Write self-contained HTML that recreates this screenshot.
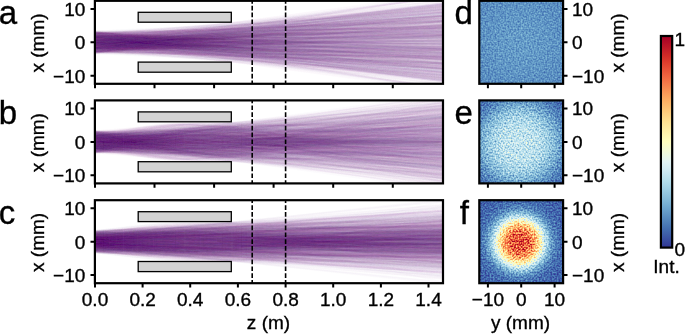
<!DOCTYPE html>
<html lang="en"><head><meta charset="utf-8"><title>Figure</title>
<style>html,body{margin:0;padding:0;background:#fff}body{width:685px;height:334px;overflow:hidden}svg{display:block}text{font-family:"Liberation Sans", sans-serif;fill:#000;stroke:#000;stroke-width:.35px}.r path{fill:none;stroke-opacity:0.0197;stroke-width:1.6}.r path:nth-child(5n+1){stroke:#663399}.r path:nth-child(5n+2){stroke:#993399}.r path:nth-child(5n+3){stroke:#996699}.r path:nth-child(5n+4){stroke:#993399}.r path:nth-child(5n+5){stroke:#666699}</style></head><body>
<svg width="685" height="334" viewBox="0 0 685 334">
<rect width="685" height="334" fill="#fff"/>
<defs>
<linearGradient id="cb" x1="0" y1="0" x2="0" y2="1"><stop offset="0.0000" stop-color="rgb(165,0,38)"/><stop offset="0.0312" stop-color="rgb(179,13,38)"/><stop offset="0.0625" stop-color="rgb(194,28,39)"/><stop offset="0.0938" stop-color="rgb(210,43,39)"/><stop offset="0.1250" stop-color="rgb(221,61,45)"/><stop offset="0.1562" stop-color="rgb(230,80,54)"/><stop offset="0.1875" stop-color="rgb(239,99,63)"/><stop offset="0.2188" stop-color="rgb(245,119,72)"/><stop offset="0.2500" stop-color="rgb(248,140,81)"/><stop offset="0.2812" stop-color="rgb(251,160,91)"/><stop offset="0.3125" stop-color="rgb(253,179,102)"/><stop offset="0.3438" stop-color="rgb(253,195,116)"/><stop offset="0.3750" stop-color="rgb(254,210,131)"/><stop offset="0.4062" stop-color="rgb(254,225,146)"/><stop offset="0.4375" stop-color="rgb(254,235,161)"/><stop offset="0.4688" stop-color="rgb(255,245,175)"/><stop offset="0.5000" stop-color="rgb(255,254,190)"/><stop offset="0.5312" stop-color="rgb(246,251,208)"/><stop offset="0.5625" stop-color="rgb(236,248,226)"/><stop offset="0.5938" stop-color="rgb(226,244,244)"/><stop offset="0.6250" stop-color="rgb(212,237,244)"/><stop offset="0.6562" stop-color="rgb(195,229,240)"/><stop offset="0.6875" stop-color="rgb(178,221,235)"/><stop offset="0.7188" stop-color="rgb(161,209,229)"/><stop offset="0.7500" stop-color="rgb(144,195,221)"/><stop offset="0.7812" stop-color="rgb(127,182,214)"/><stop offset="0.8125" stop-color="rgb(110,166,206)"/><stop offset="0.8438" stop-color="rgb(96,149,196)"/><stop offset="0.8750" stop-color="rgb(81,131,187)"/><stop offset="0.9062" stop-color="rgb(68,113,178)"/><stop offset="0.9375" stop-color="rgb(62,94,168)"/><stop offset="0.9688" stop-color="rgb(55,74,159)"/><stop offset="1.0000" stop-color="rgb(49,54,149)"/></linearGradient>
<radialGradient id="g0" gradientUnits="userSpaceOnUse" cx="521.2" cy="42.3" r="66.7"><stop offset="0.000" stop-color="rgb(43,43,43)"/><stop offset="0.025" stop-color="rgb(43,43,43)"/><stop offset="0.050" stop-color="rgb(43,43,43)"/><stop offset="0.075" stop-color="rgb(43,43,43)"/><stop offset="0.100" stop-color="rgb(43,43,43)"/><stop offset="0.125" stop-color="rgb(43,43,43)"/><stop offset="0.150" stop-color="rgb(43,43,43)"/><stop offset="0.175" stop-color="rgb(43,43,43)"/><stop offset="0.200" stop-color="rgb(43,43,43)"/><stop offset="0.225" stop-color="rgb(42,42,42)"/><stop offset="0.250" stop-color="rgb(42,42,42)"/><stop offset="0.275" stop-color="rgb(42,42,42)"/><stop offset="0.300" stop-color="rgb(42,42,42)"/><stop offset="0.325" stop-color="rgb(42,42,42)"/><stop offset="0.350" stop-color="rgb(41,41,41)"/><stop offset="0.375" stop-color="rgb(41,41,41)"/><stop offset="0.400" stop-color="rgb(41,41,41)"/><stop offset="0.425" stop-color="rgb(41,41,41)"/><stop offset="0.450" stop-color="rgb(40,40,40)"/><stop offset="0.475" stop-color="rgb(40,40,40)"/><stop offset="0.500" stop-color="rgb(40,40,40)"/><stop offset="0.525" stop-color="rgb(39,39,39)"/><stop offset="0.550" stop-color="rgb(39,39,39)"/><stop offset="0.575" stop-color="rgb(39,39,39)"/><stop offset="0.600" stop-color="rgb(38,38,38)"/><stop offset="0.625" stop-color="rgb(38,38,38)"/><stop offset="0.650" stop-color="rgb(38,38,38)"/><stop offset="0.675" stop-color="rgb(38,38,38)"/><stop offset="0.700" stop-color="rgb(37,37,37)"/><stop offset="0.725" stop-color="rgb(37,37,37)"/><stop offset="0.750" stop-color="rgb(37,37,37)"/><stop offset="0.775" stop-color="rgb(36,36,36)"/><stop offset="0.800" stop-color="rgb(36,36,36)"/><stop offset="0.825" stop-color="rgb(36,36,36)"/><stop offset="0.850" stop-color="rgb(36,36,36)"/><stop offset="0.875" stop-color="rgb(35,35,35)"/><stop offset="0.900" stop-color="rgb(35,35,35)"/><stop offset="0.925" stop-color="rgb(35,35,35)"/><stop offset="0.950" stop-color="rgb(35,35,35)"/><stop offset="0.975" stop-color="rgb(34,34,34)"/><stop offset="1.000" stop-color="rgb(34,34,34)"/></radialGradient>
<filter id="h0" x="0" y="0" width="1" height="1" color-interpolation-filters="sRGB"><feTurbulence type="fractalNoise" baseFrequency="0.61" numOctaves="1" seed="3" result="n"/><feColorMatrix in="n" type="matrix" values="1 0 0 0 0  1 0 0 0 0  1 0 0 0 0  0 0 0 0 1" result="n0"/><feGaussianBlur in="n0" stdDeviation="0.5" result="n1"/><feComposite in="SourceGraphic" in2="n1" operator="arithmetic" k1="0.550" k2="0.725" k3="0.170" k4="-0.085" result="m"/><feComponentTransfer in="m"><feFuncR type="table" tableValues="0.192 0.217 0.241 0.266 0.318 0.375 0.433 0.497 0.565 0.633 0.699 0.764 0.830 0.888 0.926 0.964 1.000 0.999 0.997 0.996 0.995 0.994 0.993 0.985 0.973 0.962 0.939 0.903 0.868 0.824 0.762 0.701 0.647"/><feFuncG type="table" tableValues="0.212 0.289 0.367 0.444 0.515 0.584 0.653 0.712 0.766 0.821 0.865 0.897 0.929 0.957 0.971 0.986 0.998 0.959 0.921 0.883 0.825 0.763 0.702 0.627 0.547 0.467 0.390 0.315 0.240 0.170 0.111 0.052 0.000"/><feFuncB type="table" tableValues="0.584 0.622 0.661 0.699 0.735 0.771 0.806 0.838 0.868 0.897 0.922 0.940 0.959 0.955 0.885 0.815 0.745 0.688 0.630 0.572 0.514 0.456 0.398 0.355 0.318 0.281 0.246 0.211 0.177 0.153 0.151 0.150 0.149"/></feComponentTransfer></filter>
<radialGradient id="g1" gradientUnits="userSpaceOnUse" cx="519.5" cy="143.6" r="66.7"><stop offset="0.000" stop-color="rgb(87,87,87)"/><stop offset="0.025" stop-color="rgb(87,87,87)"/><stop offset="0.050" stop-color="rgb(87,87,87)"/><stop offset="0.075" stop-color="rgb(87,87,87)"/><stop offset="0.100" stop-color="rgb(87,87,87)"/><stop offset="0.125" stop-color="rgb(86,86,86)"/><stop offset="0.150" stop-color="rgb(86,86,86)"/><stop offset="0.175" stop-color="rgb(86,86,86)"/><stop offset="0.200" stop-color="rgb(85,85,85)"/><stop offset="0.225" stop-color="rgb(85,85,85)"/><stop offset="0.250" stop-color="rgb(84,84,84)"/><stop offset="0.275" stop-color="rgb(83,83,83)"/><stop offset="0.300" stop-color="rgb(82,82,82)"/><stop offset="0.325" stop-color="rgb(80,80,80)"/><stop offset="0.350" stop-color="rgb(78,78,78)"/><stop offset="0.375" stop-color="rgb(76,76,76)"/><stop offset="0.400" stop-color="rgb(74,74,74)"/><stop offset="0.425" stop-color="rgb(71,71,71)"/><stop offset="0.450" stop-color="rgb(68,68,68)"/><stop offset="0.475" stop-color="rgb(65,65,65)"/><stop offset="0.500" stop-color="rgb(62,62,62)"/><stop offset="0.525" stop-color="rgb(58,58,58)"/><stop offset="0.550" stop-color="rgb(55,55,55)"/><stop offset="0.575" stop-color="rgb(51,51,51)"/><stop offset="0.600" stop-color="rgb(47,47,47)"/><stop offset="0.625" stop-color="rgb(44,44,44)"/><stop offset="0.650" stop-color="rgb(40,40,40)"/><stop offset="0.675" stop-color="rgb(37,37,37)"/><stop offset="0.700" stop-color="rgb(34,34,34)"/><stop offset="0.725" stop-color="rgb(31,31,31)"/><stop offset="0.750" stop-color="rgb(29,29,29)"/><stop offset="0.775" stop-color="rgb(27,27,27)"/><stop offset="0.800" stop-color="rgb(25,25,25)"/><stop offset="0.825" stop-color="rgb(23,23,23)"/><stop offset="0.850" stop-color="rgb(22,22,22)"/><stop offset="0.875" stop-color="rgb(21,21,21)"/><stop offset="0.900" stop-color="rgb(20,20,20)"/><stop offset="0.925" stop-color="rgb(19,19,19)"/><stop offset="0.950" stop-color="rgb(19,19,19)"/><stop offset="0.975" stop-color="rgb(19,19,19)"/><stop offset="1.000" stop-color="rgb(18,18,18)"/></radialGradient>
<filter id="h1" x="0" y="0" width="1" height="1" color-interpolation-filters="sRGB"><feTurbulence type="fractalNoise" baseFrequency="0.61" numOctaves="1" seed="7" result="n"/><feColorMatrix in="n" type="matrix" values="1 0 0 0 0  1 0 0 0 0  1 0 0 0 0  0 0 0 0 1" result="n0"/><feGaussianBlur in="n0" stdDeviation="0.5" result="n1"/><feComposite in="SourceGraphic" in2="n1" operator="arithmetic" k1="0.825" k2="0.587" k3="0.255" k4="-0.128" result="m"/><feComponentTransfer in="m"><feFuncR type="table" tableValues="0.192 0.217 0.241 0.266 0.318 0.375 0.433 0.497 0.565 0.633 0.699 0.764 0.830 0.888 0.926 0.964 1.000 0.999 0.997 0.996 0.995 0.994 0.993 0.985 0.973 0.962 0.939 0.903 0.868 0.824 0.762 0.701 0.647"/><feFuncG type="table" tableValues="0.212 0.289 0.367 0.444 0.515 0.584 0.653 0.712 0.766 0.821 0.865 0.897 0.929 0.957 0.971 0.986 0.998 0.959 0.921 0.883 0.825 0.763 0.702 0.627 0.547 0.467 0.390 0.315 0.240 0.170 0.111 0.052 0.000"/><feFuncB type="table" tableValues="0.584 0.622 0.661 0.699 0.735 0.771 0.806 0.838 0.868 0.897 0.922 0.940 0.959 0.955 0.885 0.815 0.745 0.688 0.630 0.572 0.514 0.456 0.398 0.355 0.318 0.281 0.246 0.211 0.177 0.153 0.151 0.150 0.149"/></feComponentTransfer></filter>
<radialGradient id="g2" gradientUnits="userSpaceOnUse" cx="519.5" cy="242.4" r="66.7"><stop offset="0.000" stop-color="rgb(215,215,215)"/><stop offset="0.025" stop-color="rgb(215,215,215)"/><stop offset="0.050" stop-color="rgb(215,215,215)"/><stop offset="0.075" stop-color="rgb(214,214,214)"/><stop offset="0.100" stop-color="rgb(212,212,212)"/><stop offset="0.125" stop-color="rgb(209,209,209)"/><stop offset="0.150" stop-color="rgb(205,205,205)"/><stop offset="0.175" stop-color="rgb(198,198,198)"/><stop offset="0.200" stop-color="rgb(190,190,190)"/><stop offset="0.225" stop-color="rgb(180,180,180)"/><stop offset="0.250" stop-color="rgb(169,169,169)"/><stop offset="0.275" stop-color="rgb(156,156,156)"/><stop offset="0.300" stop-color="rgb(142,142,142)"/><stop offset="0.325" stop-color="rgb(126,126,126)"/><stop offset="0.350" stop-color="rgb(111,111,111)"/><stop offset="0.375" stop-color="rgb(96,96,96)"/><stop offset="0.400" stop-color="rgb(82,82,82)"/><stop offset="0.425" stop-color="rgb(69,69,69)"/><stop offset="0.450" stop-color="rgb(58,58,58)"/><stop offset="0.475" stop-color="rgb(48,48,48)"/><stop offset="0.500" stop-color="rgb(40,40,40)"/><stop offset="0.525" stop-color="rgb(34,34,34)"/><stop offset="0.550" stop-color="rgb(30,30,30)"/><stop offset="0.575" stop-color="rgb(26,26,26)"/><stop offset="0.600" stop-color="rgb(24,24,24)"/><stop offset="0.625" stop-color="rgb(22,22,22)"/><stop offset="0.650" stop-color="rgb(21,21,21)"/><stop offset="0.675" stop-color="rgb(20,20,20)"/><stop offset="0.700" stop-color="rgb(19,19,19)"/><stop offset="0.725" stop-color="rgb(19,19,19)"/><stop offset="0.750" stop-color="rgb(18,18,18)"/><stop offset="0.775" stop-color="rgb(18,18,18)"/><stop offset="0.800" stop-color="rgb(17,17,17)"/><stop offset="0.825" stop-color="rgb(17,17,17)"/><stop offset="0.850" stop-color="rgb(17,17,17)"/><stop offset="0.875" stop-color="rgb(17,17,17)"/><stop offset="0.900" stop-color="rgb(16,16,16)"/><stop offset="0.925" stop-color="rgb(16,16,16)"/><stop offset="0.950" stop-color="rgb(16,16,16)"/><stop offset="0.975" stop-color="rgb(16,16,16)"/><stop offset="1.000" stop-color="rgb(15,15,15)"/></radialGradient>
<filter id="h2" x="0" y="0" width="1" height="1" color-interpolation-filters="sRGB"><feTurbulence type="fractalNoise" baseFrequency="0.61" numOctaves="1" seed="11" result="n"/><feColorMatrix in="n" type="matrix" values="1 0 0 0 0  1 0 0 0 0  1 0 0 0 0  0 0 0 0 1" result="n0"/><feGaussianBlur in="n0" stdDeviation="0.5" result="n1"/><feComposite in="SourceGraphic" in2="n1" operator="arithmetic" k1="0.770" k2="0.615" k3="0.238" k4="-0.119" result="m"/><feComponentTransfer in="m"><feFuncR type="table" tableValues="0.192 0.217 0.241 0.266 0.318 0.375 0.433 0.497 0.565 0.633 0.699 0.764 0.830 0.888 0.926 0.964 1.000 0.999 0.997 0.996 0.995 0.994 0.993 0.985 0.973 0.962 0.939 0.903 0.868 0.824 0.762 0.701 0.647"/><feFuncG type="table" tableValues="0.212 0.289 0.367 0.444 0.515 0.584 0.653 0.712 0.766 0.821 0.865 0.897 0.929 0.957 0.971 0.986 0.998 0.959 0.921 0.883 0.825 0.763 0.702 0.627 0.547 0.467 0.390 0.315 0.240 0.170 0.111 0.052 0.000"/><feFuncB type="table" tableValues="0.584 0.622 0.661 0.699 0.735 0.771 0.806 0.838 0.868 0.897 0.922 0.940 0.959 0.955 0.885 0.815 0.745 0.688 0.630 0.572 0.514 0.456 0.398 0.355 0.318 0.281 0.246 0.211 0.177 0.153 0.151 0.150 0.149"/></feComponentTransfer></filter>
<clipPath id="c0"><rect x="94.9" y="0.8" width="348.1" height="83"/></clipPath>
<clipPath id="c1"><rect x="94.9" y="100.4" width="348.1" height="83"/></clipPath>
<clipPath id="c2"><rect x="94.9" y="200.2" width="348.1" height="83"/></clipPath>
</defs>
<g clip-path="url(#c0)"><g class="r" id="r0">
<path d="M95,42L445.2,56.2"/>
<path d="M95,38.2L445.2,4.4"/>
<path d="M95,42.2L445.2,60.4"/>
<path d="M95,48.8L445.2,45.1"/>
<path d="M95,45.1L445.2,21"/>
<path d="M95,47L445.2,2.7"/>
<path d="M95,37L445.2,54.5"/>
<path d="M95,45.4L445.2,45.3"/>
<path d="M95,41.4L445.2,34.4"/>
<path d="M95,46L445.2,60.5"/>
<path d="M95,42.9L445.2,74.1"/>
<path d="M95,49.5L445.2,29.2"/>
<path d="M95,47.6L445.2,7.8"/>
<path d="M95,41.8L445.2,36.4"/>
<path d="M95,46.3L445.2,56"/>
<path d="M95,52.8L445.2,15.2"/>
<path d="M95,33.4L445.2,31.9"/>
<path d="M95,41.4L445.2,70.7"/>
<path d="M95,38.2L445.2,48.9"/>
<path d="M95,43.2L445.2,41"/>
<path d="M95,45.9L445.2,44.1"/>
<path d="M95,40.3L445.2,23.8"/>
<path d="M95,38.8L445.2,66.2"/>
<path d="M95,50.9L445.2,56.3"/>
<path d="M95,50.7L445.2,35.4"/>
<path d="M95,39.7L445.2,15.6"/>
<path d="M95,51.3L445.2,64.9"/>
<path d="M95,44.9L445.2,57.5"/>
<path d="M95,37.3L445.2,42.3"/>
<path d="M95,39.6L445.2,43.9"/>
<path d="M95,35.9L445.2,54.2"/>
<path d="M95,33.2L445.2,65.8"/>
<path d="M95,50.6L445.2,16.3"/>
<path d="M95,32.7L445.2,53"/>
<path d="M95,46.9L445.2,25.1"/>
<path d="M95,34.4L445.2,72.3"/>
<path d="M95,43.8L445.2,63.5"/>
<path d="M95,35.9L445.2,48.8"/>
<path d="M95,38.3L445.2,28.4"/>
<path d="M95,41.8L445.2,8.5"/>
<path d="M95,43.3L445.2,4.1"/>
<path d="M95,40L445.2,59.1"/>
<path d="M95,41.5L445.2,29.2"/>
<path d="M95,46.3L445.2,15.2"/>
<path d="M95,43.2L445.2,34.9"/>
<path d="M95,32.8L445.2,68.7"/>
<path d="M95,49.3L445.2,40.6"/>
<path d="M95,35.5L445.2,49.3"/>
<path d="M95,40.8L445.2,56.6"/>
<path d="M95,34.9L445.2,22.7"/>
<path d="M95,31.6L445.2,68.1"/>
<path d="M95,39.4L445.2,79.7"/>
<path d="M95,36.8L445.2,53.4"/>
<path d="M95,36.6L445.2,26.2"/>
<path d="M95,37L445.2,7.3"/>
<path d="M95,36.8L445.2,44.5"/>
<path d="M95,36.7L445.2,58.6"/>
<path d="M95,47.9L445.2,46"/>
<path d="M95,45.2L445.2,61.5"/>
<path d="M95,37.1L445.2,0.8"/>
<path d="M95,33.8L445.2,77.6"/>
<path d="M95,47.6L445.2,50.1"/>
<path d="M95,38.8L445.2,77.3"/>
<path d="M95,41.2L445.2,7.5"/>
<path d="M95,38.6L445.2,37"/>
<path d="M95,47.2L445.2,33.5"/>
<path d="M95,32.4L445.2,48.9"/>
<path d="M95,37.7L445.2,47.7"/>
<path d="M95,39.2L445.2,34.3"/>
<path d="M95,42.3L445.2,52.8"/>
<path d="M95,48.6L445.2,4.5"/>
<path d="M95,37L445.2,33.5"/>
<path d="M95,39.7L445.2,18.9"/>
<path d="M95,43.1L445.2,15.5"/>
<path d="M95,45.2L445.2,23.6"/>
<path d="M95,36.2L445.2,88.5"/>
<path d="M95,47L445.2,11.9"/>
<path d="M95,48.8L445.2,21.1"/>
<path d="M95,39.8L445.2,49.3"/>
<path d="M95,48.8L445.2,21.8"/>
<path d="M95,41.2L445.2,57.3"/>
<path d="M95,34.2L445.2,79.5"/>
<path d="M95,42.8L445.2,58.1"/>
<path d="M95,32.8L445.2,68.9"/>
<path d="M95,37.2L445.2,75"/>
<path d="M95,38.9L445.2,56.3"/>
<path d="M95,33.8L445.2,36.6"/>
<path d="M95,40.4L445.2,33.7"/>
<path d="M95,33.8L445.2,53.2"/>
<path d="M95,40.7L445.2,55.1"/>
<path d="M95,36L445.2,82.3"/>
<path d="M95,42.2L445.2,3.2"/>
<path d="M95,35.1L445.2,50.2"/>
<path d="M95,42.9L445.2,66.1"/>
<path d="M95,49.6L445.2,26.9"/>
<path d="M95,37.5L445.2,80.5"/>
<path d="M95,32.3L445.2,59.9"/>
<path d="M95,34L445.2,26.5"/>
<path d="M95,41.9L445.2,6.3"/>
<path d="M95,40.1L445.2,22.1"/>
<path d="M95,48.3L445.2,46"/>
<path d="M95,35.9L445.2,44"/>
<path d="M95,39.6L445.2,56.2"/>
<path d="M95,33.7L445.2,48.7"/>
<path d="M95,38.4L445.2,2.7"/>
<path d="M95,45.5L445.2,22.6"/>
<path d="M95,46.2L445.2,32.6"/>
<path d="M95,40.3L445.2,23.6"/>
<path d="M95,33.1L445.2,69"/>
<path d="M95,41.1L445.2,38.6"/>
<path d="M95,44L445.2,25.2"/>
<path d="M95,42.3L445.2,50.4"/>
<path d="M95,34.4L445.2,20.3"/>
<path d="M95,35.5L445.2,34.6"/>
<path d="M95,40L445.2,43.2"/>
<path d="M95,46.3L445.2,12.3"/>
<path d="M95,35L445.2,58.8"/>
<path d="M95,44.2L445.2,74.7"/>
<path d="M95,39.6L445.2,12.6"/>
<path d="M95,52.1L445.2,72.1"/>
<path d="M95,38.7L445.2,30.1"/>
<path d="M95,32.2L445.2,55.5"/>
<path d="M95,45.4L445.2,56.9"/>
<path d="M95,39.1L445.2,8.1"/>
<path d="M95,40.3L445.2,29.9"/>
<path d="M95,41.6L445.2,29.1"/>
<path d="M95,39.4L445.2,59.6"/>
<path d="M95,51.7L445.2,64.7"/>
<path d="M95,44.8L445.2,17.8"/>
<path d="M95,41.5L445.2,19.6"/>
<path d="M95,51.1L445.2,15.6"/>
<path d="M95,50.9L445.2,37.6"/>
<path d="M95,42.9L445.2,77.9"/>
<path d="M95,44.3L445.2,48.9"/>
<path d="M95,40.9L445.2,56.7"/>
<path d="M95,52.1L445.2,14"/>
<path d="M95,49.1L445.2,62.8"/>
<path d="M95,45.4L445.2,18.7"/>
<path d="M95,51.4L445.2,5.2"/>
<path d="M95,33.6L445.2,21.5"/>
<path d="M95,33.7L445.2,13.9"/>
<path d="M95,43L445.2,74.4"/>
<path d="M95,39.1L445.2,36.3"/>
<path d="M95,45.2L445.2,60.1"/>
<path d="M95,46.8L445.2,13.8"/>
<path d="M95,51.7L445.2,9.9"/>
<path d="M95,42.2L445.2,33.9"/>
<path d="M95,48.9L445.2,31.9"/>
<path d="M95,41.9L445.2,34.7"/>
<path d="M95,35.1L445.2,48.1"/>
<path d="M95,51.1L445.2,64.3"/>
<path d="M95,43.1L445.2,55.9"/>
<path d="M95,37.8L445.2,67"/>
<path d="M95,49L445.2,28"/>
<path d="M95,48.6L445.2,32"/>
<path d="M95,43L445.2,41.2"/>
<path d="M95,33.9L445.2,81.5"/>
<path d="M95,48.5L445.2,16.7"/>
<path d="M95,47.8L445.2,21"/>
<path d="M95,37.8L445.2,41.2"/>
<path d="M95,45L445.2,35"/>
<path d="M95,53.4L445.2,56.1"/>
<path d="M95,37.5L445.2,17.5"/>
<path d="M95,52.1L445.2,17.8"/>
<path d="M95,42.5L445.2,27.9"/>
<path d="M95,45.1L445.2,8.4"/>
<path d="M95,47.2L445.2,59.7"/>
<path d="M95,31.9L445.2,62.5"/>
<path d="M95,38.3L445.2,43.2"/>
<path d="M95,48.9L445.2,9.5"/>
<path d="M95,44.6L445.2,-3.5"/>
<path d="M95,42.8L445.2,29.4"/>
<path d="M95,38.2L445.2,69.2"/>
<path d="M95,43.3L445.2,36"/>
<path d="M95,35.2L445.2,75.7"/>
<path d="M95,34.8L445.2,27.3"/>
<path d="M95,49.6L445.2,11.3"/>
<path d="M95,44.8L445.2,51.7"/>
<path d="M95,37L445.2,31.4"/>
<path d="M95,40.6L445.2,75.8"/>
<path d="M95,36.6L445.2,51.8"/>
<path d="M95,52.2L445.2,37.1"/>
<path d="M95,43.2L445.2,6.3"/>
<path d="M95,48L445.2,69.3"/>
<path d="M95,48L445.2,24.5"/>
<path d="M95,40.2L445.2,11.3"/>
<path d="M95,42.4L445.2,78.2"/>
<path d="M95,42.7L445.2,26.2"/>
<path d="M95,44.3L445.2,52.8"/>
<path d="M95,48.6L445.2,57.8"/>
<path d="M95,41.4L445.2,41.7"/>
<path d="M95,37.4L445.2,33.9"/>
<path d="M95,43.3L445.2,20.1"/>
<path d="M95,35.1L445.2,31.9"/>
<path d="M95,44.4L445.2,56.7"/>
<path d="M95,45.3L445.2,4.2"/>
<path d="M95,52L445.2,39.1"/>
<path d="M95,36.6L445.2,46.4"/>
<path d="M95,33.7L445.2,62.9"/>
<path d="M95,34.8L445.2,65.6"/>
<path d="M95,34.8L445.2,48.3"/>
<path d="M95,34.7L445.2,3.8"/>
<path d="M95,37.4L445.2,44.3"/>
<path d="M95,43.9L445.2,54.4"/>
<path d="M95,37.8L445.2,36.7"/>
<path d="M95,33.5L445.2,72"/>
<path d="M95,36.7L445.2,9.4"/>
<path d="M95,49.8L445.2,18.2"/>
<path d="M95,49.7L445.2,25.3"/>
<path d="M95,48.1L445.2,17.1"/>
<path d="M95,40L445.2,89.2"/>
<path d="M95,42.9L445.2,0.6"/>
<path d="M95,34.7L445.2,46.1"/>
<path d="M95,48.9L445.2,32.9"/>
<path d="M95,45L445.2,31.4"/>
<path d="M95,37.3L445.2,63"/>
<path d="M95,43.2L445.2,82.6"/>
<path d="M95,44.8L445.2,78"/>
<path d="M95,49.4L445.2,16.9"/>
<path d="M95,42.4L445.2,5.5"/>
<path d="M95,48.2L445.2,15.1"/>
<path d="M95,39.8L445.2,47.4"/>
<path d="M95,41.6L445.2,16.6"/>
<path d="M95,37L445.2,25.4"/>
<path d="M95,38.4L445.2,49.3"/>
<path d="M95,50.7L445.2,8.4"/>
<path d="M95,38.6L445.2,37.2"/>
<path d="M95,53.5L445.2,28.9"/>
<path d="M95,46L445.2,54.5"/>
<path d="M95,37L445.2,72.2"/>
<path d="M95,51.5L445.2,25.3"/>
<path d="M95,36.3L445.2,18.2"/>
<path d="M95,45.2L445.2,56.6"/>
<path d="M95,39L445.2,80.8"/>
<path d="M95,39.6L445.2,38.4"/>
<path d="M95,48.7L445.2,31.8"/>
<path d="M95,39.7L445.2,63.9"/>
<path d="M95,37.4L445.2,78"/>
<path d="M95,49.4L445.2,39.4"/>
<path d="M95,37.7L445.2,58.5"/>
<path d="M95,48.3L445.2,3.1"/>
<path d="M95,39.3L445.2,45.7"/>
<path d="M95,49.9L445.2,43.2"/>
<path d="M95,50.7L445.2,65.3"/>
<path d="M95,36.1L445.2,37.1"/>
<path d="M95,35.8L445.2,3.2"/>
<path d="M95,38.5L445.2,74.9"/>
<path d="M95,53.3L445.2,32.6"/>
<path d="M95,42.4L445.2,60.8"/>
<path d="M95,42.3L445.2,56.4"/>
<path d="M95,40.6L445.2,22.2"/>
<path d="M95,42.3L445.2,40.6"/>
<path d="M95,31.9L445.2,77.2"/>
<path d="M95,34.2L445.2,69.3"/>
<path d="M95,44.8L445.2,30"/>
<path d="M95,39.5L445.2,78.3"/>
<path d="M95,32L445.2,54.4"/>
<path d="M95,36.9L445.2,60.3"/>
<path d="M95,32.6L445.2,66.5"/>
<path d="M95,37.7L445.2,26.1"/>
<path d="M95,40.9L445.2,19.9"/>
<path d="M95,36.6L445.2,75.5"/>
<path d="M95,46.4L445.2,58.8"/>
<path d="M95,49L445.2,41.6"/>
<path d="M95,41.3L445.2,46.8"/>
<path d="M95,46.3L445.2,16.7"/>
<path d="M95,46.7L445.2,37.7"/>
<path d="M95,51.8L445.2,62"/>
<path d="M95,39L445.2,41.3"/>
<path d="M95,31.2L445.2,13.6"/>
<path d="M95,36.6L445.2,9.5"/>
<path d="M95,37.3L445.2,27.6"/>
<path d="M95,49.9L445.2,63.5"/>
<path d="M95,39.6L445.2,27.7"/>
<path d="M95,42.6L445.2,41.8"/>
<path d="M95,50.9L445.2,64.7"/>
<path d="M95,49.5L445.2,27.2"/>
<path d="M95,42.3L445.2,35.9"/>
<path d="M95,40.8L445.2,15.5"/>
<path d="M95,51L445.2,74.5"/>
<path d="M95,45L445.2,20.6"/>
<path d="M95,35L445.2,15.9"/>
<path d="M95,40.9L445.2,42.3"/>
<path d="M95,36.2L445.2,32.6"/>
<path d="M95,45.3L445.2,34.7"/>
<path d="M95,36.4L445.2,77.7"/>
<path d="M95,43.2L445.2,8.9"/>
<path d="M95,32.1L445.2,71.6"/>
<path d="M95,35.6L445.2,16.1"/>
<path d="M95,48.3L445.2,4.7"/>
<path d="M95,34.4L445.2,90.3"/>
<path d="M95,43.9L445.2,59.8"/>
<path d="M95,43.5L445.2,55.4"/>
<path d="M95,41.2L445.2,57.1"/>
<path d="M95,48.3L445.2,47.9"/>
<path d="M95,44.7L445.2,56"/>
<path d="M95,46.8L445.2,49.4"/>
<path d="M95,50.5L445.2,48.2"/>
<path d="M95,40.8L445.2,48.6"/>
<path d="M95,42.9L445.2,-4.4"/>
<path d="M95,37.8L445.2,77.1"/>
<path d="M95,33.6L445.2,57.4"/>
<path d="M95,40.6L445.2,65.4"/>
<path d="M95,40.5L445.2,71.9"/>
<path d="M95,40.9L445.2,72.5"/>
<path d="M95,46.1L445.2,31.2"/>
<path d="M95,32.5L445.2,62.9"/>
<path d="M95,32.3L445.2,23.3"/>
<path d="M95,39.3L445.2,18.2"/>
<path d="M95,42.4L445.2,75.7"/>
<path d="M95,48.2L445.2,-4.2"/>
<path d="M95,49.9L445.2,37.9"/>
<path d="M95,43.9L445.2,58.8"/>
<path d="M95,31.5L445.2,26.7"/>
<path d="M95,46.1L445.2,19.3"/>
<path d="M95,49.3L445.2,46.5"/>
<path d="M95,35.4L445.2,50.8"/>
<path d="M95,36.8L445.2,22.8"/>
<path d="M95,45.1L445.2,12.9"/>
<path d="M95,53.2L445.2,68.1"/>
<path d="M95,32.7L445.2,48.7"/>
<path d="M95,38.9L445.2,17"/>
<path d="M95,49L445.2,14.4"/>
<path d="M95,38.1L445.2,49.8"/>
<path d="M95,40.9L445.2,31.4"/>
<path d="M95,44.3L445.2,9.7"/>
<path d="M95,40.6L445.2,34.9"/>
<path d="M95,48.4L445.2,39.8"/>
<path d="M95,48L445.2,75.2"/>
<path d="M95,43.2L445.2,54.2"/>
<path d="M95,46.2L445.2,27.3"/>
<path d="M95,45.2L445.2,24.2"/>
<path d="M95,40.6L445.2,70.7"/>
<path d="M95,36.4L445.2,18.6"/>
<path d="M95,44.4L445.2,13.6"/>
<path d="M95,50.9L445.2,58"/>
<path d="M95,49.2L445.2,49"/>
<path d="M95,33L445.2,49.4"/>
<path d="M95,47.3L445.2,5.8"/>
<path d="M95,43.1L445.2,50.9"/>
<path d="M95,47.6L445.2,40.9"/>
<path d="M95,48.4L445.2,53.8"/>
<path d="M95,39.6L445.2,5"/>
<path d="M95,42.6L445.2,88"/>
<path d="M95,47L445.2,14.5"/>
<path d="M95,40.7L445.2,54.9"/>
<path d="M95,51.5L445.2,67.3"/>
<path d="M95,34.1L445.2,74.7"/>
<path d="M95,40.2L445.2,73.1"/>
<path d="M95,32.7L445.2,28.2"/>
<path d="M95,40.5L445.2,52.6"/>
<path d="M95,41.9L445.2,78.1"/>
<path d="M95,39.3L445.2,45.2"/>
<path d="M95,37.4L445.2,73.9"/>
<path d="M95,41.3L445.2,25.8"/>
<path d="M95,36.8L445.2,19.9"/>
<path d="M95,44.6L445.2,25.1"/>
<path d="M95,34.8L445.2,26.6"/>
<path d="M95,49L445.2,5.9"/>
<path d="M95,42L445.2,28.1"/>
<path d="M95,44.9L445.2,24.6"/>
<path d="M95,42L445.2,47.1"/>
<path d="M95,31.7L445.2,67.6"/>
<path d="M95,45.6L445.2,26.4"/>
<path d="M95,44.3L445.2,66"/>
<path d="M95,33.8L445.2,49"/>
<path d="M95,40.5L445.2,72.8"/>
<path d="M95,47.8L445.2,15.2"/>
<path d="M95,37.4L445.2,68.4"/>
<path d="M95,48.4L445.2,-3.2"/>
<path d="M95,43L445.2,40.5"/>
<path d="M95,50.3L445.2,63.5"/>
<path d="M95,43.8L445.2,54.8"/>
<path d="M95,34.2L445.2,34.4"/>
<path d="M95,37.6L445.2,46.8"/>
<path d="M95,40.4L445.2,4.5"/>
<path d="M95,43.5L445.2,12"/>
<path d="M95,52.7L445.2,49.9"/>
<path d="M95,50.5L445.2,62.9"/>
<path d="M95,43.5L445.2,78.1"/>
<path d="M95,33.8L445.2,41.7"/>
<path d="M95,48.5L445.2,58.8"/>
<path d="M95,43.9L445.2,15.5"/>
<path d="M95,41.3L445.2,54"/>
<path d="M95,38.8L445.2,59.7"/>
<path d="M95,41.2L445.2,72.4"/>
<path d="M95,51.3L445.2,62.9"/>
<path d="M95,39.7L445.2,70.9"/>
<path d="M95,42.1L445.2,3.2"/>
<path d="M95,38L445.2,81.2"/>
<path d="M95,43.5L445.2,34"/>
<path d="M95,48.4L445.2,38.2"/>
<path d="M95,49.1L445.2,68.8"/>
<path d="M95,51.8L445.2,19.6"/>
<path d="M95,47.8L445.2,50.9"/>
<path d="M95,45.2L445.2,49"/>
<path d="M95,43.3L445.2,73"/>
<path d="M95,38.3L445.2,34.1"/>
<path d="M95,51.2L445.2,60"/>
<path d="M95,33.5L445.2,52.2"/>
<path d="M95,42.9L445.2,59.7"/>
<path d="M95,33.9L445.2,11.5"/>
<path d="M95,45.6L445.2,57.5"/>
<path d="M95,44.5L445.2,80.2"/>
<path d="M95,40L445.2,38.2"/>
<path d="M95,40.3L445.2,12.3"/>
<path d="M95,50.4L445.2,50.6"/>
<path d="M95,39.9L445.2,4.7"/>
<path d="M95,45.4L445.2,14.6"/>
<path d="M95,44.3L445.2,70.6"/>
<path d="M95,40L445.2,46.9"/>
<path d="M95,45.7L445.2,41"/>
<path d="M95,34.2L445.2,11.4"/>
<path d="M95,36.4L445.2,25.9"/>
<path d="M95,52.6L445.2,3.8"/>
<path d="M95,48.8L445.2,42.5"/>
<path d="M95,42L445.2,5.4"/>
<path d="M95,41.4L445.2,68.9"/>
<path d="M95,49.2L445.2,-3"/>
<path d="M95,35.8L445.2,15.8"/>
<path d="M95,36.4L445.2,73.8"/>
<path d="M95,37.2L445.2,17.9"/>
<path d="M95,50.1L445.2,44.7"/>
<path d="M95,38.4L445.2,44.5"/>
<path d="M95,46.1L445.2,63.8"/>
<path d="M95,43.2L445.2,34.7"/>
<path d="M95,49.5L445.2,11.2"/>
<path d="M95,47.6L445.2,14.6"/>
<path d="M95,33.8L445.2,56.2"/>
<path d="M95,47.8L445.2,41.9"/>
<path d="M95,32.9L445.2,27.5"/>
<path d="M95,41.3L445.2,54.9"/>
<path d="M95,37.3L445.2,42"/>
<path d="M95,47.9L445.2,7"/>
<path d="M95,40.1L445.2,40.9"/>
<path d="M95,35.9L445.2,44.8"/>
<path d="M95,35.3L445.2,19.7"/>
<path d="M95,47.2L445.2,20.8"/>
<path d="M95,39.9L445.2,61.2"/>
<path d="M95,34.7L445.2,30.5"/>
<path d="M95,34.1L445.2,81.8"/>
<path d="M95,41.8L445.2,42.2"/>
<path d="M95,39.3L445.2,39.6"/>
<path d="M95,37.5L445.2,44.3"/>
<path d="M95,51.2L445.2,34.9"/>
<path d="M95,36.3L445.2,18.2"/>
<path d="M95,46.9L445.2,14.6"/>
<path d="M95,41.6L445.2,79.5"/>
<path d="M95,42.6L445.2,60.2"/>
<path d="M95,35.2L445.2,78.9"/>
<path d="M95,50.6L445.2,26.8"/>
<path d="M95,51.9L445.2,27.8"/>
<path d="M95,38.5L445.2,73.2"/>
<path d="M95,37.3L445.2,8.3"/>
<path d="M95,38.5L445.2,62.2"/>
<path d="M95,37.3L445.2,48.7"/>
<path d="M95,36.1L445.2,74.5"/>
<path d="M95,53L445.2,51.1"/>
<path d="M95,44.5L445.2,43.8"/>
<path d="M95,34.4L445.2,54.4"/>
<path d="M95,36.7L445.2,9.8"/>
<path d="M95,46L445.2,75"/>
<path d="M95,49.9L445.2,63.5"/>
<path d="M95,35.6L445.2,48.1"/>
<path d="M95,50L445.2,16"/>
<path d="M95,47.9L445.2,38.6"/>
<path d="M95,43.5L445.2,80"/>
<path d="M95,41.1L445.2,47.5"/>
<path d="M95,48.6L445.2,45.6"/>
<path d="M95,38.7L445.2,72.5"/>
<path d="M95,40.3L445.2,15.2"/>
<path d="M95,37.1L445.2,57.7"/>
<path d="M95,43.3L445.2,40.5"/>
<path d="M95,47.8L445.2,3.9"/>
<path d="M95,41.2L445.2,67.9"/>
<path d="M95,34.4L445.2,20.8"/>
<path d="M95,47.9L445.2,60.2"/>
<path d="M95,46.3L445.2,46.9"/>
<path d="M95,37.7L445.2,33.8"/>
<path d="M95,43.7L445.2,48.6"/>
<path d="M95,37.6L445.2,33.6"/>
<path d="M95,50.9L445.2,77.4"/>
<path d="M95,42L445.2,86.4"/>
<path d="M95,40.3L445.2,-4.7"/>
<path d="M95,49.8L445.2,52.2"/>
<path d="M95,43.3L445.2,7.3"/>
<path d="M95,33L445.2,9.3"/>
<path d="M95,34.3L445.2,78.4"/>
<path d="M95,37.8L445.2,82.9"/>
<path d="M95,48.9L445.2,76.3"/>
<path d="M95,45L445.2,13.3"/>
<path d="M95,38L445.2,27.7"/>
<path d="M95,47.1L445.2,34.2"/>
<path d="M95,41L445.2,62.3"/>
<path d="M95,43.1L445.2,43.6"/>
<path d="M95,43L445.2,35.5"/>
<path d="M95,46.8L445.2,55"/>
<path d="M95,40.6L445.2,58.8"/>
<path d="M95,51.1L445.2,25.7"/>
<path d="M95,42.5L445.2,68.4"/>
<path d="M95,37.8L445.2,15.7"/>
<path d="M95,39.9L445.2,33.9"/>
<path d="M95,47.3L445.2,20.5"/>
<path d="M95,33L445.2,48.8"/>
<path d="M95,48.8L445.2,13.9"/>
<path d="M95,47L445.2,35.3"/>
<path d="M95,37.7L445.2,5.9"/>
<path d="M95,41.2L445.2,20.5"/>
<path d="M95,48L445.2,63.3"/>
<path d="M95,32.6L445.2,47.6"/>
<path d="M95,32.1L445.2,37.6"/>
<path d="M95,32.9L445.2,26.8"/>
<path d="M95,48.4L445.2,26.3"/>
<path d="M95,49.8L445.2,66.5"/>
<path d="M95,34.7L445.2,33.2"/>
<path d="M95,34L445.2,63.1"/>
<path d="M95,34.8L445.2,39.2"/>
<path d="M95,41.3L445.2,-0.1"/>
<path d="M95,39.2L445.2,11.5"/>
<path d="M95,33.8L445.2,40.8"/>
<path d="M95,40.8L445.2,31"/>
<path d="M95,37.8L445.2,57.6"/>
<path d="M95,52L445.2,23.9"/>
<path d="M95,43L445.2,68.4"/>
<path d="M95,42.6L445.2,21.1"/>
<path d="M95,33.6L445.2,72"/>
<path d="M95,45.7L445.2,86.6"/>
<path d="M95,34.7L445.2,33.3"/>
<path d="M95,42.1L445.2,76.1"/>
<path d="M95,39.8L445.2,25.6"/>
<path d="M95,44.3L445.2,63.9"/>
<path d="M95,36.6L445.2,62.5"/>
<path d="M95,50.2L445.2,78.6"/>
<path d="M95,36.9L445.2,29.7"/>
<path d="M95,43.6L445.2,64.1"/>
<path d="M95,38.8L445.2,12.5"/>
<path d="M95,37.4L445.2,31.3"/>
<path d="M95,48.7L445.2,36.9"/>
<path d="M95,52.1L445.2,-4.8"/>
<path d="M95,42.8L445.2,22.4"/>
<path d="M95,47.3L445.2,66.5"/>
<path d="M95,53.1L445.2,55.9"/>
<path d="M95,45L445.2,23.2"/>
<path d="M95,46.6L445.2,39.1"/>
<path d="M95,53.1L445.2,52.1"/>
<path d="M95,40.9L445.2,35.6"/>
<path d="M95,36.4L445.2,30.2"/>
<path d="M95,48L445.2,31.9"/>
<path d="M95,33.2L445.2,28.1"/>
<path d="M95,44.2L445.2,28.2"/>
<path d="M95,36.7L445.2,49.6"/>
<path d="M95,44.7L445.2,-3.5"/>
<path d="M95,44L445.2,74.2"/>
<path d="M95,47.6L445.2,64.3"/>
<path d="M95,41.2L445.2,75.1"/>
<path d="M95,39.3L445.2,37.9"/>
<path d="M95,51.7L445.2,51.2"/>
<path d="M95,52.7L445.2,27.3"/>
<path d="M95,35.6L445.2,52.9"/>
<path d="M95,47.8L445.2,24.1"/>
<path d="M95,32.5L445.2,60.3"/>
<path d="M95,47.6L445.2,20.6"/>
<path d="M95,46.6L445.2,-3"/>
<path d="M95,40.5L445.2,46.7"/>
<path d="M95,41.6L445.2,35.2"/>
<path d="M95,47.3L445.2,54"/>
<path d="M95,44.1L445.2,53.4"/>
<path d="M95,42.2L445.2,50.1"/>
<path d="M95,39.4L445.2,57.2"/>
<path d="M95,48.3L445.2,29.7"/>
<path d="M95,35.2L445.2,67.6"/>
<path d="M95,38.6L445.2,63.2"/>
<path d="M95,44.8L445.2,-0.2"/>
<path d="M95,45.2L445.2,64.4"/>
<path d="M95,48.8L445.2,57.5"/>
<path d="M95,44.6L445.2,17.9"/>
<path d="M95,43L445.2,91.1"/>
<path d="M95,43.7L445.2,10.3"/>
<path d="M95,45.4L445.2,21.2"/>
<path d="M95,49.5L445.2,12.7"/>
<path d="M95,46.6L445.2,13.8"/>
<path d="M95,48.6L445.2,21.1"/>
<path d="M95,45.3L445.2,46.9"/>
<path d="M95,49.1L445.2,75.7"/>
<path d="M95,44.9L445.2,53.9"/>
<path d="M95,46.3L445.2,32.6"/>
<path d="M95,37.8L445.2,76.8"/>
<path d="M95,50.1L445.2,49.8"/>
<path d="M95,32.9L445.2,53.1"/>
<path d="M95,39.9L445.2,20"/>
<path d="M95,42.8L445.2,51.5"/>
<path d="M95,41.3L445.2,30.8"/>
<path d="M95,33.6L445.2,41.1"/>
<path d="M95,38.3L445.2,5.7"/>
<path d="M95,45.5L445.2,80.4"/>
<path d="M95,42.5L445.2,21.1"/>
<path d="M95,42.1L445.2,47.7"/>
<path d="M95,44.2L445.2,24.5"/>
<path d="M95,39.3L445.2,8.2"/>
<path d="M95,47.3L445.2,52.4"/>
<path d="M95,43L445.2,39.9"/>
<path d="M95,46.7L445.2,68.8"/>
<path d="M95,37.9L445.2,17.6"/>
<path d="M95,51.8L445.2,29"/>
<path d="M95,35.8L445.2,68.8"/>
<path d="M95,48.4L445.2,14.9"/>
<path d="M95,34.5L445.2,49.5"/>
<path d="M95,48.9L445.2,62.7"/>
<path d="M95,44.2L445.2,49"/>
<path d="M95,43.3L445.2,20.6"/>
<path d="M95,36.7L445.2,26.4"/>
<path d="M95,33L445.2,28.7"/>
<path d="M95,32L445.2,62.2"/>
<path d="M95,38.1L445.2,88.2"/>
<path d="M95,34.8L445.2,38.4"/>
<path d="M95,47.7L445.2,33.2"/>
<path d="M95,34.7L445.2,53.6"/>
<path d="M95,51.7L445.2,62"/>
<path d="M95,44.2L445.2,84.1"/>
<path d="M95,36.1L445.2,52.8"/>
<path d="M95,32.6L445.2,16.6"/>
<path d="M95,50.1L445.2,25.4"/>
<path d="M95,38.4L445.2,79.3"/>
<path d="M95,45.3L445.2,26.6"/>
<path d="M95,39.9L445.2,55"/>
<path d="M95,39L445.2,19.4"/>
<path d="M95,44.4L445.2,18.2"/>
<path d="M95,37.8L445.2,64.2"/>
<path d="M95,44.7L445.2,37.4"/>
<path d="M95,47.1L445.2,38.9"/>
<path d="M95,39.5L445.2,80.3"/>
<path d="M95,42.8L445.2,18.1"/>
<path d="M95,48.2L445.2,44.4"/>
<path d="M95,46.1L445.2,24.9"/>
<path d="M95,32.8L445.2,34"/>
<path d="M95,38L445.2,11.4"/>
<path d="M95,32L445.2,76.6"/>
<path d="M95,39.8L445.2,6.4"/>
<path d="M95,43.5L445.2,11.9"/>
<path d="M95,48.1L445.2,60.4"/>
<path d="M95,46.7L445.2,52.5"/>
<path d="M95,51.8L445.2,42.8"/>
<path d="M95,41.1L445.2,53.2"/>
<path d="M95,37.9L445.2,63.2"/>
<path d="M95,48.8L445.2,5.9"/>
<path d="M95,40.2L445.2,35.2"/>
<path d="M95,31.4L445.2,71"/>
<path d="M95,51.9L445.2,31.7"/>
<path d="M95,48.1L445.2,11.6"/>
<path d="M95,43.1L445.2,47.1"/>
<path d="M95,36.6L445.2,44.8"/>
</g><use href="#r0" transform="translate(0,84.6) scale(1,-1)"/></g>
<g clip-path="url(#c1)"><g class="r" id="r1">
<path d="M95,138.2L137.8,142.5C153.5,144.1 169.2,145.6 184.9,147.1S216.3,150 231.9,151.3L445.2,168.4"/>
<path d="M95,133.5L137.8,130.8C153.5,129.8 169.2,129.1 184.9,128.8S216.3,128.6 231.9,129.1L445.2,135.5"/>
<path d="M95,149.1L137.8,149.1C153.5,149.1 169.2,149.1 184.9,149.1S216.3,149 231.9,148.9L445.2,147.8"/>
<path d="M95,147.8L137.8,150.8C153.5,151.9 169.2,152.6 184.9,152.8S216.3,152.8 231.9,152.1L445.2,142.6"/>
<path d="M95,148.1L137.8,151.9C153.5,153.3 169.2,154.6 184.9,156S216.3,158.7 231.9,160.1L445.2,178.5"/>
<path d="M95,138L137.8,135.8C153.5,135 169.2,134.3 184.9,133.6S216.3,132.1 231.9,131.4L445.2,122.3"/>
<path d="M95,143.7L137.8,132.5C153.5,128.5 169.2,125.6 184.9,125S216.3,125.9 231.9,129.1L445.2,173.3"/>
<path d="M95,136L137.8,141.4C153.5,143.4 169.2,145.4 184.9,147.4S216.3,151.2 231.9,153.1L445.2,178.1"/>
<path d="M95,149.5L137.8,151.7C153.5,152.4 169.2,153.2 184.9,153.9S216.3,155.4 231.9,156.1L445.2,165.7"/>
<path d="M95,145.6L137.8,147.4C153.5,148.1 169.2,148.1 184.9,147.6S216.3,145.9 231.9,144.5L445.2,124.9"/>
<path d="M95,138.1L137.8,144.8C153.5,147.2 169.2,149.5 184.9,151.4S216.3,154.8 231.9,155.7L445.2,167.8"/>
<path d="M95,135.7L137.8,128.4C153.5,125.7 169.2,124.3 184.9,124.5S216.3,126.5 231.9,129.5L445.2,170.2"/>
<path d="M95,138.4L137.8,144.8C153.5,147.1 169.2,149.4 184.9,151.6S216.3,155.9 231.9,157.8L445.2,183.8"/>
<path d="M95,133.9L137.8,135.3C153.5,135.9 169.2,136.8 184.9,138S216.3,140.6 231.9,142L445.2,161.2"/>
<path d="M95,145L137.8,145C153.5,144.9 169.2,144.9 184.9,144.8S216.3,144.8 231.9,144.7L445.2,144"/>
<path d="M95,145.1L137.8,148.4C153.5,149.7 169.2,150.8 184.9,151.8S216.3,153.8 231.9,154.6L445.2,165.1"/>
<path d="M95,144.6L137.8,138.8C153.5,136.6 169.2,134.8 184.9,133.7S216.3,132.2 231.9,132.6L445.2,138.7"/>
<path d="M95,140.7L137.8,142.7C153.5,143.5 169.2,144.2 184.9,144.9S216.3,146.2 231.9,146.7L445.2,154.3"/>
<path d="M95,134.6L137.8,132.4C153.5,131.6 169.2,132 184.9,133.4S216.3,137.3 231.9,140L445.2,177"/>
<path d="M95,147.9L137.8,153.3C153.5,155.3 169.2,156.5 184.9,156.8S216.3,156.3 231.9,154.8L445.2,133.6"/>
<path d="M95,135.8L137.8,142.9C153.5,145.5 169.2,148.1 184.9,150.6S216.3,155.5 231.9,157.7L445.2,188.4"/>
<path d="M95,131.2L137.8,131.9C153.5,132.1 169.2,132.9 184.9,134.1S216.3,137 231.9,138.9L445.2,163.8"/>
<path d="M95,131L137.8,132.7C153.5,133.3 169.2,134.3 184.9,135.5S216.3,138.1 231.9,139.6L445.2,160.3"/>
<path d="M95,146.6L137.8,151.4C153.5,153.2 169.2,154.9 184.9,156.5S216.3,159.5 231.9,160.8L445.2,178.4"/>
<path d="M95,147.6L137.8,145.9C153.5,145.3 169.2,144.4 184.9,143.5S216.3,141.4 231.9,140.4L445.2,127.1"/>
<path d="M95,146.7L137.8,146.2C153.5,146 169.2,145.7 184.9,145.4S216.3,144.8 231.9,144.4L445.2,139.4"/>
<path d="M95,143.3L137.8,147.5C153.5,149 169.2,150.5 184.9,152S216.3,154.9 231.9,156.2L445.2,174.9"/>
<path d="M95,134.9L137.8,130.7C153.5,129.1 169.2,128.4 184.9,128.7S216.3,130.3 231.9,132.3L445.2,159.8"/>
<path d="M95,143.7L137.8,147.2C153.5,148.5 169.2,149.8 184.9,150.9S216.3,153.1 231.9,154.1L445.2,167"/>
<path d="M95,145.7L137.8,134.4C153.5,130.2 169.2,126.7 184.9,124.7S216.3,122.1 231.9,123.2L445.2,137.2"/>
<path d="M95,131.5L137.8,132.8C153.5,133.3 169.2,133.8 184.9,134.3S216.3,135.3 231.9,135.8L445.2,142.6"/>
<path d="M95,146.1L137.8,144.5C153.5,143.9 169.2,143 184.9,142.1S216.3,140.2 231.9,139.5L445.2,130.6"/>
<path d="M95,140.6L137.8,141.7C153.5,142.1 169.2,142.5 184.9,142.9S216.3,143.7 231.9,144.1L445.2,149.1"/>
<path d="M95,144.9L137.8,137.5C153.5,134.8 169.2,132.3 184.9,130.1S216.3,126.1 231.9,124.8L445.2,107"/>
<path d="M95,140.8L137.8,144.8C153.5,146.3 169.2,147.5 184.9,148.3S216.3,149.4 231.9,149.2L445.2,146.6"/>
<path d="M95,141.8L137.8,141.9C153.5,141.9 169.2,141.9 184.9,141.9S216.3,142 231.9,142L445.2,142.3"/>
<path d="M95,144.1L137.8,144.8C153.5,145 169.2,145 184.9,144.7S216.3,143.8 231.9,143.1L445.2,133.7"/>
<path d="M95,144.1L137.8,148.7C153.5,150.5 169.2,152 184.9,153.2S216.3,155.3 231.9,155.8L445.2,162.7"/>
<path d="M95,137.2L137.8,141C153.5,142.3 169.2,143.7 184.9,145.1S216.3,147.7 231.9,148.9L445.2,165.7"/>
<path d="M95,136.7L137.8,137.2C153.5,137.4 169.2,138 184.9,139S216.3,141.2 231.9,142.4L445.2,158.6"/>
<path d="M95,147.9L137.8,149.8C153.5,150.5 169.2,150.6 184.9,149.9S216.3,147.9 231.9,146.2L445.2,123.1"/>
<path d="M95,134.1L137.8,137.3C153.5,138.5 169.2,140.1 184.9,141.8S216.3,145.2 231.9,146.4L445.2,162.8"/>
<path d="M95,139.6L137.8,143.1C153.5,144.4 169.2,145.6 184.9,146.8S216.3,149.1 231.9,150.2L445.2,164"/>
<path d="M95,143.3L137.8,139.2C153.5,137.6 169.2,136.3 184.9,135.5S216.3,134.5 231.9,134.8L445.2,139.1"/>
<path d="M95,139.6L137.8,138.1C153.5,137.5 169.2,137.2 184.9,137.3S216.3,137.7 231.9,138.4L445.2,147.5"/>
<path d="M95,147.3L137.8,143.9C153.5,142.6 169.2,141.4 184.9,140.1S216.3,137.7 231.9,136.5L445.2,120.6"/>
<path d="M95,147.6L137.8,153.6C153.5,155.8 169.2,156.5 184.9,155.6S216.3,152 231.9,148.6L445.2,101.6"/>
<path d="M95,138.2L137.8,136.1C153.5,135.3 169.2,135.3 184.9,136.1S216.3,138.5 231.9,140.3L445.2,164.7"/>
<path d="M95,142.9L137.8,138.3C153.5,136.7 169.2,135 184.9,133.3S216.3,130.1 231.9,128.5L445.2,106.9"/>
<path d="M95,140.7L137.8,142.1C153.5,142.6 169.2,143.1 184.9,143.4S216.3,143.9 231.9,143.9L445.2,143.7"/>
<path d="M95,140.5L137.8,139.5C153.5,139.2 169.2,138.8 184.9,138.5S216.3,137.8 231.9,137.5L445.2,133.5"/>
<path d="M95,138.6L137.8,138.9C153.5,139 169.2,139.2 184.9,139.5S216.3,140.1 231.9,140.5L445.2,146.2"/>
<path d="M95,134.3L137.8,138.9C153.5,140.6 169.2,142.4 184.9,144.2S216.3,147.5 231.9,148.7L445.2,165.7"/>
<path d="M95,140.4L137.8,130.8C153.5,127.2 169.2,124.7 184.9,123.8S216.3,123.6 231.9,125.7L445.2,155.1"/>
<path d="M95,140.7L137.8,145.2C153.5,146.9 169.2,148.1 184.9,148.5S216.3,148.5 231.9,147.4L445.2,132.1"/>
<path d="M95,144.7L137.8,137.7C153.5,135.2 169.2,132.7 184.9,130.3S216.3,125.6 231.9,123.4L445.2,93.9"/>
<path d="M95,134.2L137.8,134.8C153.5,135 169.2,135.3 184.9,135.6S216.3,136.4 231.9,136.8L445.2,142.8"/>
<path d="M95,142.7L137.8,144.7C153.5,145.4 169.2,146.1 184.9,146.8S216.3,148.3 231.9,148.9L445.2,158.3"/>
<path d="M95,149.8L137.8,153C153.5,154.1 169.2,154.1 184.9,153S216.3,149.5 231.9,146.6L445.2,108.1"/>
<path d="M95,140L137.8,139.3C153.5,139.1 169.2,139 184.9,138.9S216.3,139 231.9,139.3L445.2,142.2"/>
<path d="M95,144.1L137.8,141C153.5,139.9 169.2,138.8 184.9,137.8S216.3,135.9 231.9,135.2L445.2,125.5"/>
<path d="M95,142.3L137.8,131.2C153.5,127.1 169.2,124.3 184.9,123.4S216.3,123.7 231.9,126.6L445.2,165.3"/>
<path d="M95,139.3L137.8,137.7C153.5,137.1 169.2,136.5 184.9,135.9S216.3,134.7 231.9,134.1L445.2,126.3"/>
<path d="M95,146.8L137.8,143.4C153.5,142.1 169.2,140.8 184.9,139.5S216.3,137.2 231.9,136.4L445.2,125.7"/>
<path d="M95,142.9L137.8,144.1C153.5,144.5 169.2,144.8 184.9,145.1S216.3,145.4 231.9,145.3L445.2,144.5"/>
<path d="M95,140.7L137.8,145.6C153.5,147.4 169.2,148.7 184.9,149S216.3,148.7 231.9,147.3L445.2,128.9"/>
<path d="M95,132.1L137.8,135.8C153.5,137.2 169.2,139.1 184.9,141.1S216.3,145.2 231.9,146.8L445.2,168.9"/>
<path d="M95,137.2L137.8,139.1C153.5,139.8 169.2,140.6 184.9,141.3S216.3,142.9 231.9,143.7L445.2,153.8"/>
<path d="M95,144.1L137.8,146.2C153.5,147 169.2,147.6 184.9,147.9S216.3,148.3 231.9,148L445.2,145.1"/>
<path d="M95,149L137.8,141.1C153.5,138.3 169.2,135.4 184.9,133S216.3,128.6 231.9,127.3L445.2,109.3"/>
<path d="M95,144.5L137.8,147.4C153.5,148.5 169.2,149 184.9,148.8S216.3,147.8 231.9,146.4L445.2,128.1"/>
<path d="M95,133.7L137.8,131.3C153.5,130.5 169.2,130.9 184.9,132.4S216.3,136.6 231.9,139.5L445.2,179.3"/>
<path d="M95,135.3L137.8,134.6C153.5,134.3 169.2,134.6 184.9,135.3S216.3,137.2 231.9,138.6L445.2,158.2"/>
<path d="M95,141.1L137.8,151.1C153.5,154.7 169.2,157.2 184.9,157.9S216.3,157.3 231.9,154.5L445.2,116.7"/>
<path d="M95,133L137.8,134.4C153.5,134.9 169.2,135.4 184.9,135.9S216.3,137 231.9,137.5L445.2,144.8"/>
<path d="M95,135.6L137.8,133.9C153.5,133.2 169.2,133.3 184.9,134.1S216.3,136.4 231.9,138.2L445.2,162.9"/>
<path d="M95,140.4L137.8,143.9C153.5,145.2 169.2,146.4 184.9,147.5S216.3,149.5 231.9,150.2L445.2,159.6"/>
<path d="M95,141.7L137.8,137C153.5,135.3 169.2,134.3 184.9,134.4S216.3,135.5 231.9,137.2L445.2,160.8"/>
<path d="M95,146.9L137.8,147.2C153.5,147.3 169.2,147.1 184.9,146.6S216.3,145.2 231.9,144.3L445.2,131.1"/>
<path d="M95,145.4L137.8,149.5C153.5,151 169.2,152.4 184.9,153.6S216.3,155.9 231.9,156.7L445.2,168.3"/>
<path d="M95,138.5L137.8,139.1C153.5,139.2 169.2,139.7 184.9,140.3S216.3,141.6 231.9,142.3L445.2,151.7"/>
<path d="M95,148.9L137.8,144.5C153.5,142.8 169.2,141.2 184.9,139.6S216.3,136.3 231.9,134.8L445.2,113.7"/>
<path d="M95,138.8L137.8,141C153.5,141.8 169.2,142.7 184.9,143.4S216.3,144.7 231.9,145L445.2,148.5"/>
<path d="M95,142.9L137.8,143C153.5,143 169.2,143 184.9,143S216.3,142.9 231.9,142.9L445.2,142.6"/>
<path d="M95,133.9L137.8,133.3C153.5,133.1 169.2,133.3 184.9,134.1S216.3,136.1 231.9,137.6L445.2,158"/>
<path d="M95,148.7L137.8,147.8C153.5,147.5 169.2,147 184.9,146.3S216.3,144.8 231.9,143.9L445.2,131.8"/>
<path d="M95,147.3L137.8,151.9C153.5,153.5 169.2,154.8 184.9,155.4S216.3,156.1 231.9,155.5L445.2,147.8"/>
<path d="M95,146.5L137.8,144.9C153.5,144.3 169.2,143.6 184.9,142.9S216.3,141.6 231.9,140.9L445.2,131.8"/>
<path d="M95,151.4L137.8,147.1C153.5,145.6 169.2,143.9 184.9,142.3S216.3,139 231.9,137.4L445.2,115.7"/>
<path d="M95,150.8L137.8,149.9C153.5,149.5 169.2,149.1 184.9,148.6S216.3,147.6 231.9,147L445.2,139.1"/>
<path d="M95,138.3L137.8,135.7C153.5,134.7 169.2,133.8 184.9,132.9S216.3,131.1 231.9,130.3L445.2,118.8"/>
<path d="M95,138.9L137.8,139.3C153.5,139.5 169.2,139.6 184.9,139.8S216.3,140.1 231.9,140.3L445.2,142.9"/>
<path d="M95,149.9L137.8,144.9C153.5,143.1 169.2,141.1 184.9,139.3S216.3,135.8 231.9,134.7L445.2,119.2"/>
<path d="M95,133.7L137.8,132C153.5,131.4 169.2,130.8 184.9,130.3S216.3,129.4 231.9,129.1L445.2,124.9"/>
<path d="M95,141.9L137.8,135C153.5,132.5 169.2,130.6 184.9,129.7S216.3,128.9 231.9,130.1L445.2,145.5"/>
<path d="M95,145.7L137.8,148.4C153.5,149.4 169.2,150.4 184.9,151.4S216.3,153.4 231.9,154.4L445.2,167.5"/>
<path d="M95,144.9L137.8,152.8C153.5,155.7 169.2,157.7 184.9,158.3S216.3,158.1 231.9,156.1L445.2,129.3"/>
<path d="M95,152.6L137.8,156.2C153.5,157.6 169.2,157.6 184.9,156.2S216.3,152.2 231.9,148.9L445.2,103.7"/>
<path d="M95,136.2L137.8,136.6C153.5,136.8 169.2,137 184.9,137.3S216.3,137.9 231.9,138.4L445.2,144"/>
<path d="M95,141.6L137.8,145.4C153.5,146.8 169.2,148 184.9,149S216.3,150.8 231.9,151.3L445.2,157.4"/>
<path d="M95,146.6L137.8,141.3C153.5,139.3 169.2,137.4 184.9,135.4S216.3,131.6 231.9,129.6L445.2,103.6"/>
<path d="M95,144.4L137.8,139.6C153.5,137.9 169.2,136.2 184.9,134.6S216.3,131.5 231.9,130.2L445.2,112.5"/>
<path d="M95,137.4L137.8,137.5C153.5,137.6 169.2,138.2 184.9,139.2S216.3,141.4 231.9,142.6L445.2,158.9"/>
<path d="M95,134.2L137.8,142.4C153.5,145.4 169.2,148.4 184.9,151S216.3,156 231.9,157.6L445.2,180.7"/>
<path d="M95,135.9L137.8,133C153.5,131.9 169.2,130.8 184.9,129.7S216.3,127.6 231.9,126.5L445.2,112"/>
<path d="M95,146.7L137.8,138.2C153.5,135.1 169.2,132.4 184.9,130.9S216.3,129.1 231.9,130L445.2,143.3"/>
<path d="M95,150L137.8,154.8C153.5,156.5 169.2,157.5 184.9,157.5S216.3,156.5 231.9,154.7L445.2,130.8"/>
<path d="M95,132.1L137.8,138.1C153.5,140.3 169.2,142.5 184.9,144.7S216.3,149 231.9,151.2L445.2,180.2"/>
<path d="M95,139.5L137.8,143.4C153.5,144.8 169.2,146.2 184.9,147.6S216.3,150.5 231.9,151.9L445.2,170.9"/>
<path d="M95,148L137.8,152.1C153.5,153.6 169.2,155.1 184.9,156.4S216.3,158.9 231.9,159.9L445.2,173.7"/>
<path d="M95,143.6L137.8,147C153.5,148.2 169.2,148.9 184.9,148.9S216.3,148.2 231.9,147L445.2,130.6"/>
<path d="M95,150.5L137.8,147.6C153.5,146.6 169.2,145.5 184.9,144.4S216.3,142.1 231.9,141L445.2,125.9"/>
<path d="M95,137.4L137.8,139.6C153.5,140.4 169.2,141.2 184.9,142S216.3,143.7 231.9,144.5L445.2,155.4"/>
<path d="M95,148.2L137.8,146.5C153.5,145.9 169.2,145.1 184.9,144.3S216.3,142.5 231.9,141.6L445.2,129.3"/>
<path d="M95,141.4L137.8,141.8C153.5,142 169.2,142.2 184.9,142.3S216.3,142.6 231.9,142.8L445.2,144.7"/>
<path d="M95,137L137.8,129.5C153.5,126.7 169.2,125.1 184.9,124.9S216.3,125.9 231.9,128.4L445.2,161.6"/>
<path d="M95,141.8L137.8,140.7C153.5,140.4 169.2,140 184.9,139.6S216.3,138.9 231.9,138.6L445.2,134.3"/>
<path d="M95,145L137.8,141.9C153.5,140.7 169.2,139.6 184.9,138.5S216.3,136.3 231.9,135.3L445.2,121.7"/>
<path d="M95,135L137.8,135.1C153.5,135.2 169.2,135.3 184.9,135.4S216.3,135.5 231.9,135.6L445.2,137.1"/>
<path d="M95,149.3L137.8,138.7C153.5,134.8 169.2,131.1 184.9,128.3S216.3,123.3 231.9,122.3L445.2,109.5"/>
<path d="M95,146.4L137.8,153.5C153.5,156.1 169.2,158.1 184.9,159.3S216.3,160.8 231.9,160.2L445.2,152"/>
<path d="M95,141.3L137.8,141.5C153.5,141.6 169.2,141.8 184.9,141.9S216.3,142.1 231.9,142.2L445.2,143.5"/>
<path d="M95,134.8L137.8,133.9C153.5,133.6 169.2,133.3 184.9,133S216.3,132.5 231.9,132.3L445.2,129.4"/>
<path d="M95,132.4L137.8,134.8C153.5,135.6 169.2,136.7 184.9,138S216.3,140.6 231.9,142L445.2,160.6"/>
<path d="M95,147.5L137.8,142.3C153.5,140.4 169.2,138.5 184.9,136.6S216.3,132.8 231.9,130.9L445.2,105.4"/>
<path d="M95,151.4L137.8,142.6C153.5,139.4 169.2,136.1 184.9,133.2S216.3,127.6 231.9,125.5L445.2,96.9"/>
<path d="M95,139.8L137.8,144.6C153.5,146.4 169.2,148.1 184.9,149.8S216.3,153.1 231.9,154.6L445.2,175.2"/>
<path d="M95,134.4L137.8,132.4C153.5,131.7 169.2,131.1 184.9,130.7S216.3,129.8 231.9,129.6L445.2,126.3"/>
<path d="M95,144.1L137.8,145.3C153.5,145.7 169.2,145.8 184.9,145.6S216.3,144.7 231.9,144L445.2,133.3"/>
<path d="M95,141L137.8,140.6C153.5,140.5 169.2,140.4 184.9,140.2S216.3,140 231.9,139.9L445.2,138.3"/>
<path d="M95,136.5L137.8,135.7C153.5,135.4 169.2,135.6 184.9,136.2S216.3,137.7 231.9,138.9L445.2,154.9"/>
<path d="M95,139.6L137.8,141.5C153.5,142.2 169.2,142.9 184.9,143.5S216.3,144.6 231.9,144.9L445.2,148.6"/>
<path d="M95,139.5L137.8,133.4C153.5,131.2 169.2,129.3 184.9,128S216.3,126 231.9,126L445.2,125.7"/>
<path d="M95,133.6L137.8,139.2C153.5,141.2 169.2,143.4 184.9,145.4S216.3,149.3 231.9,150.7L445.2,169.9"/>
<path d="M95,144L137.8,146.5C153.5,147.4 169.2,148.2 184.9,149S216.3,150.6 231.9,151.3L445.2,160.5"/>
<path d="M95,149.5L137.8,145.5C153.5,144 169.2,142.5 184.9,141S216.3,138 231.9,136.6L445.2,116.5"/>
<path d="M95,131.2L137.8,134C153.5,135 169.2,136.8 184.9,138.9S216.3,143.5 231.9,145.5L445.2,173.3"/>
<path d="M95,144.6L137.8,139C153.5,136.9 169.2,135 184.9,133.3S216.3,130.4 231.9,129.5L445.2,117.9"/>
<path d="M95,148.3L137.8,152.1C153.5,153.5 169.2,153.6 184.9,152.6S216.3,149.3 231.9,146.4L445.2,108"/>
<path d="M95,143.3L137.8,141.4C153.5,140.7 169.2,140 184.9,139.4S216.3,138 231.9,137.4L445.2,128.6"/>
<path d="M95,138.2L137.8,137.1C153.5,136.8 169.2,137 184.9,137.7S216.3,139.7 231.9,141.1L445.2,159.7"/>
<path d="M95,145.3L137.8,140.3C153.5,138.4 169.2,136.8 184.9,136S216.3,135.1 231.9,135.8L445.2,146"/>
<path d="M95,140.7L137.8,144.2C153.5,145.5 169.2,146.8 184.9,148S216.3,150.4 231.9,151.5L445.2,165.8"/>
<path d="M95,147.6L137.8,141.9C153.5,139.9 169.2,137.8 184.9,136.1S216.3,133.1 231.9,132.4L445.2,122.9"/>
<path d="M95,145L137.8,144.3C153.5,144.1 169.2,143.8 184.9,143.6S216.3,143 231.9,142.7L445.2,138.9"/>
<path d="M95,145.3L137.8,148.5C153.5,149.7 169.2,150.8 184.9,151.9S216.3,153.9 231.9,154.9L445.2,167.1"/>
<path d="M95,133.8L137.8,127.4C153.5,125 169.2,123.7 184.9,123.8S216.3,125.1 231.9,127.5L445.2,160"/>
<path d="M95,145.9L137.8,140.9C153.5,139.1 169.2,137.3 184.9,135.6S216.3,132.1 231.9,130.5L445.2,108.1"/>
<path d="M95,142.3L137.8,144.9C153.5,145.8 169.2,146.6 184.9,147.1S216.3,147.9 231.9,147.9L445.2,147.6"/>
<path d="M95,145.9L137.8,139.5C153.5,137.2 169.2,134.9 184.9,132.7S216.3,128.5 231.9,126.7L445.2,101.6"/>
<path d="M95,135.1L137.8,138.3C153.5,139.5 169.2,140.7 184.9,141.9S216.3,144.2 231.9,145.4L445.2,161.4"/>
<path d="M95,144.3L137.8,137C153.5,134.3 169.2,131.9 184.9,130.2S216.3,127.2 231.9,126.9L445.2,122.2"/>
<path d="M95,150.7L137.8,152.9C153.5,153.8 169.2,153.6 184.9,152.4S216.3,149 231.9,146.4L445.2,110.7"/>
<path d="M95,150.1L137.8,144.6C153.5,142.6 169.2,140.6 184.9,138.6S216.3,134.6 231.9,132.7L445.2,107"/>
<path d="M95,133.2L137.8,141.4C153.5,144.4 169.2,147.5 184.9,149.9S216.3,154.3 231.9,155.2L445.2,167.8"/>
<path d="M95,140.5L137.8,142.6C153.5,143.3 169.2,144 184.9,144.5S216.3,145.2 231.9,145.2L445.2,144.5"/>
<path d="M95,143.8L137.8,143.3C153.5,143.2 169.2,143 184.9,142.8S216.3,142.4 231.9,142.2L445.2,139.4"/>
<path d="M95,137.6L137.8,144.6C153.5,147.2 169.2,149.5 184.9,150.9S216.3,152.8 231.9,152.4L445.2,145.8"/>
<path d="M95,139.4L137.8,139.8C153.5,139.9 169.2,140.1 184.9,140.4S216.3,141.1 231.9,141.5L445.2,147"/>
<path d="M95,149.5L137.8,155.5C153.5,157.7 169.2,158.9 184.9,159S216.3,158 231.9,155.9L445.2,128.1"/>
<path d="M95,144.7L137.8,149.5C153.5,151.2 169.2,152.3 184.9,152.6S216.3,152.3 231.9,151.1L445.2,133.6"/>
<path d="M95,148.2L137.8,150.4C153.5,151.2 169.2,151.9 184.9,152.6S216.3,154 231.9,154.6L445.2,162.9"/>
<path d="M95,139.7L137.8,131.7C153.5,128.8 169.2,127.2 184.9,127.3S216.3,129.4 231.9,132.5L445.2,175"/>
<path d="M95,140.7L137.8,141.8C153.5,142.2 169.2,142.6 184.9,143S216.3,143.7 231.9,143.9L445.2,147.3"/>
<path d="M95,135L137.8,136.7C153.5,137.3 169.2,138.5 184.9,139.9S216.3,142.9 231.9,144.3L445.2,162.8"/>
<path d="M95,142.1L137.8,152.1C153.5,155.7 169.2,158.4 184.9,159.3S216.3,159.5 231.9,157.2L445.2,126.4"/>
<path d="M95,139.1L137.8,134.3C153.5,132.5 169.2,130.8 184.9,129.2S216.3,126 231.9,124.6L445.2,104.9"/>
<path d="M95,152.2L137.8,141.8C153.5,137.9 169.2,134.1 184.9,131S216.3,125.5 231.9,124.3L445.2,107.6"/>
<path d="M95,138.9L137.8,138C153.5,137.7 169.2,137.5 184.9,137.2S216.3,136.8 231.9,136.6L445.2,134.6"/>
<path d="M95,138.9L137.8,136.5C153.5,135.6 169.2,134.7 184.9,133.8S216.3,132.1 231.9,131.2L445.2,119.5"/>
<path d="M95,140.4L137.8,135.6C153.5,133.8 169.2,132.6 184.9,132.3S216.3,132.7 231.9,134L445.2,152.4"/>
<path d="M95,134.3L137.8,137.9C153.5,139.2 169.2,140.6 184.9,142S216.3,144.7 231.9,146L445.2,164"/>
<path d="M95,142.3L137.8,142.3C153.5,142.3 169.2,142.3 184.9,142.3S216.3,142.2 231.9,142.2L445.2,141.7"/>
<path d="M95,135.9L137.8,141.7C153.5,143.8 169.2,145.9 184.9,148S216.3,152 231.9,153.7L445.2,178"/>
<path d="M95,143.7L137.8,139.5C153.5,137.9 169.2,136.7 184.9,136.2S216.3,136 231.9,136.9L445.2,149.1"/>
<path d="M95,137.7L137.8,136.6C153.5,136.3 169.2,136.3 184.9,136.7S216.3,137.8 231.9,138.9L445.2,152.7"/>
<path d="M95,137.3L137.8,134.7C153.5,133.8 169.2,133.6 184.9,134.2S216.3,136.3 231.9,138.1L445.2,163"/>
<path d="M95,144.2L137.8,143.6C153.5,143.4 169.2,143.2 184.9,142.9S216.3,142.4 231.9,142.2L445.2,138.7"/>
<path d="M95,148.3L137.8,146.1C153.5,145.3 169.2,144.5 184.9,143.6S216.3,142 231.9,141.1L445.2,129.7"/>
<path d="M95,135L137.8,141.1C153.5,143.4 169.2,145.7 184.9,147.4S216.3,150.4 231.9,150.8L445.2,156"/>
<path d="M95,148.1L137.8,148.3C153.5,148.3 169.2,147.5 184.9,146.2S216.3,142.8 231.9,141L445.2,116"/>
<path d="M95,133.4L137.8,134.7C153.5,135.2 169.2,135.7 184.9,136.3S216.3,137.6 231.9,138.4L445.2,148.4"/>
<path d="M95,151.3L137.8,153.3C153.5,154 169.2,154.7 184.9,155.3S216.3,156.5 231.9,157L445.2,163.7"/>
<path d="M95,142.3L137.8,136.7C153.5,134.7 169.2,133.2 184.9,132.6S216.3,132.3 231.9,133.5L445.2,149.7"/>
<path d="M95,143.8L137.8,134C153.5,130.4 169.2,127.9 184.9,127.2S216.3,127.9 231.9,130.6L445.2,167.9"/>
<path d="M95,145.9L137.8,145.7C153.5,145.6 169.2,145.5 184.9,145.3S216.3,145 231.9,144.7L445.2,141.6"/>
<path d="M95,151.4L137.8,148.4C153.5,147.3 169.2,146 184.9,144.5S216.3,141.5 231.9,140L445.2,119.7"/>
<path d="M95,147.9L137.8,154C153.5,156.2 169.2,157.8 184.9,158.4S216.3,158.8 231.9,157.7L445.2,142.3"/>
<path d="M95,148.9L137.8,147.7C153.5,147.2 169.2,146 184.9,144.5S216.3,141.1 231.9,139.6L445.2,118.4"/>
<path d="M95,131.7L137.8,130.8C153.5,130.4 169.2,130.2 184.9,130S216.3,129.7 231.9,129.7L445.2,129.8"/>
<path d="M95,143.2L137.8,136.2C153.5,133.6 169.2,131.2 184.9,129.2S216.3,125.7 231.9,124.6L445.2,110.8"/>
<path d="M95,144.8L137.8,136.4C153.5,133.4 169.2,130.7 184.9,129S216.3,126.6 231.9,127L445.2,132.3"/>
<path d="M95,139.5L137.8,129.9C153.5,126.4 169.2,124.5 184.9,125S216.3,128.1 231.9,132.2L445.2,187.6"/>
<path d="M95,146L137.8,140.4C153.5,138.4 169.2,136.5 184.9,135.4S216.3,133.8 231.9,134.3L445.2,140.4"/>
<path d="M95,148.5L137.8,150.1C153.5,150.8 169.2,150.4 184.9,149.3S216.3,146.1 231.9,143.9L445.2,113.5"/>
<path d="M95,136.9L137.8,135.6C153.5,135.2 169.2,135 184.9,135.1S216.3,135.6 231.9,136.2L445.2,144.6"/>
<path d="M95,144.7L137.8,143.7C153.5,143.3 169.2,142.9 184.9,142.5S216.3,141.6 231.9,141.2L445.2,135.6"/>
<path d="M95,147L137.8,143.4C153.5,142.1 169.2,140.7 184.9,139.4S216.3,136.8 231.9,135.6L445.2,119.2"/>
<path d="M95,142.3L137.8,142.4C153.5,142.4 169.2,142.5 184.9,142.4S216.3,142.4 231.9,142.3L445.2,141.5"/>
<path d="M95,138L137.8,133.8C153.5,132.3 169.2,131.1 184.9,130.5S216.3,129.7 231.9,130.2L445.2,135.9"/>
<path d="M95,137.3L137.8,142C153.5,143.8 169.2,145.5 184.9,147S216.3,150 231.9,151.1L445.2,166"/>
<path d="M95,138.3L137.8,145.5C153.5,148.1 169.2,150.5 184.9,152.4S216.3,155.6 231.9,156.1L445.2,163.5"/>
<path d="M95,142.3L137.8,143.3C153.5,143.6 169.2,143.8 184.9,143.9S216.3,143.8 231.9,143.5L445.2,139.4"/>
<path d="M95,142.5L137.8,138.2C153.5,136.7 169.2,135.3 184.9,134.3S216.3,132.6 231.9,132.5L445.2,130.2"/>
<path d="M95,141.5L137.8,143.5C153.5,144.2 169.2,144.9 184.9,145.5S216.3,146.8 231.9,147.3L445.2,154.4"/>
<path d="M95,151.2L137.8,148C153.5,146.9 169.2,145.7 184.9,144.4S216.3,141.9 231.9,140.6L445.2,123.4"/>
<path d="M95,140.9L137.8,148.2C153.5,150.9 169.2,152.8 184.9,153.1S216.3,152.4 231.9,150.2L445.2,120.2"/>
<path d="M95,138.6L137.8,138.5C153.5,138.5 169.2,138.5 184.9,138.5S216.3,138.4 231.9,138.4L445.2,138.4"/>
<path d="M95,132.9L137.8,130.9C153.5,130.2 169.2,129.5 184.9,128.8S216.3,127.5 231.9,126.8L445.2,117.8"/>
<path d="M95,134.4L137.8,135.7C153.5,136.1 169.2,136.6 184.9,137.1S216.3,138 231.9,138.5L445.2,144.9"/>
<path d="M95,140L137.8,136.2C153.5,134.8 169.2,133.9 184.9,133.6S216.3,133.9 231.9,134.9L445.2,149"/>
<path d="M95,137.3L137.8,141.9C153.5,143.5 169.2,145.2 184.9,146.5S216.3,148.8 231.9,149.3L445.2,155.3"/>
<path d="M95,136.9L137.8,132.7C153.5,131.2 169.2,129.8 184.9,128.5S216.3,126 231.9,124.9L445.2,110.9"/>
<path d="M95,152.1L137.8,154.5C153.5,155.3 169.2,156 184.9,156.5S216.3,157.4 231.9,157.5L445.2,159.3"/>
<path d="M95,149.4L137.8,140.3C153.5,136.9 169.2,133.8 184.9,132.1S216.3,130 231.9,131.1L445.2,146.7"/>
<path d="M95,136L137.8,128C153.5,125 169.2,123.5 184.9,124S216.3,126.7 231.9,130.2L445.2,178.3"/>
<path d="M95,136.8L137.8,132.5C153.5,130.9 169.2,130.1 184.9,130.3S216.3,131.5 231.9,133.3L445.2,157.8"/>
<path d="M95,151.5L137.8,149.3C153.5,148.4 169.2,147.5 184.9,146.6S216.3,144.6 231.9,143.5L445.2,129.1"/>
<path d="M95,145.4L137.8,143.5C153.5,142.9 169.2,142.2 184.9,141.5S216.3,140.1 231.9,139.5L445.2,130.3"/>
<path d="M95,149.3L137.8,152.5C153.5,153.7 169.2,154.2 184.9,154S216.3,153 231.9,151.5L445.2,131.6"/>
<path d="M95,148.2L137.8,149.3C153.5,149.7 169.2,150.1 184.9,150.4S216.3,150.9 231.9,151.1L445.2,153.4"/>
<path d="M95,139.6L137.8,136.5C153.5,135.3 169.2,134.6 184.9,134.4S216.3,134.5 231.9,135.3L445.2,146.4"/>
<path d="M95,137.8L137.8,142.1C153.5,143.7 169.2,145.3 184.9,146.9S216.3,150.1 231.9,151.7L445.2,173"/>
<path d="M95,144.3L137.8,153.6C153.5,156.9 169.2,158.9 184.9,158.9S216.3,156.8 231.9,153.3L445.2,106.4"/>
<path d="M95,148.8L137.8,150.3C153.5,150.9 169.2,151.4 184.9,151.9S216.3,153 231.9,153.5L445.2,160.6"/>
<path d="M95,134.2L137.8,141.2C153.5,143.8 169.2,146.4 184.9,148.4S216.3,152.1 231.9,152.7L445.2,161.9"/>
<path d="M95,145.9L137.8,150.6C153.5,152.3 169.2,153.1 184.9,152.8S216.3,151 231.9,148.7L445.2,118.7"/>
<path d="M95,142.9L137.8,137.4C153.5,135.4 169.2,133.4 184.9,131.5S216.3,127.7 231.9,126L445.2,102.5"/>
<path d="M95,144.2L137.8,137.5C153.5,135 169.2,133.2 184.9,132.5S216.3,132.4 231.9,134L445.2,155.8"/>
<path d="M95,151.8L137.8,143.1C153.5,139.9 169.2,136.5 184.9,134.1S216.3,130.3 231.9,130.3L445.2,130.3"/>
<path d="M95,152.2L137.8,153.7C153.5,154.2 169.2,154.6 184.9,154.8S216.3,154.9 231.9,154.6L445.2,151.4"/>
<path d="M95,136.1L137.8,129.3C153.5,126.8 169.2,125.4 184.9,125.3S216.3,126.6 231.9,129.1L445.2,162.1"/>
<path d="M95,148.7L137.8,140.5C153.5,137.5 169.2,134.5 184.9,132S216.3,127.4 231.9,125.9L445.2,106.3"/>
<path d="M95,152.7L137.8,155.9C153.5,157.1 169.2,158.1 184.9,159S216.3,160.7 231.9,161.3L445.2,169.7"/>
<path d="M95,145.6L137.8,150.7C153.5,152.5 169.2,153.9 184.9,154.8S216.3,155.8 231.9,155.4L445.2,150.2"/>
<path d="M95,139.5L137.8,141.6C153.5,142.4 169.2,143.2 184.9,143.8S216.3,144.9 231.9,145.1L445.2,148.1"/>
<path d="M95,132L137.8,133.2C153.5,133.6 169.2,134.8 184.9,136.4S216.3,140.3 231.9,142.4L445.2,171.3"/>
<path d="M95,148.4L137.8,149.5C153.5,149.8 169.2,149.3 184.9,148.1S216.3,144.9 231.9,142.8L445.2,114.6"/>
<path d="M95,136.3L137.8,137C153.5,137.3 169.2,138.2 184.9,139.4S216.3,142.2 231.9,143.6L445.2,161.9"/>
<path d="M95,134.6L137.8,132.4C153.5,131.7 169.2,130.9 184.9,130.4S216.3,129.3 231.9,129L445.2,124.4"/>
<path d="M95,137.5L137.8,138.9C153.5,139.4 169.2,139.9 184.9,140.5S216.3,141.7 231.9,142.3L445.2,150.3"/>
<path d="M95,141.7L137.8,148.4C153.5,150.8 169.2,153 184.9,154.9S216.3,158.1 231.9,158.9L445.2,170.6"/>
<path d="M95,149.2L137.8,150.9C153.5,151.6 169.2,152.2 184.9,152.8S216.3,154 231.9,154.5L445.2,161.6"/>
<path d="M95,151.4L137.8,146.3C153.5,144.5 169.2,142.6 184.9,140.8S216.3,137.1 231.9,135.3L445.2,110.3"/>
<path d="M95,147L137.8,142.4C153.5,140.8 169.2,139.1 184.9,137.5S216.3,134.2 231.9,132.6L445.2,110.4"/>
<path d="M95,141.6L137.8,136.1C153.5,134.1 169.2,132.4 184.9,131.4S216.3,129.9 231.9,130.1L445.2,133.5"/>
<path d="M95,135.4L137.8,131.4C153.5,129.9 169.2,129.6 184.9,130.7S216.3,134 231.9,136.9L445.2,176.5"/>
<path d="M95,142.8L137.8,145.3C153.5,146.2 169.2,147.1 184.9,147.9S216.3,149.5 231.9,150.2L445.2,159.7"/>
<path d="M95,142.3L137.8,140.3C153.5,139.6 169.2,138.9 184.9,138.2S216.3,136.8 231.9,136.1L445.2,127"/>
<path d="M95,144.4L137.8,143.5C153.5,143.2 169.2,142.8 184.9,142.5S216.3,141.8 231.9,141.4L445.2,136.5"/>
<path d="M95,137.1L137.8,136.1C153.5,135.7 169.2,135.3 184.9,134.9S216.3,134.2 231.9,133.8L445.2,128.7"/>
<path d="M95,136.6L137.8,133.1C153.5,131.9 169.2,131.4 184.9,131.9S216.3,133.9 231.9,135.9L445.2,163.5"/>
<path d="M95,132.2L137.8,130.1C153.5,129.4 169.2,129.6 184.9,130.8S216.3,134.1 231.9,136.6L445.2,171.5"/>
<path d="M95,136.1L137.8,132.2C153.5,130.7 169.2,129.9 184.9,130S216.3,130.9 231.9,132.4L445.2,152.8"/>
<path d="M95,148.9L137.8,144C153.5,142.3 169.2,140.5 184.9,138.7S216.3,135.3 231.9,133.9L445.2,114.7"/>
<path d="M95,139.5L137.8,138.2C153.5,137.7 169.2,137.3 184.9,136.8S216.3,136 231.9,135.7L445.2,131.2"/>
<path d="M95,149.3L137.8,145.6C153.5,144.2 169.2,142.8 184.9,141.3S216.3,138.5 231.9,137.2L445.2,118.8"/>
<path d="M95,138.6L137.8,134.3C153.5,132.7 169.2,131.9 184.9,132S216.3,133.1 231.9,134.9L445.2,158.3"/>
<path d="M95,135.5L137.8,138.8C153.5,140 169.2,141.5 184.9,142.9S216.3,145.7 231.9,146.5L445.2,157.2"/>
<path d="M95,143.4L137.8,143.1C153.5,143 169.2,142.9 184.9,142.8S216.3,142.5 231.9,142.4L445.2,140.6"/>
<path d="M95,146.5L137.8,149C153.5,149.9 169.2,150.3 184.9,150S216.3,148.7 231.9,147.3L445.2,128.2"/>
<path d="M95,141.5L137.8,136.7C153.5,135 169.2,133.5 184.9,132.5S216.3,131.1 231.9,131.1L445.2,132.1"/>
<path d="M95,138.7L137.8,140.6C153.5,141.3 169.2,142 184.9,142.6S216.3,144 231.9,144.7L445.2,154"/>
<path d="M95,141.9L137.8,145.9C153.5,147.3 169.2,148.5 184.9,149.1S216.3,150 231.9,149.7L445.2,145.1"/>
<path d="M95,151.7L137.8,141.8C153.5,138.2 169.2,134.5 184.9,131.5S216.3,125.9 231.9,124.4L445.2,103.1"/>
<path d="M95,135.4L137.8,137C153.5,137.6 169.2,138.5 184.9,139.6S216.3,141.9 231.9,143L445.2,158.6"/>
<path d="M95,138.9L137.8,139C153.5,139 169.2,139 184.9,139.1S216.3,139.2 231.9,139.3L445.2,140.1"/>
<path d="M95,144.7L137.8,142.2C153.5,141.3 169.2,140.4 184.9,139.5S216.3,137.7 231.9,136.8L445.2,124.7"/>
<path d="M95,151.9L137.8,154.7C153.5,155.7 169.2,156.7 184.9,157.7S216.3,159.7 231.9,160.7L445.2,173.6"/>
<path d="M95,143.8L137.8,140.1C153.5,138.7 169.2,137.5 184.9,136.8S216.3,135.9 231.9,136.2L445.2,140.1"/>
<path d="M95,135.4L137.8,133C153.5,132.2 169.2,131.3 184.9,130.5S216.3,128.8 231.9,128L445.2,116.9"/>
<path d="M95,137.3L137.8,142.4C153.5,144.3 169.2,146.1 184.9,147.9S216.3,151.4 231.9,153L445.2,174.5"/>
<path d="M95,139.1L137.8,140.5C153.5,141.1 169.2,141.6 184.9,142.2S216.3,143.2 231.9,143.8L445.2,150.9"/>
<path d="M95,143L137.8,144.5C153.5,145.1 169.2,145.7 184.9,146.2S216.3,147.3 231.9,147.8L445.2,154.6"/>
<path d="M95,146L137.8,139.3C153.5,136.8 169.2,134.4 184.9,132.5S216.3,128.9 231.9,127.8L445.2,113.7"/>
<path d="M95,146.6L137.8,151.6C153.5,153.5 169.2,154.6 184.9,154.9S216.3,154.5 231.9,153L445.2,133.7"/>
<path d="M95,142.1L137.8,140.3C153.5,139.6 169.2,138.9 184.9,138.3S216.3,137.1 231.9,136.5L445.2,128.7"/>
<path d="M95,133.2L137.8,141.1C153.5,143.9 169.2,146.8 184.9,149.5S216.3,154.5 231.9,156.3L445.2,181.7"/>
<path d="M95,138.5L137.8,135.8C153.5,134.9 169.2,134 184.9,133.2S216.3,131.8 231.9,131.3L445.2,124.4"/>
<path d="M95,135.5L137.8,135.1C153.5,134.9 169.2,134.9 184.9,134.8S216.3,134.8 231.9,134.9L445.2,136.3"/>
<path d="M95,138.1L137.8,131.8C153.5,129.5 169.2,128.1 184.9,128S216.3,129.2 231.9,131.4L445.2,161.3"/>
<path d="M95,149.6L137.8,144C153.5,142 169.2,139.9 184.9,137.9S216.3,133.8 231.9,131.8L445.2,104.7"/>
<path d="M95,134.3L137.8,137.6C153.5,138.8 169.2,140.3 184.9,141.9S216.3,145 231.9,146.2L445.2,162.5"/>
<path d="M95,137.6L137.8,130C153.5,127.2 169.2,125.5 184.9,125.2S216.3,126 231.9,128.3L445.2,159.2"/>
<path d="M95,142.6L137.8,142.1C153.5,141.9 169.2,141.7 184.9,141.4S216.3,141 231.9,140.8L445.2,138.1"/>
<path d="M95,147.3L137.8,145.5C153.5,144.8 169.2,144.1 184.9,143.4S216.3,141.9 231.9,141.2L445.2,131.5"/>
<path d="M95,139L137.8,133.5C153.5,131.5 169.2,130.6 184.9,131.1S216.3,133.4 231.9,136L445.2,171.8"/>
<path d="M95,136.7L137.8,144.2C153.5,146.9 169.2,149.3 184.9,150.5S216.3,151.8 231.9,150.6L445.2,134.8"/>
<path d="M95,138.7L137.8,135.1C153.5,133.9 169.2,132.6 184.9,131.4S216.3,128.9 231.9,127.8L445.2,112.2"/>
<path d="M95,147.8L137.8,150.1C153.5,150.9 169.2,151.8 184.9,152.6S216.3,154.2 231.9,155L445.2,165.9"/>
<path d="M95,137.2L137.8,129.9C153.5,127.2 169.2,126 184.9,126.7S216.3,130.1 231.9,133.8L445.2,183.6"/>
<path d="M95,146.8L137.8,144C153.5,142.9 169.2,141.9 184.9,140.9S216.3,138.8 231.9,137.8L445.2,123.8"/>
<path d="M95,141.5L137.8,143.5C153.5,144.2 169.2,144.9 184.9,145.5S216.3,146.6 231.9,146.9L445.2,151.2"/>
<path d="M95,131.7L137.8,129C153.5,128 169.2,127 184.9,126S216.3,124.1 231.9,123.1L445.2,110"/>
<path d="M95,139.1L137.8,136.9C153.5,136 169.2,135.2 184.9,134.5S216.3,133 231.9,132.2L445.2,122.5"/>
<path d="M95,145L137.8,135.8C153.5,132.4 169.2,129.7 184.9,128.5S216.3,127.5 231.9,129.1L445.2,151.4"/>
<path d="M95,141.7L137.8,134.2C153.5,131.4 169.2,129.5 184.9,129.1S216.3,129.7 231.9,131.9L445.2,161.7"/>
<path d="M95,133.9L137.8,128C153.5,125.8 169.2,124.6 184.9,124.6S216.3,125.9 231.9,128L445.2,157.6"/>
<path d="M95,135.7L137.8,138.6C153.5,139.6 169.2,140.7 184.9,141.8S216.3,144 231.9,145L445.2,159.5"/>
<path d="M95,140.5L137.8,140.2C153.5,140 169.2,140 184.9,140S216.3,140.3 231.9,140.5L445.2,143.9"/>
<path d="M95,134.8L137.8,134.4C153.5,134.3 169.2,134.2 184.9,134.1S216.3,134.1 231.9,134.2L445.2,135.1"/>
<path d="M95,139L137.8,135.1C153.5,133.7 169.2,132.4 184.9,131S216.3,128.4 231.9,127.1L445.2,109.9"/>
<path d="M95,136.2L137.8,137.4C153.5,137.8 169.2,138.5 184.9,139.4S216.3,141.4 231.9,142.4L445.2,156.4"/>
<path d="M95,138.7L137.8,139.4C153.5,139.6 169.2,140 184.9,140.5S216.3,141.6 231.9,142.2L445.2,149.8"/>
<path d="M95,135.2L137.8,143C153.5,145.9 169.2,148.7 184.9,150.8S216.3,154.3 231.9,154.7L445.2,160.7"/>
<path d="M95,146.2L137.8,139.8C153.5,137.5 169.2,135.2 184.9,133S216.3,128.8 231.9,127L445.2,102"/>
<path d="M95,131.7L137.8,135.7C153.5,137.1 169.2,139 184.9,141S216.3,145 231.9,146.7L445.2,169.6"/>
<path d="M95,141.7L137.8,145.7C153.5,147.2 169.2,148.3 184.9,148.7S216.3,148.9 231.9,148.1L445.2,136.5"/>
<path d="M95,137.8L137.8,139.6C153.5,140.3 169.2,141.1 184.9,141.9S216.3,143.5 231.9,144.2L445.2,153.4"/>
<path d="M95,147.5L137.8,144.5C153.5,143.4 169.2,142.2 184.9,141.1S216.3,138.8 231.9,137.8L445.2,124.6"/>
<path d="M95,149.3L137.8,141.7C153.5,138.9 169.2,136.1 184.9,133.6S216.3,128.7 231.9,126.8L445.2,101"/>
<path d="M95,146.1L137.8,138C153.5,135.1 169.2,132.3 184.9,130S216.3,125.8 231.9,124.6L445.2,109"/>
<path d="M95,152.4L137.8,144.7C153.5,141.9 169.2,138.9 184.9,136.3S216.3,131.3 231.9,129.8L445.2,108.8"/>
<path d="M95,143.4L137.8,137.7C153.5,135.6 169.2,133.5 184.9,131.6S216.3,127.8 231.9,126L445.2,102.7"/>
<path d="M95,140L137.8,141.2C153.5,141.7 169.2,142.2 184.9,142.6S216.3,143.4 231.9,143.7L445.2,146.7"/>
<path d="M95,132.6L137.8,139C153.5,141.3 169.2,143.8 184.9,146S216.3,150.4 231.9,152.1L445.2,175"/>
<path d="M95,137L137.8,140.6C153.5,142 169.2,143.3 184.9,144.6S216.3,147.3 231.9,148.6L445.2,166.6"/>
<path d="M95,143.6L137.8,144.8C153.5,145.3 169.2,145.6 184.9,145.7S216.3,145.7 231.9,145.4L445.2,141.7"/>
<path d="M95,139.9L137.8,140.3C153.5,140.5 169.2,140.7 184.9,140.8S216.3,141.1 231.9,141.3L445.2,143.4"/>
<path d="M95,138.9L137.8,140.8C153.5,141.5 169.2,142.3 184.9,143S216.3,144.3 231.9,144.7L445.2,150.1"/>
<path d="M95,148.5L137.8,151.5C153.5,152.5 169.2,152.6 184.9,151.5S216.3,148.5 231.9,146L445.2,111.8"/>
<path d="M95,135.1L137.8,128.1C153.5,125.6 169.2,123.7 184.9,122.9S216.3,122.3 231.9,123.6L445.2,140"/>
<path d="M95,151.8L137.8,145.9C153.5,143.7 169.2,141.5 184.9,139.3S216.3,134.9 231.9,132.7L445.2,103"/>
<path d="M95,144.5L137.8,147.7C153.5,148.9 169.2,150 184.9,151S216.3,152.8 231.9,153.5L445.2,163.1"/>
<path d="M95,141.5L137.8,142.7C153.5,143.1 169.2,143.5 184.9,143.8S216.3,144.3 231.9,144.4L445.2,145.4"/>
<path d="M95,147.5L137.8,147.2C153.5,147.1 169.2,146.9 184.9,146.7S216.3,146.3 231.9,146L445.2,142.5"/>
<path d="M95,140.1L137.8,135.5C153.5,133.8 169.2,132.1 184.9,130.5S216.3,127.5 231.9,126.2L445.2,108.1"/>
<path d="M95,131.4L137.8,131.6C153.5,131.7 169.2,131.8 184.9,132.1S216.3,132.7 231.9,133.1L445.2,138.9"/>
<path d="M95,152.4L137.8,145.3C153.5,142.8 169.2,139.8 184.9,137.3S216.3,133.1 231.9,132.6L445.2,125.6"/>
<path d="M95,141.8L137.8,143.3C153.5,143.8 169.2,144.3 184.9,144.7S216.3,145.3 231.9,145.5L445.2,147.5"/>
<path d="M95,136.7L137.8,128.8C153.5,126 169.2,124.2 184.9,124S216.3,125.3 231.9,127.9L445.2,163.3"/>
<path d="M95,138.1L137.8,134.8C153.5,133.6 169.2,132.5 184.9,131.4S216.3,129.3 231.9,128.3L445.2,115"/>
<path d="M95,141.9L137.8,142.6C153.5,142.9 169.2,143.1 184.9,143.1S216.3,142.9 231.9,142.7L445.2,139.2"/>
<path d="M95,132L137.8,142.9C153.5,146.8 169.2,150.7 184.9,153.5S216.3,157.9 231.9,158.1L445.2,160.3"/>
<path d="M95,143.8L137.8,147.9C153.5,149.5 169.2,150.9 184.9,152.1S216.3,154.5 231.9,155.3L445.2,167.1"/>
<path d="M95,141.8L137.8,145.7C153.5,147.1 169.2,148.4 184.9,149.8S216.3,152.3 231.9,153.5L445.2,169.4"/>
<path d="M95,136.4L137.8,130.5C153.5,128.3 169.2,127.1 184.9,127S216.3,128.1 231.9,130.2L445.2,158.3"/>
<path d="M95,139.6L137.8,143.1C153.5,144.4 169.2,145.6 184.9,146.5S216.3,147.9 231.9,148L445.2,149.4"/>
<path d="M95,136.2L137.8,136.5C153.5,136.7 169.2,137.4 184.9,138.4S216.3,140.8 231.9,142.2L445.2,160.7"/>
<path d="M95,136.5L137.8,145.6C153.5,148.9 169.2,152 184.9,154.2S216.3,157.7 231.9,158L445.2,161"/>
<path d="M95,145.8L137.8,143.8C153.5,143 169.2,142.3 184.9,141.5S216.3,140 231.9,139.2L445.2,129.1"/>
<path d="M95,140.8L137.8,146.2C153.5,148.2 169.2,150.1 184.9,152S216.3,155.8 231.9,157.6L445.2,181.8"/>
<path d="M95,146.6L137.8,149.8C153.5,151 169.2,151.4 184.9,151S216.3,149.3 231.9,147.4L445.2,122.6"/>
<path d="M95,141.5L137.8,134.4C153.5,131.8 169.2,129.6 184.9,128.2S216.3,126.1 231.9,126.3L445.2,128.9"/>
<path d="M95,139.1L137.8,142.5C153.5,143.7 169.2,145 184.9,146.2S216.3,148.7 231.9,149.9L445.2,166.3"/>
<path d="M95,143.1L137.8,140.7C153.5,139.8 169.2,139 184.9,138.1S216.3,136.5 231.9,135.8L445.2,126"/>
<path d="M95,138.2L137.8,143C153.5,144.8 169.2,146.5 184.9,148.3S216.3,151.8 231.9,153.5L445.2,177.1"/>
<path d="M95,151.4L137.8,152.8C153.5,153.3 169.2,153.8 184.9,154.3S216.3,155.3 231.9,155.7L445.2,162.3"/>
<path d="M95,145.5L137.8,140.7C153.5,138.9 169.2,137.3 184.9,136.2S216.3,134.6 231.9,134.8L445.2,137.5"/>
<path d="M95,145.5L137.8,149.2C153.5,150.5 169.2,151.9 184.9,153.2S216.3,155.8 231.9,157.1L445.2,174.7"/>
<path d="M95,143.6L137.8,137.7C153.5,135.5 169.2,133.4 184.9,131.2S216.3,127 231.9,124.9L445.2,96.3"/>
<path d="M95,147.5L137.8,144.5C153.5,143.4 169.2,142.3 184.9,141.2S216.3,139 231.9,138L445.2,123.5"/>
<path d="M95,149.8L137.8,144.3C153.5,142.2 169.2,140.2 184.9,138.2S216.3,134.3 231.9,132.7L445.2,110.6"/>
<path d="M95,145.6L137.8,148C153.5,148.9 169.2,149 184.9,148.2S216.3,145.8 231.9,143.8L445.2,117.9"/>
<path d="M95,137.3L137.8,137.3C153.5,137.3 169.2,137.3 184.9,137.3S216.3,137.4 231.9,137.5L445.2,138.5"/>
<path d="M95,139L137.8,143.9C153.5,145.7 169.2,147.5 184.9,149.1S216.3,152.4 231.9,153.7L445.2,172.4"/>
<path d="M95,144.8L137.8,145.1C153.5,145.3 169.2,145.3 184.9,145.3S216.3,145.1 231.9,144.9L445.2,142"/>
<path d="M95,142.7L137.8,148.4C153.5,150.5 169.2,152.5 184.9,154.6S216.3,158.6 231.9,160.5L445.2,186.4"/>
<path d="M95,139.2L137.8,139.9C153.5,140.1 169.2,140.3 184.9,140.6S216.3,141.1 231.9,141.4L445.2,144.9"/>
<path d="M95,142.2L137.8,147.2C153.5,149 169.2,150.6 184.9,151.7S216.3,153.5 231.9,153.5L445.2,154.3"/>
<path d="M95,140.9L137.8,143.2C153.5,144.1 169.2,144.8 184.9,145.2S216.3,145.6 231.9,145.4L445.2,141.8"/>
<path d="M95,141.6L137.8,141.2C153.5,141 169.2,140.9 184.9,140.9S216.3,141 231.9,141.1L445.2,143.1"/>
<path d="M95,134L137.8,140.8C153.5,143.3 169.2,145.8 184.9,148.3S216.3,153.1 231.9,155.4L445.2,186.6"/>
<path d="M95,147.8L137.8,142.2C153.5,140.1 169.2,138 184.9,136S216.3,132.1 231.9,130.3L445.2,105.9"/>
<path d="M95,133.8L137.8,131.9C153.5,131.3 169.2,131.5 184.9,132.7S216.3,135.8 231.9,138.2L445.2,170.6"/>
<path d="M95,132.8L137.8,143.3C153.5,147.1 169.2,150.8 184.9,153.5S216.3,158.1 231.9,158.5L445.2,163.9"/>
<path d="M95,152.9L137.8,147C153.5,144.9 169.2,142.7 184.9,140.6S216.3,136.3 231.9,134.2L445.2,105.2"/>
<path d="M95,140.1L137.8,142C153.5,142.7 169.2,143.3 184.9,143.8S216.3,144.6 231.9,144.6L445.2,145.1"/>
<path d="M95,149.4L137.8,143C153.5,140.7 169.2,138.2 184.9,136.5S216.3,133.7 231.9,133.8L445.2,135"/>
<path d="M95,135L137.8,133.1C153.5,132.4 169.2,131.8 184.9,131.4S216.3,130.8 231.9,130.7L445.2,129.4"/>
<path d="M95,143.7L137.8,138.3C153.5,136.3 169.2,134.6 184.9,133.3S216.3,131.2 231.9,131L445.2,128.5"/>
<path d="M95,142.8L137.8,135.6C153.5,133 169.2,130.6 184.9,129S216.3,126.3 231.9,126.1L445.2,123.4"/>
<path d="M95,141.7L137.8,141.2C153.5,141 169.2,140.9 184.9,140.8S216.3,140.7 231.9,140.8L445.2,141.8"/>
<path d="M95,146.5L137.8,141.5C153.5,139.6 169.2,137.8 184.9,136S216.3,132.5 231.9,130.9L445.2,108.9"/>
<path d="M95,145L137.8,144.3C153.5,144 169.2,143.7 184.9,143.4S216.3,142.7 231.9,142.3L445.2,137.5"/>
<path d="M95,138.8L137.8,138C153.5,137.7 169.2,137.8 184.9,138.1S216.3,139.2 231.9,140L445.2,151.6"/>
<path d="M95,141.9L137.8,145.5C153.5,146.8 169.2,147.7 184.9,147.8S216.3,147.4 231.9,146.3L445.2,131.5"/>
<path d="M95,137.7L137.8,137.9C153.5,137.9 169.2,138.2 184.9,138.7S216.3,139.9 231.9,140.7L445.2,151.3"/>
<path d="M95,147.2L137.8,144C153.5,142.8 169.2,141.7 184.9,140.5S216.3,138.1 231.9,137L445.2,121.2"/>
<path d="M95,143.6L137.8,140.2C153.5,138.9 169.2,137.7 184.9,136.4S216.3,134 231.9,132.8L445.2,116.6"/>
<path d="M95,148.8L137.8,149.4C153.5,149.7 169.2,149.2 184.9,148.1S216.3,145.4 231.9,143.6L445.2,119.2"/>
<path d="M95,147.3L137.8,142.6C153.5,140.9 169.2,139.1 184.9,137.5S216.3,134.5 231.9,133.3L445.2,117.1"/>
<path d="M95,139.6L137.8,143.6C153.5,145.1 169.2,146.6 184.9,147.9S216.3,150.6 231.9,151.8L445.2,168.2"/>
<path d="M95,143.9L137.8,147.4C153.5,148.7 169.2,150 184.9,151.3S216.3,153.8 231.9,155L445.2,171.5"/>
<path d="M95,138.6L137.8,135.7C153.5,134.6 169.2,133.5 184.9,132.5S216.3,130.4 231.9,129.4L445.2,115.8"/>
<path d="M95,135.7L137.8,143.8C153.5,146.7 169.2,149.5 184.9,151.4S216.3,154.6 231.9,154.7L445.2,155.7"/>
<path d="M95,152.3L137.8,151.7C153.5,151.5 169.2,149.9 184.9,147.7S216.3,142.3 231.9,139.6L445.2,102.2"/>
<path d="M95,137.5L137.8,141.6C153.5,143.2 169.2,144.7 184.9,146.2S216.3,149.2 231.9,150.6L445.2,170.3"/>
<path d="M95,135.7L137.8,133.3C153.5,132.4 169.2,131.7 184.9,131.1S216.3,130 231.9,129.8L445.2,126.5"/>
<path d="M95,139.4L137.8,142.5C153.5,143.6 169.2,144.7 184.9,145.8S216.3,147.8 231.9,148.7L445.2,160.7"/>
<path d="M95,141.1L137.8,147.7C153.5,150.1 169.2,152.2 184.9,153.6S216.3,155.7 231.9,155.6L445.2,153.8"/>
<path d="M95,136.6L137.8,135.1C153.5,134.5 169.2,134 184.9,133.6S216.3,132.6 231.9,132.3L445.2,127"/>
<path d="M95,139.7L137.8,135.9C153.5,134.6 169.2,134 184.9,134.5S216.3,136.5 231.9,138.5L445.2,165.6"/>
<path d="M95,140.8L137.8,134.3C153.5,131.9 169.2,130.4 184.9,130S216.3,130.4 231.9,132.3L445.2,157.1"/>
<path d="M95,133.7L137.8,134.3C153.5,134.5 169.2,135.4 184.9,136.8S216.3,140.1 231.9,141.9L445.2,167.4"/>
<path d="M95,147.5L137.8,141.1C153.5,138.8 169.2,136.4 184.9,134.2S216.3,129.7 231.9,127.6L445.2,99.1"/>
<path d="M95,137L137.8,136.3C153.5,136.1 169.2,135.9 184.9,135.7S216.3,135.5 231.9,135.4L445.2,134.9"/>
<path d="M95,139.4L137.8,133.9C153.5,131.9 169.2,130.9 184.9,131.2S216.3,133 231.9,135.4L445.2,167.4"/>
<path d="M95,134.6L137.8,140.9C153.5,143.2 169.2,145.5 184.9,147.7S216.3,152.2 231.9,154.4L445.2,183.4"/>
<path d="M95,141L137.8,137.2C153.5,135.8 169.2,134.8 184.9,134.3S216.3,134 231.9,134.7L445.2,144"/>
<path d="M95,141.9L137.8,143C153.5,143.3 169.2,143.7 184.9,144S216.3,144.6 231.9,144.9L445.2,148.4"/>
<path d="M95,149.5L137.8,143.3C153.5,141 169.2,138.7 184.9,136.4S216.3,131.8 231.9,129.6L445.2,98.7"/>
<path d="M95,138.6L137.8,136C153.5,135.1 169.2,134.5 184.9,134.3S216.3,134.4 231.9,135.1L445.2,144.4"/>
<path d="M95,144.9L137.8,140.2C153.5,138.5 169.2,136.8 184.9,135.1S216.3,131.8 231.9,130.1L445.2,107.8"/>
<path d="M95,150.7L137.8,149.9C153.5,149.6 169.2,149.3 184.9,148.9S216.3,148.1 231.9,147.7L445.2,141.7"/>
<path d="M95,138.4L137.8,136.5C153.5,135.9 169.2,135.2 184.9,134.7S216.3,133.8 231.9,133.5L445.2,129.2"/>
<path d="M95,140.7L137.8,147.2C153.5,149.6 169.2,151.4 184.9,152S216.3,152.2 231.9,150.8L445.2,130.9"/>
<path d="M95,144.6L137.8,143C153.5,142.4 169.2,141.8 184.9,141.2S216.3,140.1 231.9,139.5L445.2,131.8"/>
<path d="M95,139L137.8,135.6C153.5,134.4 169.2,133.2 184.9,131.9S216.3,129.5 231.9,128.3L445.2,111.9"/>
<path d="M95,149.9L137.8,146.4C153.5,145.1 169.2,143.6 184.9,142.1S216.3,139 231.9,137.7L445.2,119.6"/>
<path d="M95,136.3L137.8,140.7C153.5,142.3 169.2,144 184.9,145.5S216.3,148.1 231.9,148.7L445.2,157.2"/>
<path d="M95,147.6L137.8,150.7C153.5,151.8 169.2,151.8 184.9,150.6S216.3,147.1 231.9,144.5L445.2,108.3"/>
<path d="M95,147.8L137.8,140.9C153.5,138.4 169.2,135.8 184.9,133.5S216.3,128.8 231.9,126.7L445.2,98.4"/>
<path d="M95,146.4L137.8,149.4C153.5,150.4 169.2,151.5 184.9,152.6S216.3,154.6 231.9,155.6L445.2,169.3"/>
<path d="M95,136.4L137.8,132.3C153.5,130.9 169.2,130.6 184.9,131.7S216.3,135.2 231.9,138.1L445.2,177.8"/>
<path d="M95,138.4L137.8,141.1C153.5,142.2 169.2,143.2 184.9,144.2S216.3,146.2 231.9,147.2L445.2,160.6"/>
<path d="M95,147.3L137.8,141.8C153.5,139.7 169.2,137.7 184.9,136.2S216.3,133.5 231.9,133.1L445.2,128"/>
<path d="M95,142.5L137.8,131.7C153.5,127.8 169.2,125 184.9,124.2S216.3,124.7 231.9,127.6L445.2,166.6"/>
<path d="M95,152L137.8,147.5C153.5,145.8 169.2,144 184.9,142.1S216.3,138.3 231.9,136.6L445.2,113.8"/>
<path d="M95,131.4L137.8,132.3C153.5,132.7 169.2,133.5 184.9,134.6S216.3,137.2 231.9,138.9L445.2,161.2"/>
<path d="M95,151L137.8,149.4C153.5,148.8 169.2,147.3 184.9,145.3S216.3,141.1 231.9,139L445.2,111.8"/>
<path d="M95,138L137.8,145.2C153.5,147.8 169.2,150.3 184.9,152.4S216.3,156.1 231.9,157.1L445.2,171.1"/>
<path d="M95,137.1L137.8,140.9C153.5,142.2 169.2,143.6 184.9,145S216.3,147.7 231.9,148.9L445.2,165.7"/>
<path d="M95,131.6L137.8,137C153.5,138.9 169.2,140.9 184.9,142.9S216.3,146.9 231.9,148.9L445.2,175.6"/>
<path d="M95,137.9L137.8,135.3C153.5,134.3 169.2,134.3 184.9,135.2S216.3,137.9 231.9,140L445.2,168.4"/>
<path d="M95,150.5L137.8,147.6C153.5,146.5 169.2,144.8 184.9,142.9S216.3,139.1 231.9,137.6L445.2,117.5"/>
<path d="M95,139.2L137.8,136.2C153.5,135.1 169.2,134.2 184.9,133.6S216.3,132.6 231.9,132.6L445.2,132.4"/>
<path d="M95,136.3L137.8,136.6C153.5,136.6 169.2,137.5 184.9,138.7S216.3,141.7 231.9,143.2L445.2,164"/>
<path d="M95,139.3L137.8,141.1C153.5,141.7 169.2,142.4 184.9,143S216.3,144.1 231.9,144.3L445.2,147.5"/>
<path d="M95,136.1L137.8,130.6C153.5,128.5 169.2,127.8 184.9,128.6S216.3,131.9 231.9,135.1L445.2,178.7"/>
<path d="M95,141.9L137.8,144.3C153.5,145.2 169.2,145.8 184.9,146S216.3,146 231.9,145.4L445.2,137"/>
<path d="M95,142L137.8,145.5C153.5,146.8 169.2,148 184.9,149.3S216.3,151.7 231.9,152.9L445.2,169.1"/>
<path d="M95,138.9L137.8,129.4C153.5,126 169.2,124.2 184.9,124.9S216.3,128.5 231.9,132.8L445.2,191"/>
<path d="M95,136.9L137.8,134.4C153.5,133.5 169.2,133 184.9,132.8S216.3,132.8 231.9,133.5L445.2,141.7"/>
<path d="M95,146.6L137.8,146.2C153.5,146 169.2,145.9 184.9,145.7S216.3,145.4 231.9,145.2L445.2,142.8"/>
<path d="M95,149.8L137.8,147.7C153.5,146.9 169.2,145.9 184.9,144.8S216.3,142.5 231.9,141.3L445.2,125"/>
<path d="M95,134.4L137.8,138.4C153.5,139.8 169.2,141.3 184.9,142.7S216.3,145.7 231.9,147.1L445.2,166.6"/>
<path d="M95,152.7L137.8,147.5C153.5,145.6 169.2,143.6 184.9,141.7S216.3,137.8 231.9,135.9L445.2,110.1"/>
<path d="M95,148.3L137.8,145.9C153.5,145.1 169.2,144.2 184.9,143.2S216.3,141.4 231.9,140.5L445.2,128.1"/>
<path d="M95,133.9L137.8,133.1C153.5,132.8 169.2,133.3 184.9,134.5S216.3,137.6 231.9,139.6L445.2,167.6"/>
<path d="M95,146.9L137.8,139.4C153.5,136.6 169.2,134.2 184.9,132.9S216.3,131.5 231.9,132.5L445.2,146.8"/>
<path d="M95,145L137.8,151.4C153.5,153.8 169.2,155.7 184.9,157S216.3,159 231.9,159L445.2,158.3"/>
<path d="M95,142.1L137.8,141.5C153.5,141.3 169.2,141.1 184.9,141S216.3,140.7 231.9,140.7L445.2,140.5"/>
<path d="M95,145.5L137.8,144.1C153.5,143.5 169.2,143 184.9,142.5S216.3,141.4 231.9,140.9L445.2,133.8"/>
<path d="M95,152.1L137.8,152.4C153.5,152.6 169.2,152.7 184.9,152.7S216.3,152.8 231.9,152.8L445.2,152.7"/>
<path d="M95,137.9L137.8,132.1C153.5,129.9 169.2,128.7 184.9,128.8S216.3,130.2 231.9,132.5L445.2,163.1"/>
<path d="M95,137.5L137.8,144.3C153.5,146.7 169.2,149.2 184.9,151.6S216.3,156.3 231.9,158.5L445.2,188.8"/>
<path d="M95,141.2L137.8,132.5C153.5,129.4 169.2,127.3 184.9,127.1S216.3,128.5 231.9,131.4L445.2,171"/>
<path d="M95,139.6L137.8,140.6C153.5,140.9 169.2,141.3 184.9,141.7S216.3,142.4 231.9,142.8L445.2,147.8"/>
<path d="M95,149.4L137.8,139.5C153.5,135.8 169.2,132.4 184.9,129.8S216.3,125.4 231.9,124.8L445.2,117"/>
<path d="M95,146.9L137.8,143.7C153.5,142.6 169.2,141.3 184.9,140.1S216.3,137.9 231.9,137.1L445.2,125.9"/>
<path d="M95,132.8L137.8,142C153.5,145.4 169.2,148.7 184.9,151.2S216.3,155.2 231.9,155.5L445.2,159.4"/>
<path d="M95,144.8L137.8,135.7C153.5,132.4 169.2,129.9 184.9,129.1S216.3,129.2 231.9,131.5L445.2,162.5"/>
<path d="M95,141.9L137.8,144.2C153.5,145 169.2,145.9 184.9,146.7S216.3,148.2 231.9,149L445.2,159.1"/>
<path d="M95,147.9L137.8,146.9C153.5,146.5 169.2,146.1 184.9,145.7S216.3,144.7 231.9,144.2L445.2,137.1"/>
<path d="M95,132.5L137.8,138.9C153.5,141.2 169.2,143.5 184.9,145.8S216.3,150.4 231.9,152.6L445.2,181.8"/>
<path d="M95,135.5L137.8,137.8C153.5,138.6 169.2,139.4 184.9,140.3S216.3,142 231.9,142.8L445.2,154.3"/>
<path d="M95,138.8L137.8,144.3C153.5,146.3 169.2,148.2 184.9,150.1S216.3,153.8 231.9,155.5L445.2,178.4"/>
<path d="M95,141.1L137.8,135.2C153.5,133.1 169.2,131.5 184.9,130.6S216.3,129.9 231.9,130.8L445.2,142.7"/>
<path d="M95,138L137.8,139.8C153.5,140.5 169.2,141.1 184.9,141.8S216.3,143.2 231.9,143.8L445.2,152.9"/>
<path d="M95,143.1L137.8,142C153.5,141.6 169.2,141.2 184.9,140.8S216.3,139.9 231.9,139.5L445.2,134"/>
<path d="M95,134.4L137.8,129.7C153.5,128 169.2,126.8 184.9,126.3S216.3,126.1 231.9,127L445.2,139.2"/>
<path d="M95,145.5L137.8,140.2C153.5,138.3 169.2,136.4 184.9,134.5S216.3,130.7 231.9,128.9L445.2,103.8"/>
<path d="M95,150L137.8,145.8C153.5,144.3 169.2,142.7 184.9,141.2S216.3,138.1 231.9,136.6L445.2,115.8"/>
<path d="M95,135.6L137.8,141.1C153.5,143.1 169.2,145.1 184.9,147S216.3,151 231.9,152.9L445.2,179"/>
<path d="M95,140.6L137.8,145.8C153.5,147.7 169.2,149.4 184.9,150.6S216.3,152.4 231.9,152.5L445.2,153.1"/>
<path d="M95,134.5L137.8,133.5C153.5,133.2 169.2,133.3 184.9,133.8S216.3,135.3 231.9,136.6L445.2,153.8"/>
<path d="M95,139.9L137.8,144.6C153.5,146.4 169.2,148 184.9,149.2S216.3,151.3 231.9,151.7L445.2,157.1"/>
<path d="M95,132.7L137.8,134.6C153.5,135.3 169.2,136.5 184.9,137.9S216.3,141 231.9,142.7L445.2,164.9"/>
<path d="M95,142.9L137.8,136.9C153.5,134.7 169.2,133.2 184.9,132.8S216.3,133.2 231.9,134.8L445.2,157.4"/>
<path d="M95,143.5L137.8,135.6C153.5,132.8 169.2,130.5 184.9,129.4S216.3,128.6 231.9,129.9L445.2,148.1"/>
<path d="M95,139.7L137.8,137.5C153.5,136.7 169.2,135.9 184.9,135.1S216.3,133.8 231.9,133.2L445.2,125.5"/>
<path d="M95,145.2L137.8,138.2C153.5,135.6 169.2,133.1 184.9,131.1S216.3,127.5 231.9,126.5L445.2,112.9"/>
<path d="M95,143.2L137.8,146.2C153.5,147.4 169.2,148.1 184.9,148.1S216.3,147.6 231.9,146.6L445.2,132.6"/>
<path d="M95,138.5L137.8,136.8C153.5,136.2 169.2,135.7 184.9,135.3S216.3,134.6 231.9,134.4L445.2,131.7"/>
<path d="M95,149.4L137.8,144.9C153.5,143.3 169.2,141.5 184.9,139.9S216.3,136.6 231.9,135.3L445.2,117.3"/>
<path d="M95,135.1L137.8,142.2C153.5,144.7 169.2,147.3 184.9,149.6S216.3,153.9 231.9,155.4L445.2,176"/>
<path d="M95,141L137.8,143.7C153.5,144.7 169.2,145.5 184.9,146S216.3,146.6 231.9,146.3L445.2,142.7"/>
<path d="M95,140.8L137.8,146.3C153.5,148.2 169.2,149.9 184.9,150.9S216.3,152.1 231.9,151.7L445.2,145.5"/>
<path d="M95,132.2L137.8,136.4C153.5,138 169.2,139.5 184.9,141.1S216.3,144.2 231.9,145.8L445.2,167"/>
<path d="M95,151.7L137.8,146.9C153.5,145.2 169.2,143.3 184.9,141.3S216.3,137.5 231.9,135.9L445.2,113.4"/>
<path d="M95,133.1L137.8,129.7C153.5,128.4 169.2,127.6 184.9,127.2S216.3,126.9 231.9,127.4L445.2,134.7"/>
<path d="M95,142.4L137.8,149.1C153.5,151.5 169.2,153.1 184.9,153.2S216.3,152.2 231.9,150L445.2,120.3"/>
<path d="M95,143.5L137.8,141.6C153.5,140.9 169.2,140.2 184.9,139.6S216.3,138.6 231.9,138.2L445.2,133.7"/>
<path d="M95,141.3L137.8,136C153.5,134 169.2,132.4 184.9,131.3S216.3,129.6 231.9,129.6L445.2,130.2"/>
<path d="M95,135.2L137.8,138.3C153.5,139.4 169.2,141 184.9,142.6S216.3,145.5 231.9,146.4L445.2,157.7"/>
<path d="M95,134.9L137.8,136.5C153.5,137 169.2,137.6 184.9,138.2S216.3,139.4 231.9,140L445.2,148.3"/>
<path d="M95,138.6L137.8,136.4C153.5,135.6 169.2,135.1 184.9,135S216.3,135.2 231.9,135.9L445.2,145"/>
<path d="M95,138.9L137.8,138.6C153.5,138.5 169.2,138.7 184.9,138.9S216.3,139.7 231.9,140.3L445.2,148"/>
<path d="M95,138.4L137.8,143.6C153.5,145.5 169.2,147.4 184.9,149.2S216.3,152.8 231.9,154.4L445.2,177"/>
<path d="M95,138.3L137.8,145.2C153.5,147.8 169.2,150.2 184.9,152.1S216.3,155.7 231.9,156.6L445.2,169.5"/>
<path d="M95,141.5L137.8,146.2C153.5,148 169.2,149.7 184.9,151.4S216.3,154.9 231.9,156.6L445.2,179.5"/>
<path d="M95,138.7L137.8,145.6C153.5,148.1 169.2,150.2 184.9,151.4S216.3,152.7 231.9,151.8L445.2,140.1"/>
<path d="M95,147.6L137.8,147.4C153.5,147.4 169.2,147.2 184.9,146.8S216.3,146 231.9,145.5L445.2,137.9"/>
<path d="M95,135.5L137.8,131.9C153.5,130.6 169.2,130.3 184.9,131.1S216.3,133.7 231.9,136.2L445.2,169.4"/>
<path d="M95,149.3L137.8,144.8C153.5,143.1 169.2,141.4 184.9,139.7S216.3,136.4 231.9,135.1L445.2,117.8"/>
<path d="M95,133.4L137.8,136.1C153.5,137.1 169.2,138.8 184.9,140.7S216.3,144.6 231.9,146.1L445.2,166.6"/>
<path d="M95,147.8L137.8,138.6C153.5,135.3 169.2,132.1 184.9,129.6S216.3,125.2 231.9,124.3L445.2,111.9"/>
<path d="M95,146.7L137.8,148C153.5,148.4 169.2,148.9 184.9,149.3S216.3,150.1 231.9,150.4L445.2,154.9"/>
<path d="M95,142.3L137.8,140.7C153.5,140.1 169.2,139.6 184.9,139.3S216.3,138.9 231.9,139.1L445.2,141.3"/>
<path d="M95,136.4L137.8,139.9C153.5,141.2 169.2,142.7 184.9,143.9S216.3,146.3 231.9,146.9L445.2,155.2"/>
<path d="M95,133.1L137.8,128C153.5,126.1 169.2,124.7 184.9,123.9S216.3,122.9 231.9,123.4L445.2,129.6"/>
<path d="M95,136.1L137.8,141.4C153.5,143.4 169.2,145.4 184.9,146.9S216.3,149.4 231.9,149.6L445.2,152.3"/>
<path d="M95,146.1L137.8,147.8C153.5,148.4 169.2,149 184.9,149.4S216.3,150.2 231.9,150.4L445.2,153.2"/>
<path d="M95,136.1L137.8,138.1C153.5,138.8 169.2,139.5 184.9,140.3S216.3,141.9 231.9,142.7L445.2,153.3"/>
<path d="M95,141L137.8,143.7C153.5,144.7 169.2,145.7 184.9,146.4S216.3,147.8 231.9,148.2L445.2,153.5"/>
<path d="M95,150.2L137.8,149C153.5,148.6 169.2,148.1 184.9,147.6S216.3,146.6 231.9,146.1L445.2,139.1"/>
<path d="M95,142.1L137.8,140.9C153.5,140.5 169.2,140 184.9,139.6S216.3,138.7 231.9,138.3L445.2,132.9"/>
<path d="M95,134.8L137.8,135.5C153.5,135.7 169.2,136.3 184.9,137.1S216.3,139 231.9,140.1L445.2,155.9"/>
<path d="M95,134.3L137.8,139.4C153.5,141.2 169.2,143.1 184.9,144.9S216.3,148.6 231.9,150.4L445.2,175.3"/>
<path d="M95,133.3L137.8,139C153.5,141 169.2,143.1 184.9,145.2S216.3,149.3 231.9,151.4L445.2,179.3"/>
<path d="M95,142.3L137.8,144.7C153.5,145.6 169.2,146.5 184.9,147.3S216.3,148.8 231.9,149.5L445.2,158.9"/>
<path d="M95,145.6L137.8,142.2C153.5,140.9 169.2,139.7 184.9,138.4S216.3,136 231.9,134.7L445.2,118.2"/>
<path d="M95,145L137.8,135.5C153.5,132 169.2,129.4 184.9,128.5S216.3,128.5 231.9,130.8L445.2,162.4"/>
<path d="M95,137.1L137.8,141.6C153.5,143.3 169.2,144.9 184.9,146.6S216.3,149.9 231.9,151.5L445.2,173.8"/>
<path d="M95,132.7L137.8,134.6C153.5,135.3 169.2,136.8 184.9,138.7S216.3,142.7 231.9,144.6L445.2,170.6"/>
<path d="M95,140.7L137.8,144C153.5,145.2 169.2,146.3 184.9,147.5S216.3,149.7 231.9,150.8L445.2,165"/>
<path d="M95,143.5L137.8,148C153.5,149.6 169.2,150.8 184.9,151.3S216.3,151.7 231.9,150.9L445.2,140"/>
<path d="M95,141.6L137.8,143.4C153.5,144.1 169.2,144.8 184.9,145.4S216.3,146.7 231.9,147.3L445.2,155.5"/>
<path d="M95,149.3L137.8,149.5C153.5,149.6 169.2,149.3 184.9,148.6S216.3,146.7 231.9,145.4L445.2,127.5"/>
<path d="M95,142.5L137.8,140.9C153.5,140.3 169.2,139.8 184.9,139.4S216.3,138.6 231.9,138.5L445.2,136.1"/>
<path d="M95,146.8L137.8,138.2C153.5,135 169.2,132 184.9,129.3S216.3,124.3 231.9,122.6L445.2,99.1"/>
<path d="M95,136.1L137.8,142.4C153.5,144.7 169.2,147 184.9,148.4S216.3,150.5 231.9,150.2L445.2,145.4"/>
<path d="M95,134.4L137.8,139.6C153.5,141.5 169.2,143.5 184.9,145.4S216.3,149.1 231.9,150.8L445.2,174.4"/>
<path d="M95,150.2L137.8,142.7C153.5,140 169.2,137.2 184.9,135.1S216.3,132 231.9,132L445.2,132.3"/>
<path d="M95,152.3L137.8,149.4C153.5,148.4 169.2,147.1 184.9,145.6S216.3,142.4 231.9,140.8L445.2,118.9"/>
<path d="M95,143.2L137.8,140.5C153.5,139.4 169.2,138.5 184.9,137.7S216.3,136.3 231.9,135.9L445.2,130.6"/>
<path d="M95,140.8L137.8,145.6C153.5,147.4 169.2,149.1 184.9,150.9S216.3,154.2 231.9,155.9L445.2,177.8"/>
<path d="M95,139.7L137.8,132C153.5,129.2 169.2,127.1 184.9,126.2S216.3,125.5 231.9,126.8L445.2,145.2"/>
<path d="M95,148.1L137.8,147.9C153.5,147.8 169.2,147.6 184.9,147.4S216.3,146.9 231.9,146.5L445.2,141.6"/>
<path d="M95,143.8L137.8,140.2C153.5,138.9 169.2,137.8 184.9,137S216.3,135.8 231.9,135.9L445.2,137"/>
<path d="M95,144.3L137.8,144.4C153.5,144.5 169.2,144.5 184.9,144.5S216.3,144.4 231.9,144.3L445.2,142.9"/>
<path d="M95,140.7L137.8,136.4C153.5,134.8 169.2,133.3 184.9,131.9S216.3,129.4 231.9,128.4L445.2,115.3"/>
<path d="M95,141.2L137.8,136.8C153.5,135.1 169.2,133.9 184.9,133.4S216.3,132.9 231.9,133.7L445.2,143.9"/>
<path d="M95,138.2L137.8,143.5C153.5,145.5 169.2,147.3 184.9,148.7S216.3,150.8 231.9,151L445.2,153"/>
<path d="M95,147.8L137.8,146.2C153.5,145.7 169.2,144.6 184.9,143.3S216.3,140.6 231.9,139.5L445.2,123.9"/>
<path d="M95,142.4L137.8,145.3C153.5,146.4 169.2,147.3 184.9,147.9S216.3,149 231.9,149L445.2,150"/>
<path d="M95,139.9L137.8,133.8C153.5,131.6 169.2,129.7 184.9,128.3S216.3,126 231.9,125.7L445.2,121.7"/>
<path d="M95,143.8L137.8,143.4C153.5,143.3 169.2,143.1 184.9,142.8S216.3,142.1 231.9,141.8L445.2,137.1"/>
<path d="M95,133.7L137.8,130.9C153.5,129.9 169.2,129 184.9,128.3S216.3,127 231.9,126.7L445.2,122"/>
<path d="M95,142.5L137.8,142.5C153.5,142.5 169.2,142.5 184.9,142.5S216.3,142.4 231.9,142.4L445.2,142.3"/>
<path d="M95,140.7L137.8,138.4C153.5,137.6 169.2,136.7 184.9,135.9S216.3,134.2 231.9,133.4L445.2,122.1"/>
<path d="M95,138.8L137.8,140.7C153.5,141.3 169.2,142.2 184.9,142.9S216.3,144.2 231.9,144.5L445.2,149.1"/>
<path d="M95,145.4L137.8,138.5C153.5,136 169.2,133.5 184.9,131.2S216.3,126.8 231.9,124.9L445.2,99.7"/>
<path d="M95,135.5L137.8,145C153.5,148.4 169.2,151.8 184.9,154.6S216.3,159.7 231.9,161.1L445.2,181.2"/>
<path d="M95,149.6L137.8,138.7C153.5,134.7 169.2,131.1 184.9,128.8S216.3,125.6 231.9,126.3L445.2,136"/>
<path d="M95,132.5L137.8,131C153.5,130.5 169.2,130.5 184.9,131.1S216.3,132.8 231.9,134.4L445.2,155.2"/>
<path d="M95,134.1L137.8,135.6C153.5,136.1 169.2,137 184.9,138.2S216.3,140.7 231.9,142.1L445.2,160.9"/>
<path d="M95,136.8L137.8,137.8C153.5,138.2 169.2,138.8 184.9,139.5S216.3,141.1 231.9,141.9L445.2,153.4"/>
<path d="M95,140.8L137.8,136.2C153.5,134.6 169.2,132.9 184.9,131.4S216.3,128.5 231.9,127.3L445.2,110.3"/>
<path d="M95,148.5L137.8,141.8C153.5,139.4 169.2,136.9 184.9,135S216.3,131.6 231.9,130.9L445.2,121.5"/>
<path d="M95,147.5L137.8,146.2C153.5,145.7 169.2,144.8 184.9,143.7S216.3,141.4 231.9,140.3L445.2,125.2"/>
<path d="M95,137L137.8,137.2C153.5,137.3 169.2,137.4 184.9,137.5S216.3,137.7 231.9,137.8L445.2,139.1"/>
<path d="M95,137.7L137.8,139.7C153.5,140.5 169.2,141.3 184.9,142S216.3,143.6 231.9,144.3L445.2,154.5"/>
<path d="M95,148.4L137.8,149.9C153.5,150.4 169.2,150.9 184.9,151.3S216.3,152.2 231.9,152.5L445.2,157"/>
<path d="M95,137.3L137.8,144.3C153.5,146.8 169.2,149.1 184.9,150.5S216.3,152.5 231.9,152L445.2,145.4"/>
<path d="M95,144.7L137.8,140.2C153.5,138.5 169.2,137.1 184.9,136.3S216.3,135.5 231.9,136.2L445.2,145"/>
<path d="M95,147.5L137.8,144.9C153.5,143.9 169.2,142.9 184.9,141.9S216.3,140 231.9,139L445.2,126.1"/>
<path d="M95,132.7L137.8,130.1C153.5,129.2 169.2,129.5 184.9,131S216.3,135.2 231.9,138.2L445.2,179.7"/>
<path d="M95,142L137.8,140.2C153.5,139.5 169.2,139.1 184.9,139S216.3,139.2 231.9,139.8L445.2,147.4"/>
<path d="M95,132.4L137.8,130.2C153.5,129.4 169.2,128.6 184.9,127.9S216.3,126.3 231.9,125.6L445.2,115.3"/>
<path d="M95,148.4L137.8,144.3C153.5,142.8 169.2,141.3 184.9,139.8S216.3,136.9 231.9,135.4L445.2,115.6"/>
<path d="M95,140.7L137.8,142.6C153.5,143.3 169.2,143.9 184.9,144.6S216.3,145.8 231.9,146.4L445.2,153.8"/>
<path d="M95,136L137.8,132.1C153.5,130.7 169.2,129.7 184.9,129.2S216.3,128.6 231.9,129L445.2,134.9"/>
<path d="M95,143.3L137.8,143.3C153.5,143.3 169.2,143.3 184.9,143.2S216.3,143.2 231.9,143.1L445.2,142.5"/>
<path d="M95,152.5L137.8,148.5C153.5,147.1 169.2,144.8 184.9,142.4S216.3,137.6 231.9,135.9L445.2,113.4"/>
<path d="M95,141L137.8,142.2C153.5,142.7 169.2,143.1 184.9,143.4S216.3,143.8 231.9,143.7L445.2,143.2"/>
<path d="M95,146.5L137.8,139.9C153.5,137.4 169.2,135.1 184.9,133.1S216.3,129.6 231.9,128.7L445.2,115.8"/>
<path d="M95,151L137.8,141C153.5,137.4 169.2,133.9 184.9,131.7S216.3,128.5 231.9,129.2L445.2,138.4"/>
<path d="M95,139.3L137.8,133.4C153.5,131.3 169.2,129.3 184.9,127.5S216.3,124.1 231.9,122.9L445.2,105.9"/>
<path d="M95,135L137.8,136.2C153.5,136.6 169.2,137.1 184.9,137.6S216.3,138.6 231.9,139.2L445.2,146.7"/>
<path d="M95,148.2L137.8,148C153.5,147.9 169.2,147.7 184.9,147.5S216.3,147 231.9,146.6L445.2,141.7"/>
<path d="M95,133.5L137.8,134.3C153.5,134.7 169.2,135 184.9,135.4S216.3,136.2 231.9,136.6L445.2,142.3"/>
<path d="M95,134.4L137.8,141.4C153.5,144 169.2,146.6 184.9,148.7S216.3,152.7 231.9,153.8L445.2,168.6"/>
<path d="M95,136L137.8,141.8C153.5,143.9 169.2,146.1 184.9,147.7S216.3,150.4 231.9,150.8L445.2,155.7"/>
<path d="M95,149.9L137.8,149.7C153.5,149.7 169.2,149 184.9,147.7S216.3,144.7 231.9,142.8L445.2,117.7"/>
<path d="M95,146.7L137.8,139.1C153.5,136.3 169.2,133.8 184.9,132.2S216.3,130 231.9,130.5L445.2,137.4"/>
<path d="M95,131.4L137.8,132.7C153.5,133.2 169.2,134.7 184.9,136.7S216.3,141.4 231.9,143.9L445.2,176.9"/>
<path d="M95,146.9L137.8,148.1C153.5,148.6 169.2,148.6 184.9,148.2S216.3,147.1 231.9,146L445.2,131.7"/>
<path d="M95,138.3L137.8,134.2C153.5,132.8 169.2,131.3 184.9,129.9S216.3,127.2 231.9,125.9L445.2,108.2"/>
<path d="M95,133.8L137.8,132.2C153.5,131.6 169.2,131.1 184.9,130.7S216.3,130.1 231.9,129.9L445.2,128.1"/>
<path d="M95,136.2L137.8,137.4C153.5,137.9 169.2,138.5 184.9,139.1S216.3,140.6 231.9,141.4L445.2,152"/>
<path d="M95,132.8L137.8,135.2C153.5,136 169.2,137.7 184.9,139.6S216.3,143.8 231.9,145.6L445.2,169.8"/>
<path d="M95,132.9L137.8,131.4C153.5,130.8 169.2,131.6 184.9,133.4S216.3,138.1 231.9,141.1L445.2,181.7"/>
<path d="M95,140.2L137.8,136.6C153.5,135.3 169.2,134.3 184.9,133.8S216.3,133.3 231.9,133.8L445.2,140.9"/>
<path d="M95,139.9L137.8,147.4C153.5,150.2 169.2,152.8 184.9,155S216.3,159 231.9,160.3L445.2,178.2"/>
<path d="M95,137.9L137.8,138.2C153.5,138.3 169.2,138.8 184.9,139.6S216.3,141.4 231.9,142.4L445.2,156"/>
<path d="M95,145.7L137.8,142.4C153.5,141.2 169.2,140 184.9,138.8S216.3,136.4 231.9,135.3L445.2,120"/>
<path d="M95,145.5L137.8,141.8C153.5,140.4 169.2,139.1 184.9,138.1S216.3,136.3 231.9,136L445.2,132.4"/>
<path d="M95,134.8L137.8,132.8C153.5,132 169.2,131.3 184.9,130.6S216.3,129.1 231.9,128.4L445.2,118.5"/>
<path d="M95,144.3L137.8,137.6C153.5,135.2 169.2,133.2 184.9,132.3S216.3,131.5 231.9,132.6L445.2,148.2"/>
<path d="M95,138.4L137.8,142.6C153.5,144.2 169.2,145.6 184.9,146.5S216.3,147.7 231.9,147.3L445.2,142.5"/>
<path d="M95,150.8L137.8,149.3C153.5,148.8 169.2,148.2 184.9,147.6S216.3,146.3 231.9,145.6L445.2,136"/>
<path d="M95,139.3L137.8,133.2C153.5,130.9 169.2,129.9 184.9,130.4S216.3,132.9 231.9,135.8L445.2,174.9"/>
<path d="M95,136.6L137.8,135.4C153.5,135 169.2,134.7 184.9,134.4S216.3,134.1 231.9,134L445.2,133.6"/>
<path d="M95,135.6L137.8,139.7C153.5,141.3 169.2,143 184.9,144.5S216.3,147.2 231.9,147.9L445.2,157.4"/>
<path d="M95,137.7L137.8,143C153.5,144.9 169.2,146.7 184.9,147.7S216.3,149.1 231.9,148.5L445.2,140.6"/>
<path d="M95,131.9L137.8,133C153.5,133.4 169.2,133.8 184.9,134.2S216.3,135.1 231.9,135.5L445.2,141.3"/>
<path d="M95,132.8L137.8,136.5C153.5,137.8 169.2,139.2 184.9,140.6S216.3,143.4 231.9,144.8L445.2,163.7"/>
<path d="M95,140.1L137.8,140C153.5,139.9 169.2,140.1 184.9,140.5S216.3,141.5 231.9,142L445.2,149.5"/>
<path d="M95,144.9L137.8,148.7C153.5,150.1 169.2,151.5 184.9,152.9S216.3,155.7 231.9,157L445.2,175.5"/>
<path d="M95,144.8L137.8,146.2C153.5,146.7 169.2,147.2 184.9,147.7S216.3,148.7 231.9,149.1L445.2,155.3"/>
<path d="M95,137.7L137.8,139.9C153.5,140.7 169.2,141.6 184.9,142.5S216.3,144.2 231.9,144.8L445.2,153"/>
<path d="M95,141L137.8,140.6C153.5,140.4 169.2,140.2 184.9,140.1S216.3,139.8 231.9,139.6L445.2,137.7"/>
<path d="M95,133L137.8,136.8C153.5,138.2 169.2,139.9 184.9,141.6S216.3,144.9 231.9,146.4L445.2,166.2"/>
<path d="M95,146L137.8,146.2C153.5,146.2 169.2,146.3 184.9,146.2S216.3,146.2 231.9,146.1L445.2,144.7"/>
<path d="M95,152.5L137.8,150.9C153.5,150.3 169.2,149.7 184.9,148.9S216.3,147.2 231.9,146.3L445.2,133.7"/>
<path d="M95,140.4L137.8,143.8C153.5,145.1 169.2,146.2 184.9,146.9S216.3,147.8 231.9,147.5L445.2,144.2"/>
<path d="M95,151.1L137.8,141.3C153.5,137.7 169.2,134.2 184.9,131.6S216.3,127.1 231.9,126.7L445.2,120"/>
<path d="M95,147L137.8,151.1C153.5,152.6 169.2,153.2 184.9,152.8S216.3,150.9 231.9,148.8L445.2,120"/>
<path d="M95,145.4L137.8,143.9C153.5,143.4 169.2,142.7 184.9,142.1S216.3,140.9 231.9,140.3L445.2,132.5"/>
<path d="M95,138.1L137.8,132.9C153.5,130.9 169.2,129.8 184.9,129.7S216.3,130.6 231.9,132.4L445.2,156.6"/>
<path d="M95,151L137.8,151.1C153.5,151.2 169.2,150.5 184.9,149.2S216.3,146.1 231.9,144.1L445.2,116.5"/>
<path d="M95,143L137.8,134C153.5,130.7 169.2,128.2 184.9,127.1S216.3,126.2 231.9,127.7L445.2,149"/>
<path d="M95,133.4L137.8,141.6C153.5,144.7 169.2,147.7 184.9,150.3S216.3,155.1 231.9,156.6L445.2,176.3"/>
<path d="M95,135.9L137.8,132.7C153.5,131.6 169.2,130.5 184.9,129.5S216.3,127.7 231.9,126.9L445.2,116.7"/>
<path d="M95,141.6L137.8,143.4C153.5,144.1 169.2,144.6 184.9,144.9S216.3,145.1 231.9,144.9L445.2,141.7"/>
<path d="M95,139.8L137.8,145.4C153.5,147.4 169.2,149.5 184.9,151.5S216.3,155.6 231.9,157.6L445.2,184.9"/>
<path d="M95,151.5L137.8,150.3C153.5,149.8 169.2,149.3 184.9,148.7S216.3,147.4 231.9,146.6L445.2,136.6"/>
<path d="M95,132.1L137.8,142.6C153.5,146.4 169.2,150.1 184.9,152.5S216.3,156.1 231.9,155.5L445.2,147.6"/>
<path d="M95,144.3L137.8,147.2C153.5,148.2 169.2,149.2 184.9,150.2S216.3,152.2 231.9,153.2L445.2,166.2"/>
<path d="M95,140.3L137.8,145.4C153.5,147.3 169.2,148.7 184.9,149.3S216.3,149.4 231.9,148.3L445.2,132.8"/>
<path d="M95,148.5L137.8,138.5C153.5,134.9 169.2,131.7 184.9,129.9S216.3,127.8 231.9,129.1L445.2,146.4"/>
<path d="M95,141.6L137.8,143.2C153.5,143.8 169.2,144.4 184.9,144.9S216.3,146 231.9,146.4L445.2,152.7"/>
<path d="M95,144.3L137.8,148.3C153.5,149.8 169.2,150.6 184.9,150.5S216.3,149.4 231.9,147.8L445.2,125.9"/>
<path d="M95,134.6L137.8,131.6C153.5,130.5 169.2,130.4 184.9,131.5S216.3,134.7 231.9,137.4L445.2,173.4"/>
<path d="M95,145.2L137.8,143.8C153.5,143.3 169.2,142.8 184.9,142.2S216.3,141.2 231.9,140.7L445.2,133.6"/>
<path d="M95,139.8L137.8,148.6C153.5,151.8 169.2,154.6 184.9,156.6S216.3,159.8 231.9,159.9L445.2,161.5"/>
<path d="M95,144.9L137.8,149.1C153.5,150.7 169.2,151.9 184.9,152.5S216.3,153.3 231.9,152.9L445.2,147.1"/>
<path d="M95,141.2L137.8,139.8C153.5,139.3 169.2,139 184.9,139.1S216.3,139.5 231.9,140L445.2,147.5"/>
<path d="M95,137.9L137.8,134.8C153.5,133.6 169.2,132.5 184.9,131.4S216.3,129.2 231.9,128.2L445.2,114.7"/>
<path d="M95,138.2L137.8,143C153.5,144.8 169.2,146.5 184.9,148.1S216.3,151 231.9,152.1L445.2,166.8"/>
<path d="M95,143.6L137.8,149.9C153.5,152.2 169.2,153.8 184.9,154.3S216.3,154.2 231.9,152.6L445.2,131.6"/>
<path d="M95,147.8L137.8,147.9C153.5,147.9 169.2,147.9 184.9,147.8S216.3,147.6 231.9,147.4L445.2,144.7"/>
<path d="M95,147.9L137.8,144.2C153.5,142.9 169.2,141.3 184.9,139.9S216.3,137.3 231.9,136.7L445.2,127.7"/>
<path d="M95,150.9L137.8,148.3C153.5,147.3 169.2,146.3 184.9,145.2S216.3,143.1 231.9,142L445.2,127.5"/>
<path d="M95,148L137.8,141.3C153.5,138.9 169.2,136.4 184.9,134S216.3,129.2 231.9,126.9L445.2,95.2"/>
<path d="M95,149.6L137.8,152C153.5,152.8 169.2,152.9 184.9,152.1S216.3,149.8 231.9,147.7L445.2,119.9"/>
<path d="M95,150.2L137.8,144.6C153.5,142.5 169.2,140.3 184.9,138.3S216.3,134.3 231.9,132.6L445.2,110.1"/>
<path d="M95,131.3L137.8,138C153.5,140.4 169.2,143.1 184.9,145.5S216.3,150.2 231.9,152L445.2,176.4"/>
<path d="M95,147.7L137.8,140.2C153.5,137.5 169.2,134.9 184.9,133.2S216.3,130.4 231.9,130.5L445.2,131.4"/>
<path d="M95,145.5L137.8,143.5C153.5,142.8 169.2,141.9 184.9,141.1S216.3,139.6 231.9,139L445.2,131.3"/>
<path d="M95,141.8L137.8,150.2C153.5,153.3 169.2,155.4 184.9,155.9S216.3,155.4 231.9,153.1L445.2,121.6"/>
<path d="M95,143L137.8,146C153.5,147.1 169.2,147.8 184.9,147.9S216.3,147.5 231.9,146.5L445.2,133.2"/>
<path d="M95,139.5L137.8,138.5C153.5,138.2 169.2,138.2 184.9,138.6S216.3,139.7 231.9,140.6L445.2,152.7"/>
<path d="M95,136.1L137.8,135.1C153.5,134.7 169.2,134.6 184.9,134.8S216.3,135.5 231.9,136.3L445.2,146.6"/>
<path d="M95,148L137.8,140C153.5,137.1 169.2,134.4 184.9,132.6S216.3,130 231.9,130.3L445.2,135.1"/>
<path d="M95,147.8L137.8,147.6C153.5,147.5 169.2,146.8 184.9,145.7S216.3,143.1 231.9,141.6L445.2,121.5"/>
<path d="M95,137.7L137.8,135.6C153.5,134.9 169.2,134.2 184.9,133.6S216.3,132.5 231.9,132L445.2,126.1"/>
<path d="M95,148.4L137.8,148.2C153.5,148.1 169.2,148 184.9,147.8S216.3,147.6 231.9,147.4L445.2,145.1"/>
<path d="M95,140.8L137.8,143C153.5,143.9 169.2,144.6 184.9,145S216.3,145.6 231.9,145.4L445.2,142.6"/>
<path d="M95,149.8L137.8,138.9C153.5,134.9 169.2,131.3 184.9,129.1S216.3,126.3 231.9,127.3L445.2,141.4"/>
<path d="M95,137.4L137.8,133.2C153.5,131.7 169.2,130.3 184.9,129S216.3,126.5 231.9,125.5L445.2,112"/>
<path d="M95,151.8L137.8,141.4C153.5,137.6 169.2,133.8 184.9,130.6S216.3,124.8 231.9,123.2L445.2,100.9"/>
<path d="M95,136.2L137.8,138.2C153.5,138.9 169.2,139.6 184.9,140.4S216.3,141.9 231.9,142.6L445.2,152.8"/>
<path d="M95,132.8L137.8,132.7C153.5,132.6 169.2,132.8 184.9,133.2S216.3,134.3 231.9,135.2L445.2,146.6"/>
<path d="M95,132.9L137.8,136.6C153.5,137.9 169.2,139.5 184.9,141.1S216.3,144.5 231.9,145.9L445.2,166.1"/>
<path d="M95,136.2L137.8,133.7C153.5,132.8 169.2,132 184.9,131.4S216.3,130.3 231.9,130.1L445.2,126.5"/>
<path d="M95,133.7L137.8,133.6C153.5,133.6 169.2,133.7 184.9,133.8S216.3,134.1 231.9,134.3L445.2,137.4"/>
<path d="M95,145.8L137.8,142C153.5,140.6 169.2,139.3 184.9,137.9S216.3,135.3 231.9,134.2L445.2,118.4"/>
<path d="M95,141.3L137.8,148.4C153.5,150.9 169.2,153.1 184.9,154.6S216.3,156.8 231.9,156.7L445.2,155.3"/>
<path d="M95,134.7L137.8,133.4C153.5,132.9 169.2,132.5 184.9,132.3S216.3,132 231.9,132.1L445.2,133.4"/>
<path d="M95,150L137.8,143.9C153.5,141.7 169.2,139.4 184.9,137.2S216.3,132.7 231.9,130.5L445.2,100.1"/>
<path d="M95,147.7L137.8,150.4C153.5,151.4 169.2,152.1 184.9,152.3S216.3,152.2 231.9,151.5L445.2,142"/>
<path d="M95,146.5L137.8,141.7C153.5,139.9 169.2,138.1 184.9,137S216.3,135.4 231.9,135.8L445.2,140.2"/>
<path d="M95,152.4L137.8,146.5C153.5,144.4 169.2,142.2 184.9,140S216.3,135.7 231.9,133.6L445.2,104.6"/>
<path d="M95,147.3L137.8,147.2C153.5,147.1 169.2,147.1 184.9,147S216.3,146.9 231.9,146.8L445.2,145.9"/>
<path d="M95,146.3L137.8,153.6C153.5,156.2 169.2,157.6 184.9,157.3S216.3,155 231.9,151.9L445.2,110"/>
<path d="M95,138L137.8,140.9C153.5,142 169.2,143 184.9,144.1S216.3,146.1 231.9,147L445.2,159.5"/>
<path d="M95,142.5L137.8,132.8C153.5,129.2 169.2,126.4 184.9,124.9S216.3,123.2 231.9,124.4L445.2,140.5"/>
<path d="M95,140.9L137.8,145.6C153.5,147.3 169.2,149 184.9,150.3S216.3,152.9 231.9,153.7L445.2,164.5"/>
<path d="M95,141L137.8,144.8C153.5,146.2 169.2,147.5 184.9,148.5S216.3,150.4 231.9,150.9L445.2,158.1"/>
<path d="M95,143.3L137.8,143.5C153.5,143.6 169.2,143.6 184.9,143.5S216.3,143.1 231.9,142.8L445.2,138.8"/>
<path d="M95,141.5L137.8,143.8C153.5,144.6 169.2,145.4 184.9,146.1S216.3,147.3 231.9,147.7L445.2,153.3"/>
<path d="M95,140.8L137.8,144.6C153.5,146 169.2,147.3 184.9,148.6S216.3,151.1 231.9,152.3L445.2,167.4"/>
<path d="M95,135L137.8,136C153.5,136.3 169.2,136.7 184.9,137S216.3,137.8 231.9,138.2L445.2,143.3"/>
<path d="M95,135.5L137.8,136.1C153.5,136.3 169.2,137 184.9,138S216.3,140.3 231.9,141.6L445.2,159.7"/>
<path d="M95,138.3L137.8,140.9C153.5,141.8 169.2,142.7 184.9,143.6S216.3,145.5 231.9,146.4L445.2,158.5"/>
<path d="M95,152.1L137.8,153C153.5,153.4 169.2,153.7 184.9,153.9S216.3,154.2 231.9,154.3L445.2,155.5"/>
<path d="M95,147.1L137.8,146.9C153.5,146.8 169.2,146.6 184.9,146.3S216.3,145.6 231.9,145L445.2,138"/>
<path d="M95,137.4L137.8,138.2C153.5,138.5 169.2,138.8 184.9,139.1S216.3,139.7 231.9,140L445.2,144"/>
<path d="M95,133.3L137.8,134.8C153.5,135.3 169.2,136.2 184.9,137.3S216.3,139.8 231.9,141.2L445.2,159.8"/>
</g><use href="#r1" transform="translate(0,283.8) scale(1,-1)"/></g>
<g clip-path="url(#c2)"><g class="r" id="r2">
<path d="M95,242.9L137.8,247.2C153.5,248.8 169.2,250.3 184.9,251.6S216.3,254.3 231.9,255.3L445.2,270"/>
<path d="M95,242.7L137.8,243.9C153.5,244.3 169.2,244.7 184.9,245S216.3,245.5 231.9,245.6L445.2,246.9"/>
<path d="M95,236.4L137.8,237.1C153.5,237.4 169.2,237.6 184.9,238S216.3,238.7 231.9,239L445.2,244.1"/>
<path d="M95,241.1L137.8,244.1C153.5,245.2 169.2,246.2 184.9,247.1S216.3,248.8 231.9,249.3L445.2,257"/>
<path d="M95,240.1L137.8,241.9C153.5,242.5 169.2,243.2 184.9,243.8S216.3,245 231.9,245.6L445.2,253.1"/>
<path d="M95,241.5L137.8,245.6C153.5,247.1 169.2,248.2 184.9,248.6S216.3,248.6 231.9,247.6L445.2,234.3"/>
<path d="M95,250.7L137.8,251.1C153.5,251.3 169.2,251.3 184.9,251.1S216.3,250.6 231.9,250.1L445.2,243.5"/>
<path d="M95,245.3L137.8,250.2C153.5,252 169.2,253.5 184.9,254.6S216.3,256.4 231.9,256.7L445.2,259.5"/>
<path d="M95,246.1L137.8,246.3C153.5,246.3 169.2,246.3 184.9,246.3S216.3,246.2 231.9,246L445.2,244.3"/>
<path d="M95,248.7L137.8,249.8C153.5,250.2 169.2,250.5 184.9,250.5S216.3,250.5 231.9,250.2L445.2,246.7"/>
<path d="M95,235.9L137.8,234.7C153.5,234.3 169.2,234.1 184.9,234.2S216.3,234.7 231.9,235.3L445.2,243.5"/>
<path d="M95,237.8L137.8,235.3C153.5,234.4 169.2,233.6 184.9,232.8S216.3,231.5 231.9,231L445.2,224"/>
<path d="M95,241.8L137.8,244.8C153.5,245.9 169.2,246.9 184.9,247.9S216.3,249.9 231.9,250.8L445.2,262.6"/>
<path d="M95,234.8L137.8,234.1C153.5,233.9 169.2,233.7 184.9,233.7S216.3,233.6 231.9,233.8L445.2,235.8"/>
<path d="M95,246L137.8,245.3C153.5,245 169.2,244.7 184.9,244.3S216.3,243.4 231.9,243L445.2,236.5"/>
<path d="M95,248.4L445.2,269.7"/>
<path d="M95,236.7L137.8,232.8C153.5,231.3 169.2,230.7 184.9,231.1S216.3,232.9 231.9,234.9L445.2,262.6"/>
<path d="M95,239.5L137.8,238.3C153.5,237.8 169.2,237.5 184.9,237.3S216.3,237.1 231.9,237.3L445.2,239.6"/>
<path d="M95,230.9L137.8,227.9C153.5,226.8 169.2,225.9 184.9,225.3S216.3,224.4 231.9,224.4L445.2,223.9"/>
<path d="M95,238.2L137.8,237.2C153.5,236.9 169.2,236.7 184.9,236.7S216.3,236.9 231.9,237.2L445.2,242"/>
<path d="M95,243.5L137.8,248C153.5,249.6 169.2,251.1 184.9,252.1S216.3,253.9 231.9,254.2L445.2,257.9"/>
<path d="M95,235.5L137.8,235.8C153.5,235.9 169.2,236.1 184.9,236.3S216.3,236.7 231.9,237L445.2,241"/>
<path d="M95,252.1L137.8,254.9C153.5,256 169.2,256.9 184.9,257.6S216.3,258.8 231.9,259.2L445.2,263.9"/>
<path d="M95,238L137.8,238.3C153.5,238.4 169.2,238.7 184.9,239.3S216.3,240.5 231.9,241.3L445.2,251.5"/>
<path d="M95,245.8L137.8,245.2C153.5,244.9 169.2,244.6 184.9,244.2S216.3,243.3 231.9,242.8L445.2,235.9"/>
<path d="M95,233.5L137.8,232.3C153.5,231.8 169.2,231.9 184.9,232.5S216.3,234.3 231.9,235.8L445.2,255.9"/>
<path d="M95,240.7L137.8,239C153.5,238.3 169.2,237.8 184.9,237.4S216.3,236.7 231.9,236.7L445.2,235.5"/>
<path d="M95,232.9L137.8,233C153.5,233.1 169.2,233.3 184.9,233.7S216.3,234.5 231.9,235.1L445.2,243.1"/>
<path d="M95,249L445.2,272.9"/>
<path d="M95,243.8L137.8,247C153.5,248.1 169.2,249.2 184.9,250.2S216.3,252 231.9,252.7L445.2,262.1"/>
<path d="M95,243.8L137.8,243.3C153.5,243.1 169.2,242.9 184.9,242.6S216.3,242.2 231.9,242L445.2,238.9"/>
<path d="M95,231.8L137.8,230C153.5,229.4 169.2,228.9 184.9,228.5S216.3,228 231.9,228L445.2,227.7"/>
<path d="M95,239.7L137.8,239.1C153.5,238.9 169.2,238.7 184.9,238.6S216.3,238.4 231.9,238.4L445.2,238.2"/>
<path d="M95,234.9L137.8,231.3C153.5,230 169.2,229 184.9,228.4S216.3,227.5 231.9,227.6L445.2,229.8"/>
<path d="M95,235.4L137.8,235.5C153.5,235.6 169.2,235.8 184.9,236.1S216.3,236.7 231.9,237.2L445.2,243.7"/>
<path d="M95,245.4L445.2,227.6"/>
<path d="M95,240L137.8,238.9C153.5,238.6 169.2,238.2 184.9,238S216.3,237.5 231.9,237.4L445.2,235.9"/>
<path d="M95,242.7L137.8,246.4C153.5,247.7 169.2,249 184.9,249.9S216.3,251.5 231.9,251.9L445.2,256.5"/>
<path d="M95,243.5L137.8,241.8C153.5,241.1 169.2,240.5 184.9,239.9S216.3,238.8 231.9,238.3L445.2,232.1"/>
<path d="M95,248.7L137.8,250.8C153.5,251.6 169.2,252 184.9,252S216.3,251.4 231.9,250.6L445.2,238.8"/>
<path d="M95,246.3L137.8,247.6C153.5,248.1 169.2,248.5 184.9,248.8S216.3,249.3 231.9,249.5L445.2,251.1"/>
<path d="M95,234.6L137.8,233.7C153.5,233.4 169.2,233.4 184.9,233.6S216.3,234.5 231.9,235.2L445.2,245.9"/>
<path d="M95,242.3L137.8,245.1C153.5,246.1 169.2,247.1 184.9,248.1S216.3,249.9 231.9,250.7L445.2,261.7"/>
<path d="M95,234.8L137.8,234.7C153.5,234.6 169.2,234.6 184.9,234.8S216.3,235.1 231.9,235.5L445.2,239.7"/>
<path d="M95,230.8L137.8,226.3C153.5,224.6 169.2,223.5 184.9,223.1S216.3,223 231.9,223.9L445.2,236.2"/>
<path d="M95,231.7L137.8,228.2C153.5,226.9 169.2,225.9 184.9,225.1S216.3,223.9 231.9,223.7L445.2,221.1"/>
<path d="M95,245.8L445.2,251.1"/>
<path d="M95,246.1L137.8,245.7C153.5,245.6 169.2,245.4 184.9,245.1S216.3,244.5 231.9,244.1L445.2,239"/>
<path d="M95,246.1L445.2,268.7"/>
<path d="M95,234.8L445.2,251.2"/>
<path d="M95,239.5L137.8,237.7C153.5,237.1 169.2,236.5 184.9,236S216.3,235 231.9,234.6L445.2,229.8"/>
<path d="M95,238.5L137.8,238.4C153.5,238.3 169.2,238.4 184.9,238.5S216.3,238.8 231.9,239L445.2,242.6"/>
<path d="M95,245.3L137.8,248.1C153.5,249.1 169.2,250 184.9,250.7S216.3,251.9 231.9,252.3L445.2,257"/>
<path d="M95,244.6L137.8,244C153.5,243.8 169.2,243.6 184.9,243.3S216.3,242.7 231.9,242.4L445.2,238.2"/>
<path d="M95,245.1L137.8,243.8C153.5,243.3 169.2,242.8 184.9,242.3S216.3,241.3 231.9,240.8L445.2,234.1"/>
<path d="M95,236.8L137.8,231.6C153.5,229.7 169.2,228.1 184.9,227.1S216.3,225.6 231.9,225.7L445.2,226.7"/>
<path d="M95,250.8L445.2,253.6"/>
<path d="M95,240L137.8,238.2C153.5,237.5 169.2,237 184.9,236.8S216.3,236.5 231.9,236.7L445.2,239.6"/>
<path d="M95,241.5L137.8,238C153.5,236.7 169.2,235.4 184.9,234.1S216.3,231.7 231.9,230.5L445.2,215"/>
<path d="M95,246.3L137.8,244.7C153.5,244.1 169.2,243.4 184.9,242.8S216.3,241.4 231.9,240.7L445.2,231.7"/>
<path d="M95,246.9L137.8,248.1C153.5,248.6 169.2,248.7 184.9,248.5S216.3,247.6 231.9,246.7L445.2,234.9"/>
<path d="M95,243.8L137.8,249.1C153.5,251 169.2,252.1 184.9,252S216.3,250.5 231.9,248.4L445.2,219.5"/>
<path d="M95,240.7L137.8,244.1C153.5,245.4 169.2,246.6 184.9,247.8S216.3,250.1 231.9,251.1L445.2,265.2"/>
<path d="M95,240.2L137.8,241.7C153.5,242.2 169.2,242.7 184.9,243.2S216.3,244.2 231.9,244.7L445.2,251.1"/>
<path d="M95,242.4L137.8,243.6C153.5,244 169.2,244.3 184.9,244.7S216.3,245.3 231.9,245.5L445.2,248.7"/>
<path d="M95,246.4L137.8,247.9C153.5,248.4 169.2,248.8 184.9,248.9S216.3,249 231.9,248.7L445.2,245.1"/>
<path d="M95,244.9L137.8,243.7C153.5,243.3 169.2,242.8 184.9,242.3S216.3,241.4 231.9,240.9L445.2,234.3"/>
<path d="M95,240.6L137.8,243.1C153.5,244 169.2,244.9 184.9,245.7S216.3,247.4 231.9,248.1L445.2,258.2"/>
<path d="M95,246.7L137.8,250.6C153.5,252 169.2,253.3 184.9,254.5S216.3,256.7 231.9,257.5L445.2,268.8"/>
<path d="M95,230.9L137.8,225.6C153.5,223.7 169.2,222.8 184.9,223.1S216.3,225 231.9,227.4L445.2,260.8"/>
<path d="M95,246.6L137.8,249.2C153.5,250.1 169.2,250.8 184.9,251.2S216.3,251.8 231.9,251.7L445.2,249.9"/>
<path d="M95,238.8L137.8,239.6C153.5,239.9 169.2,240.3 184.9,240.7S216.3,241.6 231.9,242.1L445.2,248.5"/>
<path d="M95,246.2L445.2,284.2"/>
<path d="M95,248.4L137.8,250.6C153.5,251.4 169.2,251.6 184.9,251.1S216.3,249.5 231.9,248L445.2,226.5"/>
<path d="M95,238.4L445.2,208.9"/>
<path d="M95,243.2L137.8,248.3C153.5,250.1 169.2,251.8 184.9,253.1S216.3,255.4 231.9,256L445.2,263.6"/>
<path d="M95,242.8L137.8,239.6C153.5,238.5 169.2,237.4 184.9,236.4S216.3,234.6 231.9,234L445.2,225.6"/>
<path d="M95,251.7L137.8,253.7C153.5,254.5 169.2,255 184.9,255.2S216.3,255.4 231.9,255.1L445.2,251"/>
<path d="M95,237.1L137.8,235.2C153.5,234.5 169.2,233.9 184.9,233.5S216.3,232.8 231.9,232.8L445.2,232"/>
<path d="M95,243.7L137.8,240C153.5,238.6 169.2,237.6 184.9,237.5S216.3,238 231.9,239.3L445.2,256"/>
<path d="M95,237.9L137.8,235.9C153.5,235.2 169.2,234.5 184.9,233.8S216.3,232.5 231.9,231.9L445.2,223.6"/>
<path d="M95,246L137.8,246.2C153.5,246.3 169.2,246.4 184.9,246.4S216.3,246.3 231.9,246.2L445.2,244.8"/>
<path d="M95,243.4L137.8,241.4C153.5,240.6 169.2,239.8 184.9,239.2S216.3,237.8 231.9,237.3L445.2,230"/>
<path d="M95,245.9L137.8,248.9C153.5,249.9 169.2,250.9 184.9,251.8S216.3,253.4 231.9,254L445.2,261.8"/>
<path d="M95,238.1L137.8,235.5C153.5,234.6 169.2,233.7 184.9,233S216.3,231.7 231.9,231.3L445.2,225.6"/>
<path d="M95,239.4L137.8,238.2C153.5,237.8 169.2,237.4 184.9,237.2S216.3,236.7 231.9,236.5L445.2,234.7"/>
<path d="M95,246.9L137.8,248.2C153.5,248.6 169.2,248.9 184.9,249S216.3,249.1 231.9,248.8L445.2,245.3"/>
<path d="M95,244.3L137.8,243.3C153.5,242.9 169.2,242.4 184.9,242S216.3,241.2 231.9,240.7L445.2,235.1"/>
<path d="M95,237.5L137.8,234.8C153.5,233.8 169.2,232.9 184.9,232.3S216.3,231.1 231.9,230.9L445.2,227.4"/>
<path d="M95,242.5L137.8,243.8C153.5,244.3 169.2,244.7 184.9,245S216.3,245.4 231.9,245.3L445.2,244.4"/>
<path d="M95,234L137.8,234.5C153.5,234.6 169.2,235.5 184.9,236.9S216.3,240.2 231.9,242.1L445.2,267.4"/>
<path d="M95,235.9L137.8,238C153.5,238.7 169.2,239.7 184.9,240.7S216.3,242.8 231.9,243.8L445.2,256.9"/>
<path d="M95,232.8L137.8,227.7C153.5,225.8 169.2,224.5 184.9,223.9S216.3,223.4 231.9,224.2L445.2,235.2"/>
<path d="M95,251L137.8,254.9C153.5,256.4 169.2,257.4 184.9,257.8S216.3,258.3 231.9,257.7L445.2,250"/>
<path d="M95,235.7L445.2,253.3"/>
<path d="M95,238.8L137.8,236.9C153.5,236.2 169.2,235.6 184.9,235S216.3,234 231.9,233.6L445.2,227.9"/>
<path d="M95,235.1L137.8,233.8C153.5,233.3 169.2,233 184.9,232.9S216.3,233 231.9,233.3L445.2,238.3"/>
<path d="M95,238.8L137.8,239.6C153.5,239.9 169.2,240.3 184.9,240.8S216.3,241.7 231.9,242.2L445.2,248.4"/>
<path d="M95,248.3L137.8,247.9C153.5,247.7 169.2,247.5 184.9,247.1S216.3,246.2 231.9,245.6L445.2,237.7"/>
<path d="M95,232.7L137.8,227.8C153.5,226 169.2,224.6 184.9,223.9S216.3,223.1 231.9,223.6L445.2,230.4"/>
<path d="M95,245.9L137.8,245.6C153.5,245.5 169.2,245.4 184.9,245.2S216.3,244.7 231.9,244.5L445.2,240.8"/>
<path d="M95,238.3L137.8,234.1C153.5,232.6 169.2,231.4 184.9,230.7S216.3,229.8 231.9,230.2L445.2,235.1"/>
<path d="M95,245.3L137.8,247.5C153.5,248.4 169.2,248.8 184.9,248.7S216.3,248.1 231.9,247.1L445.2,234.4"/>
<path d="M95,231.3L137.8,229.1C153.5,228.3 169.2,227.7 184.9,227.3S216.3,226.7 231.9,226.8L445.2,227.4"/>
<path d="M95,250.3L137.8,254C153.5,255.3 169.2,256.6 184.9,257.6S216.3,259.6 231.9,260.3L445.2,269.6"/>
<path d="M95,246.1L137.8,246.9C153.5,247.2 169.2,247.4 184.9,247.7S216.3,248.2 231.9,248.3L445.2,250.9"/>
<path d="M95,250.5L137.8,253.8C153.5,255.1 169.2,256.2 184.9,257.1S216.3,258.8 231.9,259.4L445.2,267.2"/>
<path d="M95,244.9L137.8,249.3C153.5,251 169.2,252.4 184.9,253.7S216.3,256 231.9,256.8L445.2,267"/>
<path d="M95,251.9L137.8,255.2C153.5,256.5 169.2,257.6 184.9,258.6S216.3,260.4 231.9,261.1L445.2,270.1"/>
<path d="M95,244.9L137.8,243.7C153.5,243.2 169.2,242.6 184.9,241.9S216.3,240.6 231.9,240.1L445.2,232.9"/>
<path d="M95,238.2L137.8,239C153.5,239.2 169.2,239.6 184.9,240S216.3,240.8 231.9,241.3L445.2,247.5"/>
<path d="M95,246.6L137.8,245.7C153.5,245.4 169.2,244.9 184.9,244.4S216.3,243.2 231.9,242.6L445.2,233.8"/>
<path d="M95,235.4L137.8,233.6C153.5,232.9 169.2,232.4 184.9,232.1S216.3,231.9 231.9,232.1L445.2,235.3"/>
<path d="M95,239.7L137.8,234.6C153.5,232.7 169.2,231.1 184.9,229.8S216.3,227.5 231.9,227L445.2,220.3"/>
<path d="M95,242.1L137.8,240.2C153.5,239.5 169.2,238.8 184.9,238.2S216.3,237 231.9,236.6L445.2,230.8"/>
<path d="M95,243.6L445.2,239.5"/>
<path d="M95,245.1L137.8,246.5C153.5,247 169.2,247.4 184.9,247.8S216.3,248.6 231.9,248.9L445.2,252.9"/>
<path d="M95,249.7L137.8,250.4C153.5,250.7 169.2,250.9 184.9,251S216.3,251.2 231.9,251.3L445.2,251.8"/>
<path d="M95,245.1L445.2,261"/>
<path d="M95,236.4L137.8,237.8C153.5,238.3 169.2,238.9 184.9,239.4S216.3,240.7 231.9,241.3L445.2,249.8"/>
<path d="M95,245.3L137.8,245.2C153.5,245.2 169.2,245.1 184.9,245.1S216.3,244.9 231.9,244.8L445.2,243.2"/>
<path d="M95,244.2L137.8,240.5C153.5,239.2 169.2,237.9 184.9,236.8S216.3,234.8 231.9,234.2L445.2,225.8"/>
<path d="M95,244.4L445.2,218"/>
<path d="M95,241.4L137.8,238.4C153.5,237.3 169.2,236.4 184.9,235.9S216.3,235.1 231.9,235.4L445.2,238.3"/>
<path d="M95,243L137.8,244.2C153.5,244.7 169.2,245.1 184.9,245.3S216.3,245.5 231.9,245.4L445.2,244.1"/>
<path d="M95,232.4L137.8,233C153.5,233.2 169.2,233.6 184.9,234.3S216.3,235.7 231.9,236.6L445.2,249.5"/>
<path d="M95,236.5L445.2,249.5"/>
<path d="M95,242.3L137.8,240.7C153.5,240.2 169.2,239.6 184.9,239.1S216.3,238.1 231.9,237.6L445.2,231.2"/>
<path d="M95,247.1L137.8,249.3C153.5,250.1 169.2,250.5 184.9,250.4S216.3,249.7 231.9,248.7L445.2,235.4"/>
<path d="M95,250.5L137.8,252.9C153.5,253.8 169.2,254.5 184.9,254.9S216.3,255.5 231.9,255.4L445.2,254.6"/>
<path d="M95,239.1L137.8,241.7C153.5,242.7 169.2,243.7 184.9,244.6S216.3,246.5 231.9,247.4L445.2,259.7"/>
<path d="M95,247.9L137.8,249.4C153.5,249.9 169.2,250.3 184.9,250.7S216.3,251.3 231.9,251.4L445.2,253.2"/>
<path d="M95,241.1L137.8,239.5C153.5,238.9 169.2,238.4 184.9,237.9S216.3,237.1 231.9,236.9L445.2,233.6"/>
<path d="M95,251.1L137.8,250.8C153.5,250.7 169.2,250.4 184.9,249.9S216.3,248.8 231.9,248L445.2,237.1"/>
<path d="M95,238.5L137.8,239.3C153.5,239.6 169.2,239.9 184.9,240.3S216.3,241.1 231.9,241.5L445.2,247.2"/>
<path d="M95,243.7L137.8,245.9C153.5,246.7 169.2,247.4 184.9,248.2S216.3,249.6 231.9,250.3L445.2,259.2"/>
<path d="M95,244.4L445.2,241.8"/>
<path d="M95,248.3L137.8,250C153.5,250.6 169.2,250.9 184.9,251S216.3,250.8 231.9,250.3L445.2,243.4"/>
<path d="M95,247.5L137.8,250.8C153.5,252.1 169.2,253 184.9,253.6S216.3,254.5 231.9,254.4L445.2,253.1"/>
<path d="M95,239.4L137.8,241.5C153.5,242.3 169.2,243 184.9,243.8S216.3,245.2 231.9,245.9L445.2,255.4"/>
<path d="M95,238.1L137.8,235.4C153.5,234.4 169.2,233.5 184.9,232.7S216.3,231.2 231.9,230.6L445.2,222.7"/>
<path d="M95,246.8L137.8,246C153.5,245.7 169.2,245.4 184.9,245.1S216.3,244.4 231.9,244L445.2,239.2"/>
<path d="M95,252.3L137.8,254.8C153.5,255.7 169.2,256 184.9,255.8S216.3,254.9 231.9,253.7L445.2,236.8"/>
<path d="M95,248.3L137.8,250.6C153.5,251.4 169.2,252.1 184.9,252.5S216.3,253 231.9,252.9L445.2,251.6"/>
<path d="M95,242.8L137.8,246.1C153.5,247.4 169.2,248.5 184.9,249.7S216.3,251.8 231.9,252.8L445.2,266"/>
<path d="M95,244.5L445.2,242.5"/>
<path d="M95,251.1L137.8,252.3C153.5,252.7 169.2,253 184.9,253.2S216.3,253.4 231.9,253.2L445.2,251.5"/>
<path d="M95,245.4L137.8,247C153.5,247.6 169.2,247.5 184.9,246.8S216.3,244.7 231.9,243.1L445.2,222.1"/>
<path d="M95,235.2L445.2,212"/>
<path d="M95,238.7L137.8,235.5C153.5,234.3 169.2,233.3 184.9,232.6S216.3,231.5 231.9,231.3L445.2,229.5"/>
<path d="M95,247.6L137.8,250.1C153.5,251.1 169.2,251.9 184.9,252.5S216.3,253.5 231.9,253.7L445.2,256.8"/>
<path d="M95,246.2L137.8,249.8C153.5,251 169.2,252.2 184.9,253.3S216.3,255.3 231.9,256L445.2,266.5"/>
<path d="M95,235.3L137.8,231.2C153.5,229.6 169.2,228.2 184.9,226.7S216.3,223.9 231.9,222.5L445.2,204.2"/>
<path d="M95,243.4L137.8,240.6C153.5,239.6 169.2,238.6 184.9,237.7S216.3,235.9 231.9,235.2L445.2,225.7"/>
<path d="M95,242.9L137.8,244.6C153.5,245.3 169.2,245.8 184.9,246.2S216.3,247 231.9,247.2L445.2,249.6"/>
<path d="M95,244.5L137.8,242.5C153.5,241.7 169.2,240.9 184.9,240.2S216.3,238.7 231.9,238.1L445.2,229.4"/>
<path d="M95,238.8L445.2,224.6"/>
<path d="M95,237.8L137.8,235.2C153.5,234.2 169.2,233.4 184.9,232.8S216.3,231.6 231.9,231.3L445.2,227.3"/>
<path d="M95,243.1L445.2,276.5"/>
<path d="M95,235.3L137.8,235.7C153.5,235.8 169.2,236.1 184.9,236.5S216.3,237.5 231.9,238.2L445.2,247.4"/>
<path d="M95,240.5L137.8,238.4C153.5,237.6 169.2,236.9 184.9,236.1S216.3,234.7 231.9,234L445.2,224.8"/>
<path d="M95,235.1L137.8,234.7C153.5,234.5 169.2,234.5 184.9,234.8S216.3,235.5 231.9,236.1L445.2,244.7"/>
<path d="M95,242.5L137.8,242.1C153.5,242 169.2,241.9 184.9,241.7S216.3,241.4 231.9,241.3L445.2,239.6"/>
<path d="M95,241.9L137.8,238.9C153.5,237.8 169.2,236.7 184.9,235.7S216.3,233.7 231.9,232.9L445.2,221"/>
<path d="M95,248L445.2,282.2"/>
<path d="M95,233.4L137.8,231.2C153.5,230.4 169.2,229.7 184.9,229.1S216.3,228.1 231.9,227.7L445.2,223.1"/>
<path d="M95,245.2L137.8,248.1C153.5,249.2 169.2,250.2 184.9,251.1S216.3,252.8 231.9,253.6L445.2,263.4"/>
<path d="M95,236.9L137.8,237.2C153.5,237.3 169.2,237.4 184.9,237.6S216.3,237.9 231.9,238L445.2,240.2"/>
<path d="M95,246.1L137.8,247.4C153.5,247.9 169.2,248.4 184.9,248.7S216.3,249.3 231.9,249.5L445.2,251.7"/>
<path d="M95,240.3L137.8,239.4C153.5,239.1 169.2,238.9 184.9,238.7S216.3,238.6 231.9,238.6L445.2,239.5"/>
<path d="M95,244.3L137.8,248.3C153.5,249.8 169.2,251.1 184.9,252.2S216.3,254.3 231.9,254.9L445.2,264"/>
<path d="M95,245.7L137.8,243.7C153.5,242.9 169.2,242.2 184.9,241.4S216.3,240 231.9,239.2L445.2,229.2"/>
<path d="M95,240.5L137.8,240.5C153.5,240.5 169.2,240.5 184.9,240.6S216.3,240.7 231.9,240.8L445.2,242"/>
<path d="M95,240.3L137.8,241.4C153.5,241.8 169.2,242.2 184.9,242.6S216.3,243.4 231.9,243.8L445.2,248.8"/>
<path d="M95,242.9L137.8,245.8C153.5,246.8 169.2,247.8 184.9,248.8S216.3,250.7 231.9,251.5L445.2,262.7"/>
<path d="M95,247.3L137.8,248.4C153.5,248.8 169.2,249 184.9,248.8S216.3,248.3 231.9,247.6L445.2,238.9"/>
<path d="M95,233.8L137.8,230.5C153.5,229.3 169.2,228.3 184.9,227.7S216.3,226.6 231.9,226.5L445.2,225.6"/>
<path d="M95,247.7L137.8,247.9C153.5,248 169.2,247.6 184.9,246.8S216.3,244.7 231.9,243.4L445.2,224.9"/>
<path d="M95,246.5L137.8,247.7C153.5,248.1 169.2,248.5 184.9,248.6S216.3,248.9 231.9,248.8L445.2,247.5"/>
<path d="M95,243.7L137.8,241.7C153.5,240.9 169.2,240.2 184.9,239.5S216.3,238.2 231.9,237.7L445.2,230.7"/>
<path d="M95,238.9L137.8,239C153.5,239 169.2,239 184.9,239.1S216.3,239.3 231.9,239.4L445.2,241"/>
<path d="M95,248.3L137.8,246.9C153.5,246.4 169.2,245.9 184.9,245.2S216.3,244 231.9,243.3L445.2,234"/>
<path d="M95,242.4L445.2,262.9"/>
<path d="M95,249.3L137.8,248.4C153.5,248.1 169.2,247.7 184.9,247.2S216.3,246 231.9,245.3L445.2,236"/>
<path d="M95,240.7L137.8,244.8C153.5,246.3 169.2,247.8 184.9,249.1S216.3,251.5 231.9,252.4L445.2,264.7"/>
<path d="M95,231.1L137.8,226.2C153.5,224.5 169.2,223.2 184.9,222.6S216.3,222 231.9,222.7L445.2,231.8"/>
<path d="M95,240.2L137.8,236.8C153.5,235.6 169.2,234.6 184.9,233.9S216.3,233.1 231.9,233.2L445.2,235.6"/>
<path d="M95,244.7L137.8,246.8C153.5,247.6 169.2,248.3 184.9,248.9S216.3,250 231.9,250.4L445.2,255.4"/>
<path d="M95,250.5L137.8,252.4C153.5,253.1 169.2,253.1 184.9,252.5S216.3,250.5 231.9,248.8L445.2,224.8"/>
<path d="M95,242.3L137.8,242.6C153.5,242.6 169.2,242.7 184.9,242.8S216.3,242.9 231.9,242.9L445.2,243.2"/>
<path d="M95,244.8L137.8,246.1C153.5,246.6 169.2,246.9 184.9,247.2S216.3,247.5 231.9,247.5L445.2,247.6"/>
<path d="M95,251.3L137.8,253.5C153.5,254.3 169.2,254.7 184.9,254.7S216.3,254.4 231.9,253.6L445.2,243.5"/>
<path d="M95,247.2L137.8,250.4C153.5,251.6 169.2,252.5 184.9,253.2S216.3,254.3 231.9,254.4L445.2,256.1"/>
<path d="M95,231.9L137.8,227.7C153.5,226.2 169.2,225.1 184.9,224.3S216.3,223.4 231.9,223.5L445.2,226.1"/>
<path d="M95,238.6L137.8,234.2C153.5,232.5 169.2,231.3 184.9,230.6S216.3,229.6 231.9,230L445.2,234.8"/>
<path d="M95,248.7L137.8,252.2C153.5,253.5 169.2,254.7 184.9,255.9S216.3,258.1 231.9,259.1L445.2,272.6"/>
<path d="M95,243.9L137.8,241.6C153.5,240.7 169.2,239.8 184.9,239S216.3,237.4 231.9,236.7L445.2,227.3"/>
<path d="M95,238.7L137.8,237.3C153.5,236.9 169.2,236.4 184.9,236S216.3,235.3 231.9,235L445.2,231.3"/>
<path d="M95,242.8L137.8,246.3C153.5,247.6 169.2,248.8 184.9,249.7S216.3,251.2 231.9,251.4L445.2,255.3"/>
<path d="M95,238.8L137.8,236C153.5,235 169.2,234.4 184.9,234.4S216.3,235.1 231.9,236.1L445.2,250.6"/>
<path d="M95,246.6L137.8,246.8C153.5,246.9 169.2,246.8 184.9,246.8S216.3,246.5 231.9,246.3L445.2,243.5"/>
<path d="M95,241.5L137.8,243.3C153.5,244 169.2,244.6 184.9,245.2S216.3,246.3 231.9,246.8L445.2,253.2"/>
<path d="M95,243.1L137.8,242.4C153.5,242.2 169.2,241.9 184.9,241.7S216.3,241.2 231.9,240.9L445.2,237.5"/>
<path d="M95,232.6L137.8,231.1C153.5,230.6 169.2,230.4 184.9,230.5S216.3,231 231.9,231.7L445.2,241.3"/>
<path d="M95,239.8L137.8,240.8C153.5,241.1 169.2,241.5 184.9,241.8S216.3,242.5 231.9,242.9L445.2,247.4"/>
<path d="M95,236.6L137.8,235.2C153.5,234.7 169.2,234.4 184.9,234.2S216.3,233.9 231.9,233.9L445.2,235"/>
<path d="M95,239.2L137.8,237C153.5,236.2 169.2,235.5 184.9,235S216.3,234.1 231.9,233.9L445.2,231.3"/>
<path d="M95,233.6L137.8,231.5C153.5,230.8 169.2,230.2 184.9,229.7S216.3,229 231.9,228.9L445.2,227.3"/>
<path d="M95,242.4L137.8,243.7C153.5,244.2 169.2,244.6 184.9,245S216.3,245.8 231.9,246.1L445.2,250.5"/>
<path d="M95,241.1L137.8,244.8C153.5,246.1 169.2,247.4 184.9,248.6S216.3,250.8 231.9,251.7L445.2,263.7"/>
<path d="M95,239.6L137.8,237.3C153.5,236.5 169.2,235.7 184.9,235.1S216.3,234 231.9,233.6L445.2,229.1"/>
<path d="M95,245.4L137.8,243.6C153.5,243 169.2,242.3 184.9,241.6S216.3,240.3 231.9,239.7L445.2,230.8"/>
<path d="M95,249.2L445.2,250.5"/>
<path d="M95,239.5L137.8,238.1C153.5,237.6 169.2,237.2 184.9,236.9S216.3,236.5 231.9,236.6L445.2,237.1"/>
<path d="M95,250.8L137.8,252.4C153.5,253 169.2,253.4 184.9,253.7S216.3,254 231.9,253.9L445.2,252.1"/>
<path d="M95,236.9L445.2,256.5"/>
<path d="M95,233.6L137.8,230.1C153.5,228.7 169.2,228.1 184.9,228.2S216.3,229.1 231.9,230.5L445.2,250.4"/>
<path d="M95,236.1L137.8,234.5C153.5,233.9 169.2,233.4 184.9,233.1S216.3,232.5 231.9,232.5L445.2,231.7"/>
<path d="M95,243.4L137.8,247.2C153.5,248.6 169.2,249.7 184.9,250.2S216.3,250.6 231.9,250L445.2,241.9"/>
<path d="M95,230.9L445.2,219.9"/>
<path d="M95,241.2L137.8,243.1C153.5,243.8 169.2,244.5 184.9,245.2S216.3,246.4 231.9,247L445.2,254.8"/>
<path d="M95,239.6L137.8,236.2C153.5,235 169.2,233.7 184.9,232.6S216.3,230.4 231.9,229.5L445.2,216.8"/>
<path d="M95,238.6L137.8,234.7C153.5,233.2 169.2,231.8 184.9,230.5S216.3,227.8 231.9,226.5L445.2,209.3"/>
<path d="M95,239.9L137.8,241.9C153.5,242.6 169.2,243.4 184.9,244S216.3,245.1 231.9,245.4L445.2,250.2"/>
<path d="M95,234.4L137.8,230.3C153.5,228.8 169.2,228.2 184.9,228.7S216.3,230.5 231.9,232.7L445.2,261.9"/>
<path d="M95,237.1L137.8,237.8C153.5,238.1 169.2,238.4 184.9,238.8S216.3,239.6 231.9,240L445.2,245.8"/>
<path d="M95,241.4L137.8,237.6C153.5,236.2 169.2,234.8 184.9,233.5S216.3,231.1 231.9,230.1L445.2,216.1"/>
<path d="M95,236.7L137.8,237.9C153.5,238.4 169.2,239 184.9,239.6S216.3,240.8 231.9,241.5L445.2,250.4"/>
<path d="M95,242.3L137.8,247.3C153.5,249.2 169.2,251 184.9,252.6S216.3,255.7 231.9,256.9L445.2,274.1"/>
<path d="M95,250.6L137.8,251.1C153.5,251.3 169.2,251.1 184.9,250.7S216.3,249.5 231.9,248.6L445.2,235.7"/>
<path d="M95,250.2L137.8,249.8C153.5,249.7 169.2,249.3 184.9,248.8S216.3,247.4 231.9,246.5L445.2,234.3"/>
<path d="M95,240.9L137.8,237.7C153.5,236.6 169.2,235.4 184.9,234.4S216.3,232.3 231.9,231.4L445.2,219.1"/>
<path d="M95,237.8L137.8,234.7C153.5,233.5 169.2,232.6 184.9,232.1S216.3,231.5 231.9,231.8L445.2,235.8"/>
<path d="M95,244.4L445.2,252.8"/>
<path d="M95,240.3L137.8,238.5C153.5,237.8 169.2,237.3 184.9,237S216.3,236.6 231.9,236.8L445.2,239.3"/>
<path d="M95,249L445.2,267.4"/>
<path d="M95,240.6L137.8,237.6C153.5,236.5 169.2,235.6 184.9,234.8S216.3,233.6 231.9,233.4L445.2,230.4"/>
<path d="M95,243.9L137.8,240.6C153.5,239.4 169.2,238.2 184.9,237.1S216.3,234.9 231.9,234L445.2,221.3"/>
<path d="M95,239.9L445.2,211"/>
<path d="M95,233.4L137.8,233.2C153.5,233.1 169.2,233.1 184.9,233.3S216.3,233.8 231.9,234.2L445.2,240"/>
<path d="M95,246.4L137.8,247C153.5,247.2 169.2,247.3 184.9,247.2S216.3,247 231.9,246.6L445.2,241.9"/>
<path d="M95,234.7L137.8,230.6C153.5,229.1 169.2,227.9 184.9,227.2S216.3,226.1 231.9,226.2L445.2,228.2"/>
<path d="M95,234L445.2,224.4"/>
<path d="M95,240.9L137.8,242C153.5,242.4 169.2,242.8 184.9,243.1S216.3,243.8 231.9,244.1L445.2,247.6"/>
<path d="M95,240L137.8,242.9C153.5,244 169.2,245 184.9,246S216.3,247.9 231.9,248.8L445.2,259.9"/>
<path d="M95,242L445.2,277.6"/>
<path d="M95,232.5L137.8,230.3C153.5,229.5 169.2,229.1 184.9,229.1S216.3,229.7 231.9,230.6L445.2,242.9"/>
<path d="M95,250.3L137.8,249.8C153.5,249.6 169.2,249.4 184.9,249.1S216.3,248.4 231.9,248L445.2,242.4"/>
<path d="M95,240.5L137.8,242.5C153.5,243.2 169.2,243.8 184.9,244.4S216.3,245.6 231.9,246L445.2,251.4"/>
<path d="M95,242.7L445.2,229.8"/>
<path d="M95,248.8L137.8,252.7C153.5,254.1 169.2,255.5 184.9,256.7S216.3,259.2 231.9,260.3L445.2,275.1"/>
<path d="M95,238.9L137.8,236.1C153.5,235.1 169.2,234.1 184.9,233.1S216.3,231.4 231.9,230.6L445.2,219.7"/>
<path d="M95,251L137.8,252.7C153.5,253.3 169.2,253.7 184.9,253.8S216.3,253.9 231.9,253.6L445.2,249.1"/>
<path d="M95,236.1L137.8,236.3C153.5,236.3 169.2,236.4 184.9,236.6S216.3,236.9 231.9,237.1L445.2,239.8"/>
<path d="M95,242.4L445.2,271.5"/>
<path d="M95,238.1L137.8,238.5C153.5,238.6 169.2,238.8 184.9,239S216.3,239.5 231.9,239.8L445.2,243.4"/>
<path d="M95,241.5L137.8,239.3C153.5,238.5 169.2,237.7 184.9,237S216.3,235.5 231.9,234.9L445.2,225.8"/>
<path d="M95,233.9L137.8,232.7C153.5,232.2 169.2,231.9 184.9,231.7S216.3,231.6 231.9,231.7L445.2,233.6"/>
<path d="M95,238.5L137.8,235.5C153.5,234.4 169.2,233.8 184.9,233.9S216.3,234.8 231.9,236.1L445.2,253.5"/>
<path d="M95,251.2L445.2,249.6"/>
<path d="M95,245.5L137.8,249.4C153.5,250.8 169.2,251.7 184.9,251.9S216.3,251.6 231.9,250.5L445.2,235.2"/>
<path d="M95,234.6L137.8,234.7C153.5,234.8 169.2,235 184.9,235.3S216.3,236.1 231.9,236.7L445.2,244.5"/>
<path d="M95,246.3L137.8,250.6C153.5,252.2 169.2,253.5 184.9,254.3S216.3,255.6 231.9,255.5L445.2,254.9"/>
<path d="M95,239.2L137.8,239.1C153.5,239 169.2,239 184.9,239S216.3,239 231.9,239L445.2,239.4"/>
<path d="M95,234.7L137.8,233.9C153.5,233.6 169.2,233.5 184.9,233.6S216.3,233.9 231.9,234.4L445.2,240.6"/>
<path d="M95,238.6L137.8,242.1C153.5,243.4 169.2,244.7 184.9,245.9S216.3,248.2 231.9,249.1L445.2,261.8"/>
<path d="M95,233.3L137.8,229.4C153.5,228 169.2,226.9 184.9,226.3S216.3,225.6 231.9,226L445.2,230.8"/>
<path d="M95,252.1L137.8,251.6C153.5,251.4 169.2,251.2 184.9,250.9S216.3,250.2 231.9,249.8L445.2,244.1"/>
<path d="M95,248.3L137.8,246.9C153.5,246.4 169.2,245.6 184.9,244.7S216.3,242.9 231.9,241.9L445.2,228.1"/>
<path d="M95,239.6L137.8,239.4C153.5,239.3 169.2,239.2 184.9,239.2S216.3,239.2 231.9,239.3L445.2,239.8"/>
<path d="M95,248.7L137.8,250.5C153.5,251.2 169.2,251.6 184.9,251.9S216.3,252 231.9,251.8L445.2,248"/>
<path d="M95,233.6L137.8,230.2C153.5,229 169.2,227.9 184.9,227S216.3,225.4 231.9,224.9L445.2,218.6"/>
<path d="M95,237.8L137.8,238.3C153.5,238.4 169.2,238.6 184.9,238.8S216.3,239.4 231.9,239.7L445.2,243.9"/>
<path d="M95,246.5L137.8,244.7C153.5,244 169.2,243.3 184.9,242.5S216.3,240.9 231.9,240.2L445.2,229.9"/>
<path d="M95,240.2L137.8,242.2C153.5,242.9 169.2,243.6 184.9,244.3S216.3,245.6 231.9,246.1L445.2,253.2"/>
<path d="M95,242.5L137.8,244C153.5,244.6 169.2,245.1 184.9,245.5S216.3,246.2 231.9,246.4L445.2,249"/>
<path d="M95,236.5L137.8,234C153.5,233.1 169.2,232.3 184.9,231.7S216.3,230.6 231.9,230.3L445.2,226.4"/>
<path d="M95,245.9L137.8,244.3C153.5,243.7 169.2,243 184.9,242.4S216.3,241.1 231.9,240.5L445.2,231.9"/>
<path d="M95,238.2L137.8,240.5C153.5,241.4 169.2,242.2 184.9,243.1S216.3,244.7 231.9,245.4L445.2,255"/>
<path d="M95,239.7L137.8,236.4C153.5,235.2 169.2,234.1 184.9,233.1S216.3,231.3 231.9,230.6L445.2,221.4"/>
<path d="M95,242.6L137.8,244.6C153.5,245.4 169.2,246 184.9,246.6S216.3,247.6 231.9,247.9L445.2,252"/>
<path d="M95,246.4L137.8,247.7C153.5,248.2 169.2,248.6 184.9,248.8S216.3,249.2 231.9,249.2L445.2,249.1"/>
<path d="M95,233.6L137.8,233.7C153.5,233.7 169.2,233.8 184.9,234S216.3,234.4 231.9,234.7L445.2,238.7"/>
<path d="M95,247.1L445.2,257.9"/>
<path d="M95,242.3L137.8,238.9C153.5,237.6 169.2,236.4 184.9,235.3S216.3,233.1 231.9,232.2L445.2,219.9"/>
<path d="M95,233.3L137.8,232.1C153.5,231.6 169.2,231.4 184.9,231.3S216.3,231.5 231.9,231.8L445.2,236.7"/>
<path d="M95,248.1L137.8,247.8C153.5,247.7 169.2,247.4 184.9,246.9S216.3,245.7 231.9,244.9L445.2,234.1"/>
<path d="M95,240.9L137.8,242.9C153.5,243.6 169.2,244.3 184.9,244.8S216.3,245.8 231.9,246L445.2,248.7"/>
<path d="M95,242.8L137.8,243C153.5,243 169.2,243 184.9,243S216.3,243 231.9,242.9L445.2,242.3"/>
<path d="M95,235.6L137.8,236.2C153.5,236.4 169.2,236.8 184.9,237.4S216.3,238.6 231.9,239.4L445.2,249.8"/>
<path d="M95,250.2L137.8,253.9C153.5,255.3 169.2,256.5 184.9,257.7S216.3,259.8 231.9,260.7L445.2,272.3"/>
<path d="M95,245L137.8,246.5C153.5,247 169.2,247.4 184.9,247.7S216.3,248 231.9,247.9L445.2,246.7"/>
<path d="M95,244L137.8,244.1C153.5,244.1 169.2,244.1 184.9,244.1S216.3,244.1 231.9,244.1L445.2,244"/>
<path d="M95,243L445.2,247.8"/>
<path d="M95,235.6L137.8,230.9C153.5,229.2 169.2,227.7 184.9,226.5S216.3,224.4 231.9,223.7L445.2,215.3"/>
<path d="M95,242.7L137.8,246.6C153.5,248 169.2,249.4 184.9,250.7S216.3,253.3 231.9,254.5L445.2,270.7"/>
<path d="M95,247.5L137.8,247.7C153.5,247.7 169.2,247.7 184.9,247.6S216.3,247.3 231.9,247.1L445.2,243.6"/>
<path d="M95,246.6L445.2,254.4"/>
<path d="M95,240.3L137.8,241.5C153.5,242 169.2,242.4 184.9,242.9S216.3,243.6 231.9,243.9L445.2,247.8"/>
<path d="M95,234.9L137.8,236.4C153.5,237 169.2,237.7 184.9,238.5S216.3,240.2 231.9,241.1L445.2,253.5"/>
<path d="M95,243.4L137.8,242.4C153.5,242 169.2,241.6 184.9,241.3S216.3,240.5 231.9,240.2L445.2,235.8"/>
<path d="M95,236.7L137.8,237.5C153.5,237.7 169.2,238.1 184.9,238.5S216.3,239.3 231.9,239.7L445.2,246.1"/>
<path d="M95,232.6L137.8,230.8C153.5,230.2 169.2,229.6 184.9,229.3S216.3,228.7 231.9,228.6L445.2,228"/>
<path d="M95,247.4L137.8,246.1C153.5,245.6 169.2,245 184.9,244.4S216.3,243 231.9,242.3L445.2,232.3"/>
<path d="M95,246.8L445.2,251.8"/>
<path d="M95,237.6L137.8,233.9C153.5,232.5 169.2,231.4 184.9,230.5S216.3,229.2 231.9,229L445.2,226.7"/>
<path d="M95,250.5L137.8,251.5C153.5,251.8 169.2,251.9 184.9,251.7S216.3,251 231.9,250.2L445.2,240"/>
<path d="M95,239.3L137.8,240.4C153.5,240.7 169.2,241.1 184.9,241.6S216.3,242.4 231.9,242.8L445.2,248.2"/>
<path d="M95,235.5L137.8,232.5C153.5,231.4 169.2,230.3 184.9,229.4S216.3,227.5 231.9,226.8L445.2,216.3"/>
<path d="M95,239.1L137.8,242.8C153.5,244.2 169.2,245.5 184.9,246.8S216.3,249.3 231.9,250.5L445.2,265.5"/>
<path d="M95,247.2L137.8,247.1C153.5,247 169.2,246.8 184.9,246.5S216.3,245.8 231.9,245.4L445.2,238.8"/>
<path d="M95,233L137.8,230.2C153.5,229.2 169.2,228.2 184.9,227.5S216.3,226.1 231.9,225.7L445.2,219.6"/>
<path d="M95,249.7L137.8,250.1C153.5,250.2 169.2,250.2 184.9,250S216.3,249.5 231.9,249.1L445.2,242.8"/>
<path d="M95,238.3L137.8,235.7C153.5,234.8 169.2,234.2 184.9,234.2S216.3,234.7 231.9,235.7L445.2,248.4"/>
<path d="M95,251.9L137.8,252.7C153.5,253 169.2,252.8 184.9,252.2S216.3,250.5 231.9,249.1L445.2,230.1"/>
<path d="M95,239.2L137.8,237.8C153.5,237.2 169.2,236.9 184.9,236.7S216.3,236.5 231.9,236.8L445.2,239.7"/>
<path d="M95,240.4L137.8,240.7C153.5,240.9 169.2,241 184.9,241.1S216.3,241.4 231.9,241.6L445.2,243.4"/>
<path d="M95,238.6L137.8,240.7C153.5,241.5 169.2,242.2 184.9,243S216.3,244.5 231.9,245.2L445.2,254.7"/>
<path d="M95,245L137.8,243.8C153.5,243.4 169.2,243 184.9,242.5S216.3,241.6 231.9,241.2L445.2,235.1"/>
<path d="M95,236.3L137.8,237.3C153.5,237.6 169.2,238 184.9,238.5S216.3,239.5 231.9,240L445.2,247"/>
<path d="M95,251.2L137.8,253.5C153.5,254.4 169.2,255.1 184.9,255.5S216.3,256.2 231.9,256.3L445.2,256.9"/>
<path d="M95,238.1L137.8,240C153.5,240.7 169.2,241.5 184.9,242.2S216.3,243.6 231.9,244.3L445.2,253.8"/>
<path d="M95,249.7L445.2,259.1"/>
<path d="M95,232.1L137.8,229.2C153.5,228.1 169.2,227.3 184.9,226.7S216.3,225.9 231.9,225.9L445.2,225.9"/>
<path d="M95,238L137.8,241C153.5,242.1 169.2,243.2 184.9,244.2S216.3,246.3 231.9,247.2L445.2,259.3"/>
<path d="M95,249.9L137.8,249.8C153.5,249.8 169.2,249.7 184.9,249.5S216.3,249.1 231.9,248.9L445.2,245.1"/>
<path d="M95,244.6L137.8,249.4C153.5,251.2 169.2,252.1 184.9,251.9S216.3,250.4 231.9,248.4L445.2,220.9"/>
<path d="M95,252L137.8,254.2C153.5,255 169.2,255.3 184.9,255S216.3,253.9 231.9,252.6L445.2,234.6"/>
<path d="M95,233.7L137.8,233.6C153.5,233.5 169.2,234 184.9,234.8S216.3,237 231.9,238.4L445.2,258.4"/>
<path d="M95,243.9L445.2,254.6"/>
<path d="M95,237L137.8,235.7C153.5,235.3 169.2,235.2 184.9,235.5S216.3,236.5 231.9,237.5L445.2,250.8"/>
<path d="M95,243.3L137.8,245.4C153.5,246.2 169.2,247 184.9,247.7S216.3,249.1 231.9,249.8L445.2,258.5"/>
<path d="M95,242.8L445.2,257.8"/>
<path d="M95,243.5L137.8,245.7C153.5,246.5 169.2,247.2 184.9,247.9S216.3,249 231.9,249.4L445.2,255.1"/>
<path d="M95,240.1L137.8,239.4C153.5,239.2 169.2,239 184.9,238.8S216.3,238.5 231.9,238.5L445.2,237.6"/>
<path d="M95,236.4L137.8,231.6C153.5,229.8 169.2,228.1 184.9,226.6S216.3,223.6 231.9,222.4L445.2,205.5"/>
<path d="M95,231.1L137.8,229C153.5,228.2 169.2,227.8 184.9,227.7S216.3,228 231.9,228.6L445.2,237.7"/>
<path d="M95,241.8L445.2,238.6"/>
<path d="M95,235.8L137.8,234.6C153.5,234.2 169.2,233.9 184.9,233.8S216.3,233.7 231.9,233.9L445.2,236.4"/>
<path d="M95,246.3L137.8,249.5C153.5,250.7 169.2,251.3 184.9,251.3S216.3,250.5 231.9,249.3L445.2,232.5"/>
<path d="M95,233.6L137.8,234.9C153.5,235.4 169.2,236.2 184.9,237.2S216.3,239.4 231.9,240.7L445.2,258.2"/>
<path d="M95,242.3L137.8,244.8C153.5,245.8 169.2,246.7 184.9,247.5S216.3,249.2 231.9,250L445.2,260.2"/>
<path d="M95,242.2L137.8,242.1C153.5,242.1 169.2,242 184.9,242S216.3,241.9 231.9,241.8L445.2,241.1"/>
<path d="M95,241L137.8,244.6C153.5,245.9 169.2,247.1 184.9,248.1S216.3,249.7 231.9,250.1L445.2,255"/>
<path d="M95,236.6L137.8,231.7C153.5,229.9 169.2,228.4 184.9,227.1S216.3,224.9 231.9,224.3L445.2,216.2"/>
<path d="M95,243.5L137.8,245.3C153.5,246 169.2,246.6 184.9,247.1S216.3,248.1 231.9,248.4L445.2,253.1"/>
<path d="M95,236.8L137.8,233.4C153.5,232.2 169.2,231.1 184.9,230.1S216.3,228.3 231.9,227.7L445.2,219.6"/>
<path d="M95,249.4L137.8,250.4C153.5,250.8 169.2,250.9 184.9,250.7S216.3,250.1 231.9,249.4L445.2,240"/>
<path d="M95,247.6L137.8,247.5C153.5,247.4 169.2,246.9 184.9,246S216.3,244 231.9,242.7L445.2,225.2"/>
<path d="M95,244.4L137.8,247.9C153.5,249.2 169.2,250.3 184.9,250.9S216.3,251.7 231.9,251.5L445.2,248.4"/>
<path d="M95,240.5L137.8,241.5C153.5,241.8 169.2,242.2 184.9,242.5S216.3,243.1 231.9,243.3L445.2,246"/>
<path d="M95,247.7L445.2,273.9"/>
<path d="M95,247.8L137.8,252.1C153.5,253.6 169.2,254.6 184.9,254.7S216.3,254.2 231.9,252.8L445.2,234.5"/>
<path d="M95,244.6L137.8,248C153.5,249.2 169.2,250.2 184.9,251S216.3,252.2 231.9,252.4L445.2,254.3"/>
<path d="M95,248.6L137.8,248C153.5,247.7 169.2,247.4 184.9,247S216.3,246 231.9,245.4L445.2,237.5"/>
<path d="M95,246.1L137.8,248.5C153.5,249.4 169.2,250.1 184.9,250.5S216.3,251 231.9,250.9L445.2,249.1"/>
<path d="M95,240.9L137.8,239.9C153.5,239.6 169.2,239.3 184.9,239S216.3,238.4 231.9,238.2L445.2,234.7"/>
<path d="M95,248.9L445.2,244.1"/>
<path d="M95,244.6L137.8,249.8C153.5,251.7 169.2,253.3 184.9,254.3S216.3,255.7 231.9,255.6L445.2,253.8"/>
<path d="M95,236.9L137.8,236.9C153.5,236.9 169.2,236.9 184.9,237.1S216.3,237.4 231.9,237.7L445.2,241.2"/>
<path d="M95,244.7L137.8,245C153.5,245.1 169.2,245.1 184.9,245.2S216.3,245.2 231.9,245.1L445.2,244.4"/>
<path d="M95,245.7L445.2,239"/>
<path d="M95,249.6L137.8,251.6C153.5,252.3 169.2,253 184.9,253.4S216.3,254.3 231.9,254.5L445.2,257.4"/>
<path d="M95,242.1L137.8,245.9C153.5,247.2 169.2,248.5 184.9,249.5S216.3,251.2 231.9,251.6L445.2,257.2"/>
<path d="M95,239.5L137.8,237.2C153.5,236.4 169.2,235.6 184.9,235S216.3,233.9 231.9,233.5L445.2,229"/>
<path d="M95,239L137.8,237C153.5,236.2 169.2,235.8 184.9,235.8S216.3,236.4 231.9,237.2L445.2,248.4"/>
<path d="M95,250L137.8,251.9C153.5,252.6 169.2,252.8 184.9,252.5S216.3,251.3 231.9,250L445.2,232.2"/>
<path d="M95,247.8L137.8,250C153.5,250.8 169.2,251.5 184.9,251.8S216.3,252.3 231.9,252.2L445.2,250.8"/>
<path d="M95,241.9L137.8,238.3C153.5,236.9 169.2,235.8 184.9,234.9S216.3,233.4 231.9,233.2L445.2,229.9"/>
<path d="M95,243.5L137.8,241.9C153.5,241.3 169.2,240.7 184.9,240.2S216.3,239.1 231.9,238.6L445.2,232.2"/>
<path d="M95,249.7L137.8,248.7C153.5,248.3 169.2,247.8 184.9,247.3S216.3,246.1 231.9,245.4L445.2,236"/>
<path d="M95,240.2L137.8,237.6C153.5,236.6 169.2,235.7 184.9,234.9S216.3,233.2 231.9,232.5L445.2,222.8"/>
<path d="M95,241.5L137.8,238.9C153.5,238 169.2,237 184.9,236.1S216.3,234.3 231.9,233.4L445.2,221.1"/>
<path d="M95,240.7L137.8,237.5C153.5,236.3 169.2,235.2 184.9,234.3S216.3,232.5 231.9,232L445.2,224.2"/>
<path d="M95,245.2L137.8,245.2C153.5,245.3 169.2,245 184.9,244.5S216.3,243.3 231.9,242.5L445.2,231.7"/>
<path d="M95,240.6L137.8,236.1C153.5,234.4 169.2,232.9 184.9,231.4S216.3,228.6 231.9,227.4L445.2,211.5"/>
<path d="M95,246.4L137.8,248.9C153.5,249.9 169.2,250.7 184.9,251.4S216.3,252.6 231.9,253L445.2,258"/>
<path d="M95,235L445.2,212.1"/>
<path d="M95,247.3L137.8,250.1C153.5,251.1 169.2,252.1 184.9,253S216.3,254.8 231.9,255.6L445.2,266.3"/>
<path d="M95,242.3L137.8,243.4C153.5,243.7 169.2,244.1 184.9,244.4S216.3,245.1 231.9,245.3L445.2,248.6"/>
<path d="M95,247.1L137.8,246.5C153.5,246.2 169.2,245.9 184.9,245.5S216.3,244.7 231.9,244.3L445.2,237.8"/>
<path d="M95,241L137.8,243.1C153.5,243.9 169.2,244.6 184.9,245.4S216.3,246.8 231.9,247.4L445.2,256.2"/>
<path d="M95,234.9L445.2,205.1"/>
<path d="M95,247.9L137.8,252.1C153.5,253.6 169.2,254.4 184.9,254.3S216.3,253.1 231.9,251.4L445.2,228"/>
<path d="M95,245.4L137.8,249.4C153.5,250.8 169.2,252 184.9,252.9S216.3,254.2 231.9,254.3L445.2,255.3"/>
<path d="M95,231.8L137.8,230.9C153.5,230.6 169.2,230.4 184.9,230.3S216.3,230.3 231.9,230.5L445.2,233.4"/>
<path d="M95,240.9L445.2,243.9"/>
<path d="M95,242.9L137.8,240.9C153.5,240.2 169.2,239.5 184.9,238.8S216.3,237.7 231.9,237.2L445.2,231.1"/>
<path d="M95,239.4L445.2,224"/>
<path d="M95,243.8L137.8,247.8C153.5,249.3 169.2,250.5 184.9,251.1S216.3,252.1 231.9,251.8L445.2,248"/>
<path d="M95,238.8L137.8,240C153.5,240.5 169.2,241 184.9,241.5S216.3,242.4 231.9,242.9L445.2,249.4"/>
<path d="M95,239.6L137.8,241.6C153.5,242.4 169.2,243.1 184.9,243.8S216.3,245.2 231.9,245.7L445.2,253"/>
<path d="M95,237.7L137.8,234.8C153.5,233.7 169.2,232.7 184.9,231.8S216.3,229.9 231.9,229.1L445.2,218"/>
<path d="M95,230.4L137.8,229.6C153.5,229.3 169.2,229.2 184.9,229.2S216.3,229.5 231.9,230L445.2,235.6"/>
<path d="M95,245.6L137.8,250C153.5,251.7 169.2,253.2 184.9,254.6S216.3,257.2 231.9,258.2L445.2,272"/>
<path d="M95,242.8L137.8,241C153.5,240.3 169.2,239.7 184.9,239.1S216.3,238 231.9,237.6L445.2,231.8"/>
<path d="M95,251L137.8,250.2C153.5,249.9 169.2,249.4 184.9,248.8S216.3,247.3 231.9,246.5L445.2,234.6"/>
<path d="M95,240.8L137.8,240.5C153.5,240.4 169.2,240.4 184.9,240.3S216.3,240.3 231.9,240.3L445.2,240.9"/>
<path d="M95,249.8L137.8,254C153.5,255.5 169.2,256.7 184.9,257.4S216.3,258.5 231.9,258.4L445.2,256.7"/>
<path d="M95,241.3L137.8,242.3C153.5,242.7 169.2,243 184.9,243.3S216.3,243.9 231.9,244.1L445.2,246.4"/>
<path d="M95,241.3L137.8,244.3C153.5,245.5 169.2,246.5 184.9,247.5S216.3,249.5 231.9,250.3L445.2,261.5"/>
<path d="M95,238.8L137.8,233.8C153.5,231.9 169.2,230.3 184.9,229S216.3,226.9 231.9,226.4L445.2,220.3"/>
<path d="M95,246.2L137.8,248.7C153.5,249.6 169.2,250.4 184.9,251.1S216.3,252.3 231.9,252.7L445.2,258.1"/>
<path d="M95,244.8L137.8,245.1C153.5,245.2 169.2,245.2 184.9,245.1S216.3,244.9 231.9,244.7L445.2,241.9"/>
<path d="M95,233.9L445.2,232.4"/>
<path d="M95,244.6L137.8,244.2C153.5,244.1 169.2,243.8 184.9,243.6S216.3,243 231.9,242.7L445.2,238.1"/>
<path d="M95,235L137.8,236.3C153.5,236.7 169.2,237.3 184.9,237.8S216.3,239 231.9,239.7L445.2,248.4"/>
<path d="M95,238.9L137.8,240.8C153.5,241.5 169.2,242.2 184.9,242.9S216.3,244.3 231.9,245L445.2,254"/>
<path d="M95,233L137.8,229.2C153.5,227.9 169.2,227.1 184.9,227S216.3,227.4 231.9,228.6L445.2,244.5"/>
<path d="M95,244L137.8,247.1C153.5,248.2 169.2,249.3 184.9,250.1S216.3,251.7 231.9,252.2L445.2,258.8"/>
<path d="M95,246.7L137.8,249.1C153.5,250 169.2,250.7 184.9,251.4S216.3,252.4 231.9,252.7L445.2,256.3"/>
<path d="M95,246.8L137.8,245.8C153.5,245.5 169.2,245.1 184.9,244.6S216.3,243.6 231.9,243L445.2,235.1"/>
<path d="M95,245.8L137.8,250.9C153.5,252.8 169.2,254.5 184.9,255.8S216.3,258 231.9,258.5L445.2,265.3"/>
<path d="M95,244.5L137.8,245.2C153.5,245.5 169.2,245.7 184.9,245.8S216.3,246 231.9,246L445.2,245.8"/>
<path d="M95,244.2L137.8,248C153.5,249.4 169.2,250.7 184.9,251.7S216.3,253.6 231.9,254.1L445.2,261.4"/>
<path d="M95,239.8L137.8,236.7C153.5,235.6 169.2,234.7 184.9,233.9S216.3,232.6 231.9,232.3L445.2,228.5"/>
<path d="M95,251.4L137.8,256.3C153.5,258.1 169.2,259.4 184.9,260S216.3,260.7 231.9,260.1L445.2,252.1"/>
<path d="M95,244.6L137.8,246.6C153.5,247.3 169.2,248 184.9,248.5S216.3,249.5 231.9,249.9L445.2,254.5"/>
<path d="M95,250.5L137.8,249.2C153.5,248.7 169.2,248.1 184.9,247.6S216.3,246.3 231.9,245.7L445.2,236.6"/>
<path d="M95,239.1L445.2,245"/>
<path d="M95,245.4L137.8,245C153.5,244.9 169.2,244.7 184.9,244.5S216.3,244 231.9,243.7L445.2,239.9"/>
<path d="M95,232.1L137.8,227.6C153.5,226 169.2,225.2 184.9,225.5S216.3,227.1 231.9,229.2L445.2,257.7"/>
<path d="M95,241L137.8,240.4C153.5,240.2 169.2,240 184.9,239.8S216.3,239.6 231.9,239.5L445.2,238.5"/>
<path d="M95,236.2L137.8,236C153.5,235.9 169.2,236.2 184.9,236.7S216.3,238.1 231.9,239.1L445.2,252.3"/>
<path d="M95,238.1L137.8,235.7C153.5,234.8 169.2,234 184.9,233.5S216.3,232.6 231.9,232.5L445.2,231.1"/>
<path d="M95,244.9L137.8,244.6C153.5,244.5 169.2,244.4 184.9,244.2S216.3,243.7 231.9,243.4L445.2,239.1"/>
<path d="M95,244.7L445.2,253.6"/>
<path d="M95,235.6L137.8,236.2C153.5,236.4 169.2,236.8 184.9,237.4S216.3,238.6 231.9,239.3L445.2,249.6"/>
<path d="M95,240L137.8,240.1C153.5,240.1 169.2,240.2 184.9,240.2S216.3,240.4 231.9,240.6L445.2,242.4"/>
<path d="M95,249L137.8,252.5C153.5,253.8 169.2,254.8 184.9,255.3S216.3,256 231.9,255.7L445.2,251.7"/>
<path d="M95,234.4L137.8,231.8C153.5,230.8 169.2,230 184.9,229.4S216.3,228.5 231.9,228.3L445.2,226.4"/>
<path d="M95,245.8L137.8,251.6C153.5,253.7 169.2,255.6 184.9,257.1S216.3,259.7 231.9,260.4L445.2,269.9"/>
<path d="M95,247.3L137.8,249.4C153.5,250.2 169.2,250.9 184.9,251.6S216.3,252.7 231.9,253.2L445.2,259.3"/>
<path d="M95,241.8L137.8,240.2C153.5,239.6 169.2,239.2 184.9,239S216.3,238.9 231.9,239.3L445.2,244.1"/>
<path d="M95,243.9L445.2,226"/>
<path d="M95,238.1L137.8,235.2C153.5,234.1 169.2,233.2 184.9,232.6S216.3,231.4 231.9,231.3L445.2,228.8"/>
<path d="M95,238.9L137.8,240.1C153.5,240.5 169.2,241 184.9,241.6S216.3,242.6 231.9,243.1L445.2,249.4"/>
<path d="M95,235.1L445.2,246.9"/>
<path d="M95,244L137.8,242.4C153.5,241.8 169.2,241.2 184.9,240.7S216.3,239.5 231.9,239L445.2,232"/>
<path d="M95,239L137.8,242.4C153.5,243.7 169.2,244.9 184.9,246.1S216.3,248.5 231.9,249.6L445.2,264.6"/>
<path d="M95,246.6L445.2,283.4"/>
<path d="M95,233.5L137.8,231.1C153.5,230.2 169.2,229.4 184.9,228.7S216.3,227.5 231.9,227.2L445.2,222.3"/>
<path d="M95,251.5L137.8,254.3C153.5,255.3 169.2,256 184.9,256.2S216.3,256.1 231.9,255.4L445.2,246.3"/>
<path d="M95,235.6L137.8,232.6C153.5,231.5 169.2,230.6 184.9,229.9S216.3,228.8 231.9,228.7L445.2,226.6"/>
<path d="M95,241.2L445.2,237.7"/>
<path d="M95,246L137.8,247C153.5,247.4 169.2,247.8 184.9,248.1S216.3,248.6 231.9,248.8L445.2,251.6"/>
<path d="M95,237.6L137.8,236.8C153.5,236.4 169.2,236.4 184.9,236.5S216.3,237.1 231.9,237.7L445.2,246"/>
<path d="M95,235.1L137.8,237.4C153.5,238.2 169.2,239.1 184.9,240.1S216.3,242.1 231.9,243.1L445.2,256.5"/>
<path d="M95,241.8L137.8,244.8C153.5,245.8 169.2,246.8 184.9,247.5S216.3,248.8 231.9,249L445.2,252.4"/>
<path d="M95,244.5L137.8,244.1C153.5,244 169.2,243.8 184.9,243.7S216.3,243.3 231.9,243.1L445.2,240.1"/>
<path d="M95,245L137.8,244.8C153.5,244.7 169.2,244.5 184.9,244.3S216.3,243.8 231.9,243.5L445.2,239.2"/>
<path d="M95,244.7L137.8,244.1C153.5,243.8 169.2,243.6 184.9,243.3S216.3,242.7 231.9,242.4L445.2,238.3"/>
<path d="M95,248L137.8,249.5C153.5,250 169.2,249.9 184.9,249.2S216.3,247.2 231.9,245.6L445.2,223.4"/>
<path d="M95,240.3L137.8,244.6C153.5,246.2 169.2,247.7 184.9,249.2S216.3,252 231.9,253.3L445.2,270.2"/>
<path d="M95,238.6L445.2,241.4"/>
<path d="M95,239.9L137.8,240.9C153.5,241.2 169.2,241.6 184.9,242S216.3,242.7 231.9,243L445.2,247.7"/>
<path d="M95,245.7L137.8,248.2C153.5,249.2 169.2,250 184.9,250.8S216.3,252.3 231.9,253L445.2,261.6"/>
<path d="M95,244L445.2,241.3"/>
<path d="M95,243.3L137.8,245.2C153.5,245.8 169.2,246.4 184.9,246.8S216.3,247.4 231.9,247.4L445.2,247.5"/>
<path d="M95,248.5L137.8,251C153.5,251.9 169.2,252.8 184.9,253.5S216.3,255 231.9,255.5L445.2,263.3"/>
<path d="M95,245.4L137.8,244.3C153.5,243.9 169.2,243.5 184.9,243.1S216.3,242.3 231.9,241.8L445.2,236"/>
<path d="M95,243.4L137.8,241.7C153.5,241 169.2,240.4 184.9,239.8S216.3,238.7 231.9,238.2L445.2,231.8"/>
<path d="M95,246.6L137.8,251.6C153.5,253.4 169.2,254.9 184.9,256.1S216.3,258 231.9,258.2L445.2,262"/>
<path d="M95,244.8L137.8,246.6C153.5,247.2 169.2,247.5 184.9,247.5S216.3,247 231.9,246.3L445.2,236.8"/>
<path d="M95,231.7L137.8,228C153.5,226.6 169.2,226.3 184.9,227S216.3,229.6 231.9,232.2L445.2,266.9"/>
<path d="M95,248.9L137.8,250.1C153.5,250.5 169.2,249.7 184.9,248.1S216.3,243.9 231.9,241.3L445.2,207.2"/>
<path d="M95,239.5L137.8,237.2C153.5,236.3 169.2,235.6 184.9,235.2S216.3,234.8 231.9,235L445.2,237.6"/>
<path d="M95,238.1L137.8,237.9C153.5,237.9 169.2,237.9 184.9,238S216.3,238.2 231.9,238.3L445.2,240.8"/>
<path d="M95,243.7L137.8,242.4C153.5,241.9 169.2,241.4 184.9,240.9S216.3,240 231.9,239.5L445.2,233.3"/>
<path d="M95,236.7L137.8,236.5C153.5,236.4 169.2,236.4 184.9,236.5S216.3,236.8 231.9,237.1L445.2,240.8"/>
<path d="M95,242.5L445.2,242.7"/>
<path d="M95,234.2L137.8,232.9C153.5,232.5 169.2,232.4 184.9,232.8S216.3,234 231.9,235.1L445.2,250"/>
<path d="M95,240.4L445.2,221.6"/>
<path d="M95,238.9L137.8,238.1C153.5,237.7 169.2,237.6 184.9,237.5S216.3,237.6 231.9,237.8L445.2,241"/>
<path d="M95,239.6L137.8,236.3C153.5,235.1 169.2,234 184.9,233.1S216.3,231.3 231.9,230.8L445.2,222.9"/>
<path d="M95,248.8L137.8,248.7C153.5,248.7 169.2,248.5 184.9,248.2S216.3,247.3 231.9,246.7L445.2,238.2"/>
<path d="M95,248.8L137.8,248.1C153.5,247.9 169.2,247.5 184.9,247.1S216.3,246.2 231.9,245.7L445.2,238.3"/>
<path d="M95,233.4L137.8,230.5C153.5,229.4 169.2,228.5 184.9,228S216.3,227.1 231.9,227.1L445.2,226.8"/>
<path d="M95,240.5L137.8,241.6C153.5,242 169.2,242.4 184.9,242.8S216.3,243.5 231.9,243.9L445.2,249"/>
<path d="M95,242.5L137.8,238.1C153.5,236.5 169.2,235 184.9,233.5S216.3,230.8 231.9,229.6L445.2,214.1"/>
<path d="M95,245.2L137.8,244.9C153.5,244.8 169.2,244.6 184.9,244.4S216.3,243.8 231.9,243.5L445.2,239"/>
<path d="M95,247.4L445.2,272"/>
<path d="M95,244.7L445.2,244.6"/>
<path d="M95,245L445.2,273.1"/>
<path d="M95,241.4L137.8,245.7C153.5,247.3 169.2,248.9 184.9,250.2S216.3,252.8 231.9,253.8L445.2,267.2"/>
<path d="M95,235.3L137.8,236C153.5,236.3 169.2,236.6 184.9,237S216.3,237.9 231.9,238.4L445.2,245.2"/>
<path d="M95,231.3L137.8,228.4C153.5,227.3 169.2,227 184.9,227.5S216.3,229.3 231.9,231.3L445.2,257.4"/>
<path d="M95,249.6L137.8,252.1C153.5,253 169.2,253.4 184.9,253.3S216.3,252.5 231.9,251.4L445.2,236.5"/>
<path d="M95,244.8L137.8,248.9C153.5,250.4 169.2,251.9 184.9,253.2S216.3,255.7 231.9,256.7L445.2,270.8"/>
<path d="M95,238.7L137.8,236.5C153.5,235.6 169.2,234.9 184.9,234.5S216.3,233.7 231.9,233.7L445.2,233.4"/>
<path d="M95,245.6L137.8,249.9C153.5,251.4 169.2,252.9 184.9,254.2S216.3,256.8 231.9,257.9L445.2,272.8"/>
<path d="M95,236.6L137.8,233.3C153.5,232 169.2,230.9 184.9,229.9S216.3,228 231.9,227.3L445.2,217.6"/>
<path d="M95,250.6L137.8,251.8C153.5,252.3 169.2,252.1 184.9,251.2S216.3,248.7 231.9,246.8L445.2,220.9"/>
<path d="M95,239.3L137.8,237.2C153.5,236.4 169.2,235.7 184.9,235S216.3,233.8 231.9,233.4L445.2,227.1"/>
<path d="M95,237.5L137.8,239.7C153.5,240.5 169.2,241.3 184.9,242.1S216.3,243.8 231.9,244.5L445.2,255.3"/>
<path d="M95,247.1L137.8,250C153.5,251.1 169.2,251.7 184.9,251.6S216.3,250.9 231.9,249.8L445.2,234.2"/>
<path d="M95,247.6L137.8,251.5C153.5,252.9 169.2,254.2 184.9,255.5S216.3,257.8 231.9,258.7L445.2,271.7"/>
<path d="M95,247.8L137.8,247.2C153.5,246.9 169.2,246.6 184.9,246.2S216.3,245.3 231.9,244.7L445.2,237.4"/>
<path d="M95,241.2L137.8,236.8C153.5,235.3 169.2,233.7 184.9,232.4S216.3,229.8 231.9,228.8L445.2,215.3"/>
<path d="M95,234.5L445.2,227"/>
<path d="M95,242.1L137.8,243.9C153.5,244.5 169.2,245.1 184.9,245.5S216.3,246.1 231.9,246.2L445.2,247.1"/>
<path d="M95,235.3L137.8,233.2C153.5,232.4 169.2,231.8 184.9,231.3S216.3,230.4 231.9,230.2L445.2,227.5"/>
<path d="M95,240L137.8,241.4C153.5,242 169.2,242.5 184.9,243S216.3,244 231.9,244.5L445.2,250.8"/>
<path d="M95,243.4L137.8,243C153.5,242.9 169.2,242.7 184.9,242.4S216.3,241.8 231.9,241.5L445.2,237.3"/>
<path d="M95,237.2L137.8,233.5C153.5,232.2 169.2,230.9 184.9,229.8S216.3,227.7 231.9,226.8L445.2,215.6"/>
<path d="M95,243.7L137.8,244.5C153.5,244.7 169.2,245 184.9,245.1S216.3,245.3 231.9,245.3L445.2,245.4"/>
<path d="M95,245L137.8,248.5C153.5,249.9 169.2,251 184.9,251.9S216.3,253.5 231.9,253.8L445.2,258.8"/>
<path d="M95,232.2L137.8,227.9C153.5,226.3 169.2,225.4 184.9,225.2S216.3,225.7 231.9,227.1L445.2,245.3"/>
<path d="M95,249.4L137.8,248.4C153.5,248 169.2,247.5 184.9,247S216.3,245.7 231.9,245L445.2,235.2"/>
<path d="M95,236.2L137.8,234.4C153.5,233.7 169.2,233.1 184.9,232.7S216.3,231.9 231.9,231.8L445.2,229.4"/>
<path d="M95,241.3L445.2,220.9"/>
<path d="M95,239.7L137.8,242.4C153.5,243.3 169.2,244.3 184.9,245.1S216.3,246.4 231.9,246.7L445.2,251"/>
<path d="M95,235.9L137.8,232.3C153.5,230.9 169.2,229.9 184.9,229.4S216.3,228.6 231.9,228.9L445.2,232.5"/>
<path d="M95,244L137.8,246.5C153.5,247.4 169.2,248.2 184.9,249S216.3,250.4 231.9,251L445.2,258.6"/>
<path d="M95,233.1L137.8,233.5C153.5,233.7 169.2,233.8 184.9,234.1S216.3,234.5 231.9,234.8L445.2,238.7"/>
<path d="M95,231.5L137.8,228.5C153.5,227.4 169.2,226.4 184.9,225.6S216.3,224.3 231.9,223.9L445.2,218.5"/>
<path d="M95,248.5L137.8,251.8C153.5,253 169.2,254.1 184.9,255.1S216.3,256.9 231.9,257.5L445.2,266.3"/>
<path d="M95,237.3L137.8,236.2C153.5,235.8 169.2,235.4 184.9,235.2S216.3,234.8 231.9,234.7L445.2,233.7"/>
<path d="M95,238.6L137.8,237.6C153.5,237.2 169.2,236.8 184.9,236.5S216.3,236 231.9,235.8L445.2,233.3"/>
<path d="M95,236.2L137.8,231.6C153.5,229.9 169.2,228.4 184.9,226.9S216.3,224.2 231.9,223.1L445.2,207.9"/>
<path d="M95,249.2L137.8,249.4C153.5,249.5 169.2,249.4 184.9,249.2S216.3,248.5 231.9,247.9L445.2,240.5"/>
<path d="M95,246.5L137.8,249.4C153.5,250.5 169.2,251.4 184.9,252.3S216.3,253.9 231.9,254.5L445.2,262.5"/>
<path d="M95,252.7L137.8,257.2C153.5,258.8 169.2,259.7 184.9,259.6S216.3,258.5 231.9,256.7L445.2,232.1"/>
<path d="M95,236.5L137.8,236C153.5,235.8 169.2,235.8 184.9,236S216.3,236.6 231.9,237.2L445.2,244.5"/>
<path d="M95,241.3L137.8,236.9C153.5,235.3 169.2,233.8 184.9,232.5S216.3,230 231.9,229.1L445.2,217.1"/>
<path d="M95,243.4L137.8,240.2C153.5,239.1 169.2,237.9 184.9,236.8S216.3,234.7 231.9,233.8L445.2,220.9"/>
<path d="M95,235.5L137.8,237.1C153.5,237.7 169.2,238.4 184.9,239.2S216.3,240.9 231.9,241.7L445.2,253.3"/>
<path d="M95,237.1L137.8,233.6C153.5,232.4 169.2,231.2 184.9,230.1S216.3,228 231.9,227.2L445.2,215.9"/>
<path d="M95,246.9L445.2,276.6"/>
<path d="M95,234L137.8,234.3C153.5,234.4 169.2,234.8 184.9,235.3S216.3,236.5 231.9,237.3L445.2,248.3"/>
<path d="M95,239.9L137.8,237.1C153.5,236.1 169.2,235.5 184.9,235.5S216.3,236 231.9,236.9L445.2,249.7"/>
<path d="M95,246.9L137.8,245.3C153.5,244.7 169.2,244 184.9,243.2S216.3,241.6 231.9,240.8L445.2,230"/>
<path d="M95,239.7L137.8,243.5C153.5,245 169.2,246.2 184.9,247.2S216.3,248.8 231.9,249.1L445.2,252"/>
<path d="M95,236.5L137.8,236.9C153.5,237.1 169.2,237.5 184.9,238.1S216.3,239.6 231.9,240.5L445.2,252.7"/>
<path d="M95,236.1L137.8,234.2C153.5,233.5 169.2,233.1 184.9,233.1S216.3,233.3 231.9,234L445.2,242.6"/>
<path d="M95,240.8L137.8,241.5C153.5,241.7 169.2,241.9 184.9,242.2S216.3,242.6 231.9,242.8L445.2,245.7"/>
<path d="M95,246.6L445.2,282.2"/>
<path d="M95,242.7L137.8,244.3C153.5,244.8 169.2,245.3 184.9,245.6S216.3,246.2 231.9,246.3L445.2,247.1"/>
<path d="M95,239.2L137.8,240.2C153.5,240.5 169.2,241 184.9,241.5S216.3,242.5 231.9,242.9L445.2,248.5"/>
<path d="M95,240.1L445.2,246.6"/>
<path d="M95,236.4L137.8,237.8C153.5,238.4 169.2,239 184.9,239.6S216.3,241 231.9,241.7L445.2,251.2"/>
<path d="M95,242.9L137.8,242.6C153.5,242.5 169.2,242.4 184.9,242.2S216.3,241.9 231.9,241.8L445.2,239.6"/>
<path d="M95,242.6L445.2,253.1"/>
<path d="M95,235.9L137.8,233.4C153.5,232.5 169.2,231.8 184.9,231.2S216.3,230.4 231.9,230.3L445.2,229.2"/>
<path d="M95,241.5L137.8,240C153.5,239.5 169.2,238.9 184.9,238.4S216.3,237.4 231.9,237L445.2,230.9"/>
<path d="M95,240.9L137.8,241.8C153.5,242.1 169.2,242.4 184.9,242.7S216.3,243.2 231.9,243.4L445.2,245.6"/>
<path d="M95,246.3L137.8,248.3C153.5,249 169.2,249.4 184.9,249.3S216.3,248.8 231.9,248L445.2,237.3"/>
<path d="M95,242.1L137.8,241.3C153.5,241 169.2,240.8 184.9,240.7S216.3,240.6 231.9,240.7L445.2,242.6"/>
<path d="M95,243.5L137.8,239.8C153.5,238.4 169.2,237.1 184.9,236S216.3,234 231.9,233.4L445.2,225"/>
<path d="M95,246.1L137.8,243.8C153.5,242.9 169.2,241.8 184.9,240.8S216.3,238.9 231.9,238.5L445.2,232.6"/>
<path d="M95,243.9L137.8,248.6C153.5,250.3 169.2,251.9 184.9,253.2S216.3,255.5 231.9,256.2L445.2,265.6"/>
<path d="M95,237.2L445.2,230.5"/>
<path d="M95,248.8L137.8,251.9C153.5,253 169.2,253.8 184.9,254.3S216.3,254.9 231.9,254.6L445.2,251.1"/>
<path d="M95,243.7L137.8,242.4C153.5,241.9 169.2,241.5 184.9,241S216.3,240.1 231.9,239.6L445.2,233.9"/>
<path d="M95,250.6L137.8,250.1C153.5,249.9 169.2,249.4 184.9,248.6S216.3,246.8 231.9,245.6L445.2,229.3"/>
<path d="M95,243.3L137.8,245.5C153.5,246.3 169.2,247 184.9,247.4S216.3,248.2 231.9,248.3L445.2,249.5"/>
<path d="M95,239.3L137.8,235.3C153.5,233.8 169.2,232.6 184.9,231.8S216.3,230.5 231.9,230.6L445.2,231.1"/>
<path d="M95,239.5L137.8,234.1C153.5,232.1 169.2,230.3 184.9,229S216.3,226.6 231.9,226.1L445.2,219.3"/>
<path d="M95,233.7L137.8,231.3C153.5,230.4 169.2,229.7 184.9,229.2S216.3,228.5 231.9,228.5L445.2,228.5"/>
<path d="M95,250L137.8,250.1C153.5,250.1 169.2,250 184.9,250S216.3,249.7 231.9,249.6L445.2,247"/>
<path d="M95,249.2L137.8,247.7C153.5,247.1 169.2,246.4 184.9,245.6S216.3,243.9 231.9,242.9L445.2,230.1"/>
<path d="M95,233.1L137.8,229.9C153.5,228.8 169.2,228 184.9,227.7S216.3,227.5 231.9,228.1L445.2,236.1"/>
<path d="M95,241.9L445.2,236.5"/>
<path d="M95,231.6L137.8,228.7C153.5,227.7 169.2,227.1 184.9,227.1S216.3,227.7 231.9,228.7L445.2,243.1"/>
<path d="M95,241.8L137.8,240.3C153.5,239.7 169.2,239.2 184.9,238.7S216.3,237.7 231.9,237.2L445.2,231.3"/>
<path d="M95,249.9L137.8,250.4C153.5,250.6 169.2,250.6 184.9,250.4S216.3,249.9 231.9,249.4L445.2,242.2"/>
<path d="M95,251.2L137.8,250.8C153.5,250.6 169.2,250.4 184.9,250.1S216.3,249.5 231.9,249.1L445.2,243.5"/>
<path d="M95,245.5L137.8,246C153.5,246.3 169.2,246.4 184.9,246.4S216.3,246.3 231.9,246.2L445.2,243.8"/>
<path d="M95,245.7L445.2,223"/>
<path d="M95,233.3L137.8,232C153.5,231.5 169.2,232.2 184.9,233.8S216.3,238.1 231.9,240.8L445.2,277.6"/>
<path d="M95,242.6L137.8,245.3C153.5,246.2 169.2,247 184.9,247.5S216.3,248.3 231.9,248.2L445.2,247.2"/>
<path d="M95,232.6L137.8,228.4C153.5,226.9 169.2,225.6 184.9,224.8S216.3,223.4 231.9,223.2L445.2,221.6"/>
<path d="M95,238L137.8,236.4C153.5,235.8 169.2,235.5 184.9,235.3S216.3,235.2 231.9,235.5L445.2,239.2"/>
<path d="M95,243.5L137.8,247.2C153.5,248.5 169.2,249.5 184.9,249.9S216.3,250.1 231.9,249.5L445.2,240.1"/>
<path d="M95,250.1L137.8,250.9C153.5,251.2 169.2,251.2 184.9,251S216.3,250.3 231.9,249.6L445.2,240.4"/>
<path d="M95,244.8L137.8,246C153.5,246.5 169.2,246.7 184.9,246.7S216.3,246.3 231.9,245.8L445.2,238.7"/>
<path d="M95,241.3L137.8,243.8C153.5,244.7 169.2,245.6 184.9,246.3S216.3,247.6 231.9,247.9L445.2,252.8"/>
<path d="M95,243L137.8,244.6C153.5,245.2 169.2,245.7 184.9,246S216.3,246.5 231.9,246.6L445.2,247.1"/>
<path d="M95,245.4L137.8,242.4C153.5,241.3 169.2,240.2 184.9,239.1S216.3,237.2 231.9,236.4L445.2,225.7"/>
<path d="M95,245.4L137.8,248.8C153.5,250.1 169.2,251.2 184.9,252S216.3,253.3 231.9,253.5L445.2,256.5"/>
<path d="M95,238.7L137.8,239.1C153.5,239.2 169.2,239.4 184.9,239.5S216.3,239.9 231.9,240L445.2,242.6"/>
<path d="M95,242.4L137.8,241C153.5,240.5 169.2,240 184.9,239.6S216.3,238.7 231.9,238.4L445.2,234.1"/>
<path d="M95,245.3L137.8,246.6C153.5,247.1 169.2,247.6 184.9,248S216.3,248.6 231.9,248.8L445.2,251.6"/>
<path d="M95,239.1L445.2,221.8"/>
<path d="M95,231.2L137.8,229.1C153.5,228.3 169.2,227.8 184.9,227.4S216.3,226.9 231.9,227L445.2,228.1"/>
<path d="M95,240.9L137.8,244.7C153.5,246 169.2,247.3 184.9,248.4S216.3,250.4 231.9,251L445.2,259.3"/>
<path d="M95,244L137.8,244.7C153.5,245 169.2,245.2 184.9,245.4S216.3,245.8 231.9,245.9L445.2,247.7"/>
<path d="M95,243.6L137.8,247.8C153.5,249.3 169.2,250.8 184.9,252.1S216.3,254.6 231.9,255.5L445.2,269.1"/>
<path d="M95,250L137.8,249C153.5,248.6 169.2,248.1 184.9,247.6S216.3,246.6 231.9,246L445.2,237.8"/>
<path d="M95,240.6L137.8,239.8C153.5,239.5 169.2,239.3 184.9,239.1S216.3,238.7 231.9,238.6L445.2,237"/>
<path d="M95,236.5L137.8,236.3C153.5,236.2 169.2,236.2 184.9,236.3S216.3,236.4 231.9,236.5L445.2,238.5"/>
<path d="M95,238.1L445.2,209.5"/>
<path d="M95,242L137.8,244.2C153.5,245 169.2,245.8 184.9,246.5S216.3,247.9 231.9,248.6L445.2,257.6"/>
<path d="M95,244.5L137.8,246C153.5,246.5 169.2,247 184.9,247.4S216.3,248.2 231.9,248.4L445.2,252"/>
<path d="M95,247.4L445.2,267.4"/>
<path d="M95,240.5L137.8,241.9C153.5,242.5 169.2,243 184.9,243.4S216.3,244.4 231.9,244.7L445.2,249.8"/>
<path d="M95,238.3L137.8,234C153.5,232.5 169.2,231.1 184.9,230S216.3,228 231.9,227.4L445.2,220.1"/>
<path d="M95,249.3L137.8,247.8C153.5,247.3 169.2,246.7 184.9,246S216.3,244.5 231.9,243.7L445.2,232.7"/>
<path d="M95,236.8L137.8,233.5C153.5,232.2 169.2,231.2 184.9,230.4S216.3,229 231.9,228.7L445.2,224.6"/>
<path d="M95,238.1L137.8,236.2C153.5,235.5 169.2,235 184.9,234.5S216.3,233.7 231.9,233.5L445.2,230.6"/>
<path d="M95,235L137.8,232.5C153.5,231.5 169.2,230.7 184.9,230.1S216.3,229 231.9,228.7L445.2,225"/>
<path d="M95,238.7L445.2,215.5"/>
<path d="M95,237.5L137.8,233.6C153.5,232.2 169.2,230.9 184.9,229.8S216.3,227.8 231.9,227.1L445.2,218.1"/>
<path d="M95,237L137.8,236.3C153.5,236.1 169.2,236 184.9,236S216.3,236.3 231.9,236.6L445.2,241.1"/>
<path d="M95,242.6L137.8,239.5C153.5,238.4 169.2,237.2 184.9,236.1S216.3,233.9 231.9,232.8L445.2,218.1"/>
<path d="M95,236.5L445.2,229.8"/>
<path d="M95,242.3L137.8,243.5C153.5,243.9 169.2,244.3 184.9,244.6S216.3,245.2 231.9,245.3L445.2,247.6"/>
<path d="M95,251.4L137.8,254.2C153.5,255.3 169.2,256.2 184.9,256.9S216.3,258.2 231.9,258.6L445.2,264"/>
<path d="M95,232.5L137.8,229.8C153.5,228.9 169.2,228.1 184.9,227.5S216.3,226.4 231.9,226.2L445.2,223.3"/>
<path d="M95,236.9L137.8,239.6C153.5,240.5 169.2,241.5 184.9,242.5S216.3,244.5 231.9,245.4L445.2,257.7"/>
<path d="M95,244.1L137.8,242.2C153.5,241.5 169.2,240.8 184.9,240.1S216.3,238.8 231.9,238.2L445.2,229.6"/>
<path d="M95,247.7L137.8,253.1C153.5,255 169.2,256.6 184.9,257.7S216.3,259.4 231.9,259.4L445.2,259.6"/>
<path d="M95,242.3L137.8,246.9C153.5,248.6 169.2,250.1 184.9,251.4S216.3,253.9 231.9,254.7L445.2,265.9"/>
<path d="M95,234.8L137.8,232.4C153.5,231.5 169.2,230.8 184.9,230.2S216.3,229.3 231.9,229L445.2,226.1"/>
<path d="M95,242.5L445.2,255.4"/>
<path d="M95,240.6L137.8,239.8C153.5,239.5 169.2,239.2 184.9,239S216.3,238.5 231.9,238.3L445.2,235.8"/>
<path d="M95,243L137.8,239.4C153.5,238.1 169.2,236.8 184.9,235.6S216.3,233.3 231.9,232.2L445.2,217.9"/>
<path d="M95,245.6L137.8,250.4C153.5,252.2 169.2,253.8 184.9,255.1S216.3,257.6 231.9,258.4L445.2,269.5"/>
<path d="M95,237.4L137.8,238.8C153.5,239.3 169.2,239.9 184.9,240.5S216.3,241.8 231.9,242.4L445.2,251.1"/>
<path d="M95,231.4L137.8,231.2C153.5,231.2 169.2,231.3 184.9,231.6S216.3,232.5 231.9,233.1L445.2,242.3"/>
<path d="M95,237.8L137.8,240C153.5,240.8 169.2,241.6 184.9,242.4S216.3,244 231.9,244.8L445.2,255.1"/>
<path d="M95,235.8L137.8,236.7C153.5,237.1 169.2,237.6 184.9,238.2S216.3,239.5 231.9,240.3L445.2,250.7"/>
<path d="M95,248.1L137.8,248.5C153.5,248.6 169.2,248.7 184.9,248.6S216.3,248.3 231.9,248L445.2,244"/>
<path d="M95,235.3L137.8,234.4C153.5,234.1 169.2,234.1 184.9,234.4S216.3,235.5 231.9,236.4L445.2,248.9"/>
<path d="M95,242.6L137.8,241.6C153.5,241.2 169.2,240.9 184.9,240.6S216.3,240.1 231.9,240L445.2,238.5"/>
<path d="M95,249.6L137.8,251.2C153.5,251.8 169.2,252.1 184.9,252.1S216.3,251.7 231.9,251L445.2,242"/>
<path d="M95,245.5L137.8,246.3C153.5,246.6 169.2,246.8 184.9,247S216.3,247.1 231.9,247L445.2,245.8"/>
<path d="M95,237L137.8,236.6C153.5,236.5 169.2,236.5 184.9,236.6S216.3,236.8 231.9,237.1L445.2,241"/>
<path d="M95,240.4L137.8,241.5C153.5,241.9 169.2,242.4 184.9,242.7S216.3,243.5 231.9,243.8L445.2,248.1"/>
<path d="M95,237.9L137.8,239C153.5,239.3 169.2,239.8 184.9,240.2S216.3,241.2 231.9,241.7L445.2,248.4"/>
<path d="M95,244.8L137.8,250.4C153.5,252.5 169.2,254.4 184.9,255.9S216.3,258.5 231.9,259.3L445.2,269"/>
<path d="M95,241.4L137.8,240.7C153.5,240.5 169.2,240.3 184.9,240.1S216.3,239.7 231.9,239.6L445.2,237.8"/>
<path d="M95,242.9L137.8,246.6C153.5,247.9 169.2,249.1 184.9,250.1S216.3,252 231.9,252.5L445.2,260.2"/>
<path d="M95,240.5L137.8,242.2C153.5,242.8 169.2,243.4 184.9,244S216.3,245.2 231.9,245.8L445.2,253.4"/>
<path d="M95,232.6L137.8,232.7C153.5,232.8 169.2,233 184.9,233.4S216.3,234.4 231.9,235L445.2,244.2"/>
<path d="M95,238.6L445.2,244.5"/>
<path d="M95,241L137.8,238.4C153.5,237.4 169.2,236.4 184.9,235.5S216.3,233.8 231.9,233L445.2,222"/>
<path d="M95,243.9L137.8,247.4C153.5,248.7 169.2,249.9 184.9,251.1S216.3,253.3 231.9,254.2L445.2,266.8"/>
<path d="M95,239L137.8,240.8C153.5,241.5 169.2,242.2 184.9,242.8S216.3,244.2 231.9,244.8L445.2,253.3"/>
<path d="M95,230.7L445.2,221.9"/>
<path d="M95,248.3L445.2,268.9"/>
<path d="M95,243.4L445.2,258.4"/>
<path d="M95,247.4L137.8,250.8C153.5,252 169.2,253 184.9,253.6S216.3,254.4 231.9,254.3L445.2,252.2"/>
<path d="M95,246.7L137.8,247.6C153.5,248 169.2,248.1 184.9,248.1S216.3,247.8 231.9,247.4L445.2,241.8"/>
<path d="M95,243.5L137.8,242.3C153.5,241.9 169.2,241.4 184.9,241S216.3,240.1 231.9,239.7L445.2,234.9"/>
<path d="M95,244.1L137.8,248.6C153.5,250.2 169.2,251.7 184.9,252.8S216.3,254.8 231.9,255.2L445.2,260.9"/>
<path d="M95,244.4L137.8,242.4C153.5,241.7 169.2,241 184.9,240.3S216.3,238.9 231.9,238.3L445.2,229.9"/>
<path d="M95,236.2L137.8,233.6C153.5,232.7 169.2,231.9 184.9,231.4S216.3,230.7 231.9,230.7L445.2,231.2"/>
<path d="M95,245.3L137.8,245.4C153.5,245.4 169.2,245.4 184.9,245.3S216.3,245.1 231.9,244.9L445.2,242.3"/>
<path d="M95,233.6L137.8,233.6C153.5,233.6 169.2,233.7 184.9,233.8S216.3,234.1 231.9,234.3L445.2,237.2"/>
<path d="M95,248.4L137.8,249.7C153.5,250.1 169.2,250.4 184.9,250.5S216.3,250.6 231.9,250.4L445.2,247.1"/>
<path d="M95,242.3L445.2,231.6"/>
<path d="M95,248.2L137.8,249.1C153.5,249.4 169.2,249.4 184.9,249.1S216.3,248.2 231.9,247.4L445.2,236"/>
<path d="M95,238.2L137.8,234.5C153.5,233.1 169.2,231.9 184.9,230.8S216.3,228.8 231.9,228.1L445.2,218.7"/>
<path d="M95,247.6L137.8,247.7C153.5,247.7 169.2,247.7 184.9,247.7S216.3,247.6 231.9,247.5L445.2,246.2"/>
<path d="M95,240.9L137.8,245.2C153.5,246.7 169.2,248.2 184.9,249.6S216.3,252.2 231.9,253.3L445.2,268.1"/>
<path d="M95,242.8L137.8,241.5C153.5,241.1 169.2,240.6 184.9,240.2S216.3,239.5 231.9,239.2L445.2,235.8"/>
<path d="M95,251.1L137.8,254.9C153.5,256.3 169.2,257.5 184.9,258.4S216.3,259.8 231.9,260L445.2,262.9"/>
<path d="M95,232.8L137.8,232C153.5,231.7 169.2,231.6 184.9,231.6S216.3,231.9 231.9,232.4L445.2,238.1"/>
<path d="M95,240.3L137.8,239.5C153.5,239.2 169.2,238.9 184.9,238.8S216.3,238.6 231.9,238.7L445.2,239.5"/>
<path d="M95,236.7L137.8,237.1C153.5,237.2 169.2,237.3 184.9,237.5S216.3,237.9 231.9,238.1L445.2,241"/>
<path d="M95,242.3L137.8,242.1C153.5,242 169.2,242 184.9,241.9S216.3,241.7 231.9,241.7L445.2,240.6"/>
<path d="M95,235.8L137.8,233.5C153.5,232.7 169.2,231.8 184.9,231.1S216.3,229.5 231.9,228.8L445.2,219.2"/>
<path d="M95,239.1L137.8,236.4C153.5,235.5 169.2,234.7 184.9,234.1S216.3,233.2 231.9,233.1L445.2,231.9"/>
<path d="M95,247.8L445.2,266.8"/>
<path d="M95,235L137.8,236.2C153.5,236.6 169.2,237.1 184.9,237.7S216.3,239 231.9,239.8L445.2,249.7"/>
<path d="M95,237.4L137.8,234.8C153.5,233.9 169.2,233.1 184.9,232.4S216.3,231.1 231.9,230.7L445.2,224.8"/>
<path d="M95,243.2L137.8,240.1C153.5,239 169.2,237.8 184.9,236.7S216.3,234.5 231.9,233.5L445.2,219.6"/>
<path d="M95,242.5L137.8,238.7C153.5,237.3 169.2,236 184.9,234.9S216.3,232.9 231.9,232.3L445.2,223.8"/>
<path d="M95,240.1L137.8,238.3C153.5,237.7 169.2,237 184.9,236.5S216.3,235.3 231.9,234.8L445.2,228"/>
<path d="M95,241.9L137.8,240.3C153.5,239.7 169.2,239.2 184.9,238.8S216.3,238.1 231.9,238L445.2,235.9"/>
<path d="M95,246.7L137.8,251.2C153.5,252.9 169.2,254.4 184.9,255.8S216.3,258.4 231.9,259.3L445.2,272.7"/>
<path d="M95,241.5L137.8,241.1C153.5,241 169.2,240.9 184.9,240.9S216.3,240.9 231.9,241L445.2,242.5"/>
<path d="M95,249.4L137.8,250.5C153.5,250.9 169.2,251.2 184.9,251.3S216.3,251.4 231.9,251.2L445.2,248.8"/>
<path d="M95,251L137.8,250.7C153.5,250.6 169.2,250.4 184.9,250.1S216.3,249.4 231.9,248.9L445.2,242.7"/>
<path d="M95,239.5L137.8,241.1C153.5,241.7 169.2,242.3 184.9,242.8S216.3,243.9 231.9,244.4L445.2,250.3"/>
<path d="M95,240.9L137.8,241.5C153.5,241.8 169.2,242 184.9,242.2S216.3,242.6 231.9,242.8L445.2,245.5"/>
<path d="M95,235.1L137.8,231C153.5,229.5 169.2,228.2 184.9,227S216.3,224.9 231.9,224.1L445.2,213.5"/>
<path d="M95,240.6L137.8,239.8C153.5,239.5 169.2,239.4 184.9,239.4S216.3,239.7 231.9,240L445.2,244.6"/>
<path d="M95,240.6L445.2,228.8"/>
<path d="M95,234.3L137.8,233C153.5,232.6 169.2,232.5 184.9,232.7S216.3,233.6 231.9,234.5L445.2,246.7"/>
<path d="M95,242.9L445.2,216.4"/>
<path d="M95,235.8L137.8,235.2C153.5,234.9 169.2,234.8 184.9,234.6S216.3,234.5 231.9,234.5L445.2,234.7"/>
<path d="M95,243.6L137.8,240.6C153.5,239.5 169.2,238.4 184.9,237.3S216.3,235.2 231.9,234.3L445.2,221.1"/>
<path d="M95,243.3L137.8,243.9C153.5,244.1 169.2,244.3 184.9,244.5S216.3,244.7 231.9,244.7L445.2,245"/>
<path d="M95,234.6L137.8,235.2C153.5,235.4 169.2,235.8 184.9,236.3S216.3,237.3 231.9,238L445.2,247.2"/>
<path d="M95,234.3L137.8,231.2C153.5,230 169.2,229.8 184.9,230.4S216.3,232.6 231.9,234.7L445.2,263.7"/>
<path d="M95,242.9L137.8,246.6C153.5,248 169.2,249.3 184.9,250.5S216.3,252.7 231.9,253.7L445.2,266.3"/>
<path d="M95,236.2L137.8,237.3C153.5,237.8 169.2,238.4 184.9,239.1S216.3,240.7 231.9,241.5L445.2,253.1"/>
<path d="M95,246.3L137.8,247.5C153.5,248 169.2,248.3 184.9,248.6S216.3,249 231.9,249L445.2,249.6"/>
<path d="M95,242.7L137.8,241.7C153.5,241.3 169.2,240.9 184.9,240.6S216.3,240.1 231.9,240L445.2,238.8"/>
<path d="M95,233.8L137.8,231.5C153.5,230.6 169.2,229.9 184.9,229.5S216.3,228.7 231.9,228.6L445.2,227.8"/>
<path d="M95,244.1L137.8,246.5C153.5,247.4 169.2,248 184.9,248.1S216.3,248 231.9,247.3L445.2,238.3"/>
<path d="M95,237.5L445.2,238.7"/>
<path d="M95,238.2L137.8,235.1C153.5,233.9 169.2,232.8 184.9,231.8S216.3,229.8 231.9,228.9L445.2,216.7"/>
<path d="M95,237.9L137.8,234.5C153.5,233.3 169.2,232.4 184.9,231.8S216.3,231.1 231.9,231.3L445.2,234.1"/>
<path d="M95,250.6L137.8,255.6C153.5,257.5 169.2,258.9 184.9,259.9S216.3,261.3 231.9,261.2L445.2,259.8"/>
<path d="M95,238.1L137.8,236.7C153.5,236.2 169.2,235.7 184.9,235.4S216.3,234.8 231.9,234.6L445.2,232.5"/>
<path d="M95,243L137.8,239.7C153.5,238.5 169.2,237.4 184.9,236.4S216.3,234.4 231.9,233.7L445.2,224"/>
<path d="M95,231.8L137.8,230.9C153.5,230.5 169.2,230.3 184.9,230.1S216.3,229.9 231.9,229.9L445.2,230"/>
<path d="M95,234.1L137.8,233.6C153.5,233.5 169.2,233.5 184.9,233.6S216.3,234 231.9,234.4L445.2,240.1"/>
<path d="M95,238.6L137.8,239.2C153.5,239.4 169.2,239.7 184.9,240S216.3,240.5 231.9,240.9L445.2,245.1"/>
<path d="M95,249.3L137.8,250.9C153.5,251.5 169.2,251.8 184.9,251.7S216.3,251.1 231.9,250.2L445.2,239.2"/>
<path d="M95,241L445.2,204.3"/>
<path d="M95,238.8L137.8,235C153.5,233.7 169.2,232.3 184.9,231.1S216.3,228.8 231.9,227.9L445.2,215.2"/>
<path d="M95,239.3L137.8,237.1C153.5,236.3 169.2,235.5 184.9,234.7S216.3,233.3 231.9,232.7L445.2,224.3"/>
<path d="M95,245.4L137.8,246.1C153.5,246.3 169.2,246.4 184.9,246.3S216.3,246.1 231.9,245.7L445.2,240.9"/>
<path d="M95,240.3L137.8,238.4C153.5,237.7 169.2,237.1 184.9,236.6S216.3,235.8 231.9,235.5L445.2,232.4"/>
<path d="M95,247.5L137.8,248C153.5,248.1 169.2,248.2 184.9,248.2S216.3,248.1 231.9,248L445.2,246.2"/>
<path d="M95,237.5L137.8,237.4C153.5,237.3 169.2,237.3 184.9,237.4S216.3,237.7 231.9,237.9L445.2,241"/>
<path d="M95,239.5L137.8,242.9C153.5,244.2 169.2,245.3 184.9,246.2S216.3,247.7 231.9,247.9L445.2,250.5"/>
<path d="M95,248.4L137.8,249.9C153.5,250.5 169.2,251 184.9,251.4S216.3,252 231.9,252.2L445.2,254.6"/>
<path d="M95,244.7L137.8,242.6C153.5,241.8 169.2,241.1 184.9,240.3S216.3,238.8 231.9,238.2L445.2,229.1"/>
<path d="M95,236.6L137.8,234.9C153.5,234.2 169.2,234 184.9,234S216.3,234.6 231.9,235.4L445.2,245.8"/>
<path d="M95,242.8L137.8,244C153.5,244.5 169.2,244.9 184.9,245.3S216.3,246 231.9,246.3L445.2,250.2"/>
<path d="M95,233.1L137.8,230.1C153.5,228.9 169.2,228.3 184.9,228.1S216.3,228.4 231.9,229.2L445.2,241"/>
<path d="M95,243L137.8,239.8C153.5,238.7 169.2,237.6 184.9,236.7S216.3,235.1 231.9,234.7L445.2,228.9"/>
<path d="M95,247.7L137.8,252.3C153.5,254 169.2,254.7 184.9,254.1S216.3,251.6 231.9,249.1L445.2,214.1"/>
<path d="M95,240.1L137.8,235.8C153.5,234.2 169.2,232.6 184.9,231.2S216.3,228.4 231.9,227.2L445.2,210.5"/>
<path d="M95,230.6L445.2,224.9"/>
<path d="M95,232.7L137.8,229.5C153.5,228.3 169.2,228.5 184.9,230S216.3,234.3 231.9,237.6L445.2,282.2"/>
<path d="M95,237.6L137.8,238.5C153.5,238.8 169.2,239.2 184.9,239.6S216.3,240.4 231.9,240.8L445.2,246.4"/>
<path d="M95,232.2L137.8,229.5C153.5,228.5 169.2,227.7 184.9,227.1S216.3,226.1 231.9,225.9L445.2,223.7"/>
<path d="M95,240.8L137.8,239.3C153.5,238.7 169.2,238.3 184.9,238.1S216.3,237.8 231.9,238L445.2,240.7"/>
<path d="M95,233.8L137.8,232.1C153.5,231.4 169.2,231.1 184.9,231.3S216.3,232.1 231.9,233.1L445.2,246.4"/>
<path d="M95,241L137.8,243C153.5,243.8 169.2,244.5 184.9,245S216.3,246 231.9,246.2L445.2,249.2"/>
<path d="M95,237.3L137.8,238.5C153.5,239 169.2,239.5 184.9,240.2S216.3,241.5 231.9,242.2L445.2,251.3"/>
<path d="M95,233.9L137.8,233.1C153.5,232.8 169.2,232.6 184.9,232.7S216.3,232.9 231.9,233.3L445.2,238.6"/>
<path d="M95,245.9L137.8,244.3C153.5,243.7 169.2,243.1 184.9,242.4S216.3,241.2 231.9,240.5L445.2,232.1"/>
<path d="M95,249.9L137.8,249.3C153.5,249.1 169.2,248.8 184.9,248.5S216.3,247.7 231.9,247.2L445.2,240.7"/>
<path d="M95,251L137.8,253.3C153.5,254.2 169.2,254.9 184.9,255.6S216.3,256.9 231.9,257.5L445.2,264.5"/>
<path d="M95,232.6L137.8,233.5C153.5,233.8 169.2,234.2 184.9,234.8S216.3,235.9 231.9,236.6L445.2,246.1"/>
<path d="M95,237.6L137.8,237C153.5,236.8 169.2,236.6 184.9,236.6S216.3,236.4 231.9,236.5L445.2,237.2"/>
<path d="M95,237.5L137.8,238.6C153.5,239 169.2,239.4 184.9,239.8S216.3,240.6 231.9,241.1L445.2,246.9"/>
<path d="M95,237.4L137.8,231.5C153.5,229.4 169.2,227.7 184.9,226.9S216.3,225.9 231.9,226.6L445.2,235.8"/>
<path d="M95,242.8L137.8,245.5C153.5,246.5 169.2,247.5 184.9,248.4S216.3,250.3 231.9,251.1L445.2,262.2"/>
<path d="M95,235.4L137.8,235.5C153.5,235.5 169.2,235.8 184.9,236.2S216.3,237.1 231.9,237.8L445.2,247.3"/>
<path d="M95,240.7L137.8,239.4C153.5,238.9 169.2,238.7 184.9,238.7S216.3,239.1 231.9,239.6L445.2,246.9"/>
<path d="M95,232.4L137.8,231C153.5,230.5 169.2,230.2 184.9,230.1S216.3,230.2 231.9,230.6L445.2,235.8"/>
<path d="M95,245.6L137.8,246.5C153.5,246.8 169.2,247 184.9,247S216.3,246.9 231.9,246.6L445.2,242.2"/>
<path d="M95,237.9L137.8,238.7C153.5,239 169.2,239.3 184.9,239.6S216.3,240.4 231.9,240.8L445.2,246.1"/>
<path d="M95,245.4L137.8,247.8C153.5,248.6 169.2,249.4 184.9,250S216.3,251.1 231.9,251.5L445.2,255.9"/>
<path d="M95,233.4L137.8,228.2C153.5,226.2 169.2,224.9 184.9,224.2S216.3,223.6 231.9,224.3L445.2,234.3"/>
<path d="M95,238.8L137.8,237.1C153.5,236.5 169.2,235.9 184.9,235.3S216.3,234.2 231.9,233.8L445.2,227.5"/>
<path d="M95,247.5L137.8,248.3C153.5,248.5 169.2,248.7 184.9,248.7S216.3,248.5 231.9,248.2L445.2,244.6"/>
<path d="M95,240.2L137.8,243.4C153.5,244.5 169.2,245.6 184.9,246.5S216.3,248.1 231.9,248.5L445.2,254.3"/>
<path d="M95,237.3L137.8,236C153.5,235.6 169.2,235.3 184.9,235.3S216.3,235.6 231.9,236.2L445.2,243.1"/>
<path d="M95,244.5L137.8,241.5C153.5,240.5 169.2,239.4 184.9,238.3S216.3,236.1 231.9,235.1L445.2,221"/>
<path d="M95,245.3L445.2,251.9"/>
<path d="M95,250.2L137.8,251C153.5,251.2 169.2,251.5 184.9,251.6S216.3,251.8 231.9,251.7L445.2,251.2"/>
<path d="M95,237.9L137.8,235.2C153.5,234.3 169.2,233.4 184.9,232.5S216.3,230.9 231.9,230.2L445.2,220.6"/>
<path d="M95,235L137.8,235.8C153.5,236.1 169.2,236.6 184.9,237.3S216.3,238.8 231.9,239.7L445.2,252.3"/>
<path d="M95,236.8L137.8,237.3C153.5,237.4 169.2,237.6 184.9,237.9S216.3,238.4 231.9,238.7L445.2,243.1"/>
<path d="M95,239.4L137.8,237.3C153.5,236.5 169.2,235.8 184.9,235S216.3,233.7 231.9,233.1L445.2,224.7"/>
<path d="M95,240.2L137.8,239.9C153.5,239.8 169.2,239.7 184.9,239.6S216.3,239.5 231.9,239.5L445.2,239.1"/>
<path d="M95,237.6L445.2,245.2"/>
<path d="M95,234.7L137.8,231.4C153.5,230.2 169.2,229.9 184.9,230.5S216.3,232.6 231.9,234.7L445.2,263.4"/>
<path d="M95,240.9L137.8,241.1C153.5,241.1 169.2,241.2 184.9,241.3S216.3,241.6 231.9,241.7L445.2,243.6"/>
<path d="M95,245.9L137.8,246.9C153.5,247.3 169.2,247.5 184.9,247.7S216.3,247.7 231.9,247.6L445.2,245.3"/>
<path d="M95,234.4L445.2,215.4"/>
<path d="M95,248.8L137.8,252.8C153.5,254.3 169.2,255.4 184.9,256S216.3,256.7 231.9,256.4L445.2,251.4"/>
<path d="M95,240.1L137.8,240.5C153.5,240.7 169.2,240.8 184.9,241S216.3,241.4 231.9,241.6L445.2,244.4"/>
<path d="M95,248.2L137.8,248.7C153.5,248.8 169.2,248.9 184.9,248.8S216.3,248.5 231.9,248.2L445.2,243.7"/>
<path d="M95,243.3L137.8,242C153.5,241.4 169.2,240.9 184.9,240.4S216.3,239.5 231.9,239L445.2,233.2"/>
<path d="M95,232.4L137.8,232.3C153.5,232.3 169.2,232.4 184.9,232.7S216.3,233.4 231.9,233.9L445.2,240.8"/>
<path d="M95,249.7L137.8,250.9C153.5,251.4 169.2,251.6 184.9,251.6S216.3,251.3 231.9,250.8L445.2,244.1"/>
<path d="M95,237.3L137.8,234.9C153.5,233.9 169.2,233.2 184.9,232.6S216.3,231.7 231.9,231.6L445.2,229.8"/>
<path d="M95,239.4L137.8,243.3C153.5,244.7 169.2,246 184.9,246.8S216.3,247.9 231.9,247.7L445.2,244.7"/>
<path d="M95,236.7L137.8,236.9C153.5,237 169.2,237.3 184.9,237.8S216.3,239 231.9,239.8L445.2,250.4"/>
<path d="M95,243.9L137.8,248.7C153.5,250.5 169.2,252.2 184.9,253.7S216.3,256.5 231.9,257.6L445.2,272.8"/>
<path d="M95,232.2L137.8,231C153.5,230.6 169.2,230.5 184.9,230.6S216.3,231.1 231.9,231.8L445.2,240.6"/>
<path d="M95,250.4L137.8,251.3C153.5,251.7 169.2,252 184.9,252.2S216.3,252.5 231.9,252.5L445.2,252.9"/>
<path d="M95,241.6L445.2,276.8"/>
<path d="M95,243L137.8,244.8C153.5,245.4 169.2,246 184.9,246.6S216.3,247.6 231.9,248L445.2,253.4"/>
<path d="M95,238.6L137.8,241.6C153.5,242.7 169.2,243.8 184.9,244.7S216.3,246.5 231.9,247L445.2,253.8"/>
<path d="M95,246.6L137.8,248.9C153.5,249.8 169.2,250.4 184.9,250.6S216.3,250.7 231.9,250.3L445.2,244.1"/>
<path d="M95,239.8L137.8,243C153.5,244.1 169.2,245.2 184.9,246.2S216.3,248.1 231.9,248.8L445.2,258.5"/>
<path d="M95,235.3L137.8,236.8C153.5,237.3 169.2,237.9 184.9,238.5S216.3,239.9 231.9,240.6L445.2,250.6"/>
<path d="M95,243.2L137.8,244.7C153.5,245.2 169.2,245.6 184.9,245.9S216.3,246.2 231.9,246.1L445.2,244.6"/>
<path d="M95,243.6L137.8,245.6C153.5,246.4 169.2,247 184.9,247.5S216.3,248.4 231.9,248.6L445.2,251.5"/>
<path d="M95,245.5L137.8,251.6C153.5,253.9 169.2,255.9 184.9,257.5S216.3,260.3 231.9,261L445.2,271.2"/>
<path d="M95,244.8L137.8,245.7C153.5,246 169.2,246.3 184.9,246.6S216.3,247.1 231.9,247.3L445.2,250"/>
<path d="M95,246.1L137.8,247.7C153.5,248.3 169.2,248.2 184.9,247.6S216.3,245.7 231.9,244.2L445.2,223.9"/>
<path d="M95,239.7L137.8,238.6C153.5,238.2 169.2,237.8 184.9,237.6S216.3,237.4 231.9,237.4L445.2,237.9"/>
<path d="M95,236.9L137.8,238.4C153.5,238.9 169.2,239.5 184.9,240.2S216.3,241.5 231.9,242.2L445.2,251.2"/>
<path d="M95,249.5L445.2,250.9"/>
<path d="M95,237.6L137.8,234.6C153.5,233.6 169.2,232.5 184.9,231.6S216.3,229.9 231.9,229.3L445.2,220.3"/>
<path d="M95,234.7L137.8,231.8C153.5,230.7 169.2,230 184.9,229.7S216.3,229.7 231.9,230.3L445.2,238.9"/>
<path d="M95,241.5L137.8,244.6C153.5,245.7 169.2,246.8 184.9,247.9S216.3,249.9 231.9,250.7L445.2,262.5"/>
<path d="M95,235L137.8,235.7C153.5,236 169.2,236.5 184.9,237.2S216.3,238.6 231.9,239.5L445.2,251.7"/>
<path d="M95,237L137.8,236.3C153.5,236 169.2,236 184.9,236.5S216.3,237.7 231.9,238.6L445.2,251.9"/>
<path d="M95,239.7L137.8,240.9C153.5,241.3 169.2,241.8 184.9,242.2S216.3,243.1 231.9,243.5L445.2,249.3"/>
<path d="M95,243.7L137.8,243.4C153.5,243.3 169.2,243.2 184.9,243S216.3,242.6 231.9,242.4L445.2,239.3"/>
<path d="M95,243.1L137.8,246.4C153.5,247.5 169.2,248.6 184.9,249.5S216.3,251 231.9,251.5L445.2,257.4"/>
<path d="M95,233.2L445.2,225.8"/>
<path d="M95,246L137.8,249C153.5,250.1 169.2,251.1 184.9,251.8S216.3,253.2 231.9,253.6L445.2,258.9"/>
<path d="M95,238.5L137.8,234.6C153.5,233.2 169.2,232 184.9,231S216.3,229.2 231.9,228.8L445.2,222.7"/>
<path d="M95,246.5L137.8,247.8C153.5,248.3 169.2,248.6 184.9,248.8S216.3,248.9 231.9,248.7L445.2,246"/>
<path d="M95,241.8L445.2,260.8"/>
<path d="M95,243.4L137.8,243.6C153.5,243.6 169.2,243.7 184.9,243.6S216.3,243.6 231.9,243.5L445.2,242.1"/>
<path d="M95,250.5L137.8,254.7C153.5,256.2 169.2,256.8 184.9,256.2S216.3,253.9 231.9,251.4L445.2,218"/>
<path d="M95,241.7L137.8,242C153.5,242.1 169.2,242.2 184.9,242.3S216.3,242.4 231.9,242.5L445.2,242.8"/>
<path d="M95,236.7L137.8,234.7C153.5,233.9 169.2,233.2 184.9,232.6S216.3,231.5 231.9,231.1L445.2,225.3"/>
<path d="M95,240.8L445.2,273.2"/>
<path d="M95,235.8L137.8,231.9C153.5,230.5 169.2,229.2 184.9,227.9S216.3,225.3 231.9,224.1L445.2,207.7"/>
<path d="M95,237.1L137.8,238.8C153.5,239.4 169.2,240 184.9,240.7S216.3,242 231.9,242.7L445.2,251.7"/>
</g><use href="#r2" transform="translate(0,483.4) scale(1,-1)"/></g>
<rect x="138.2" y="12.3" width="93.1" height="9.9" fill="#d3d3d3" stroke="#000" stroke-width="1.3"/>
<rect x="138.2" y="62.1" width="93.1" height="10.1" fill="#d3d3d3" stroke="#000" stroke-width="1.3"/>
<line x1="252.2" y1="83.8" x2="252.2" y2="0.8" stroke="#000" stroke-width="1.6" stroke-dasharray="4.7,2.1" stroke-dashoffset="1.5"/>
<line x1="285.6" y1="83.8" x2="285.6" y2="0.8" stroke="#000" stroke-width="1.6" stroke-dasharray="4.7,2.1" stroke-dashoffset="1.5"/>
<path d="M94.9,8.9h-4.4M94.9,42.3h-4.4M94.9,75.7h-4.4M95,83.8v4.4M154.5,83.8v4.4M214.1,83.8v4.4M273.6,83.8v4.4M333.2,83.8v4.4M392.8,83.8v4.4" stroke="#000" stroke-width="2.0" fill="none"/>
<rect x="94.9" y="0.8" width="348.1" height="83" fill="none" stroke="#000" stroke-width="2.2"/>
<text x="85.3" y="15.7" font-size="19" text-anchor="end">10</text>
<text x="85.3" y="49.1" font-size="19" text-anchor="end">0</text>
<text x="85.3" y="82.5" font-size="19" text-anchor="end">−10</text>
<text transform="translate(44.3,43) rotate(-90)" font-size="19" text-anchor="middle">x (mm)</text>
<text x="-1.3" y="24.4" font-size="33">a</text>
<rect x="138.2" y="111.9" width="93.1" height="9.9" fill="#d3d3d3" stroke="#000" stroke-width="1.3"/>
<rect x="138.2" y="161.7" width="93.1" height="10.1" fill="#d3d3d3" stroke="#000" stroke-width="1.3"/>
<line x1="252.2" y1="183.4" x2="252.2" y2="100.4" stroke="#000" stroke-width="1.6" stroke-dasharray="4.7,2.1" stroke-dashoffset="1.5"/>
<line x1="285.6" y1="183.4" x2="285.6" y2="100.4" stroke="#000" stroke-width="1.6" stroke-dasharray="4.7,2.1" stroke-dashoffset="1.5"/>
<path d="M94.9,108.6h-4.4M94.9,141.9h-4.4M94.9,175.2h-4.4M95,183.4v4.4M154.5,183.4v4.4M214.1,183.4v4.4M273.6,183.4v4.4M333.2,183.4v4.4M392.8,183.4v4.4" stroke="#000" stroke-width="2.0" fill="none"/>
<rect x="94.9" y="100.4" width="348.1" height="83" fill="none" stroke="#000" stroke-width="2.2"/>
<text x="85.3" y="115.4" font-size="19" text-anchor="end">10</text>
<text x="85.3" y="148.7" font-size="19" text-anchor="end">0</text>
<text x="85.3" y="182.1" font-size="19" text-anchor="end">−10</text>
<text transform="translate(44.3,142.6) rotate(-90)" font-size="19" text-anchor="middle">x (mm)</text>
<text x="-1.3" y="124" font-size="33">b</text>
<rect x="138.2" y="211.7" width="93.1" height="9.9" fill="#d3d3d3" stroke="#000" stroke-width="1.3"/>
<rect x="138.2" y="261.5" width="93.1" height="10.1" fill="#d3d3d3" stroke="#000" stroke-width="1.3"/>
<line x1="252.2" y1="283.2" x2="252.2" y2="200.2" stroke="#000" stroke-width="1.6" stroke-dasharray="4.7,2.1" stroke-dashoffset="1.5"/>
<line x1="285.6" y1="283.2" x2="285.6" y2="200.2" stroke="#000" stroke-width="1.6" stroke-dasharray="4.7,2.1" stroke-dashoffset="1.5"/>
<path d="M94.9,208.3h-4.4M94.9,241.7h-4.4M94.9,275.1h-4.4M95,283.2v4.4M142.6,283.2v4.4M190.2,283.2v4.4M237.9,283.2v4.4M285.6,283.2v4.4M333.2,283.2v4.4M380.9,283.2v4.4M428.5,283.2v4.4" stroke="#000" stroke-width="2.0" fill="none"/>
<rect x="94.9" y="200.2" width="348.1" height="83" fill="none" stroke="#000" stroke-width="2.2"/>
<text x="85.3" y="215.2" font-size="19" text-anchor="end">10</text>
<text x="85.3" y="248.5" font-size="19" text-anchor="end">0</text>
<text x="85.3" y="281.9" font-size="19" text-anchor="end">−10</text>
<text transform="translate(44.3,242.4) rotate(-90)" font-size="19" text-anchor="middle">x (mm)</text>
<text x="-1.3" y="223.8" font-size="33">c</text>
<text x="95" y="306.3" font-size="19" text-anchor="middle">0.0</text>
<text x="142.6" y="306.3" font-size="19" text-anchor="middle">0.2</text>
<text x="190.2" y="306.3" font-size="19" text-anchor="middle">0.4</text>
<text x="237.9" y="306.3" font-size="19" text-anchor="middle">0.6</text>
<text x="285.6" y="306.3" font-size="19" text-anchor="middle">0.8</text>
<text x="333.2" y="306.3" font-size="19" text-anchor="middle">1.0</text>
<text x="380.9" y="306.3" font-size="19" text-anchor="middle">1.2</text>
<text x="428.5" y="306.3" font-size="19" text-anchor="middle">1.4</text>
<text x="268.5" y="329.4" font-size="19" text-anchor="middle">z (m)</text>
<rect x="479.3" y="0.8" width="83.8" height="83" fill="url(#g0)" filter="url(#h0)"/>
<path d="M563.1,8.9h4.4M554.6,83.8v4.4M563.1,42.3h4.4M521.2,83.8v4.4M563.1,75.7h4.4M487.9,83.8v4.4" stroke="#000" stroke-width="2.0" fill="none"/>
<rect x="479.3" y="0.8" width="83.8" height="83" fill="none" stroke="#000" stroke-width="2.2"/>
<text x="572" y="15.7" font-size="19">10</text>
<text x="572" y="49.1" font-size="19">0</text>
<text x="572" y="82.5" font-size="19">−10</text>
<text transform="translate(624,43) rotate(-90)" font-size="19" text-anchor="middle">x (mm)</text>
<text x="454.6" y="24.4" font-size="33">d</text>
<rect x="479.3" y="100.4" width="83.8" height="83" fill="url(#g1)" filter="url(#h1)"/>
<path d="M563.1,108.6h4.4M554.6,183.4v4.4M563.1,141.9h4.4M521.2,183.4v4.4M563.1,175.2h4.4M487.9,183.4v4.4" stroke="#000" stroke-width="2.0" fill="none"/>
<rect x="479.3" y="100.4" width="83.8" height="83" fill="none" stroke="#000" stroke-width="2.2"/>
<text x="572" y="115.4" font-size="19">10</text>
<text x="572" y="148.7" font-size="19">0</text>
<text x="572" y="182.1" font-size="19">−10</text>
<text transform="translate(624,142.6) rotate(-90)" font-size="19" text-anchor="middle">x (mm)</text>
<text x="454.6" y="124" font-size="33">e</text>
<rect x="479.3" y="200.2" width="83.8" height="83" fill="url(#g2)" filter="url(#h2)"/>
<path d="M563.1,208.3h4.4M554.6,283.2v4.4M563.1,241.7h4.4M521.2,283.2v4.4M563.1,275.1h4.4M487.9,283.2v4.4" stroke="#000" stroke-width="2.0" fill="none"/>
<rect x="479.3" y="200.2" width="83.8" height="83" fill="none" stroke="#000" stroke-width="2.2"/>
<text x="572" y="215.2" font-size="19">10</text>
<text x="572" y="248.5" font-size="19">0</text>
<text x="572" y="281.9" font-size="19">−10</text>
<text transform="translate(624,242.4) rotate(-90)" font-size="19" text-anchor="middle">x (mm)</text>
<text x="459.8" y="223.8" font-size="33">f</text>
<text x="554.6" y="306.4" font-size="19" text-anchor="middle">10</text>
<text x="521.2" y="306.4" font-size="19" text-anchor="middle">0</text>
<text x="487.9" y="306.4" font-size="19" text-anchor="middle">−10</text>
<text x="520.5" y="329.4" font-size="19" text-anchor="middle">y (mm)</text>
<rect x="660.9" y="36" width="11.3" height="211.6" fill="url(#cb)" stroke="#000" stroke-width="2.2"/>
<text x="674.5" y="45.8" font-size="19">1</text>
<text x="674.5" y="256.2" font-size="19">0</text>
 <text x="653.3" y="272.6" font-size="19">Int.</text>
</svg></body></html>
